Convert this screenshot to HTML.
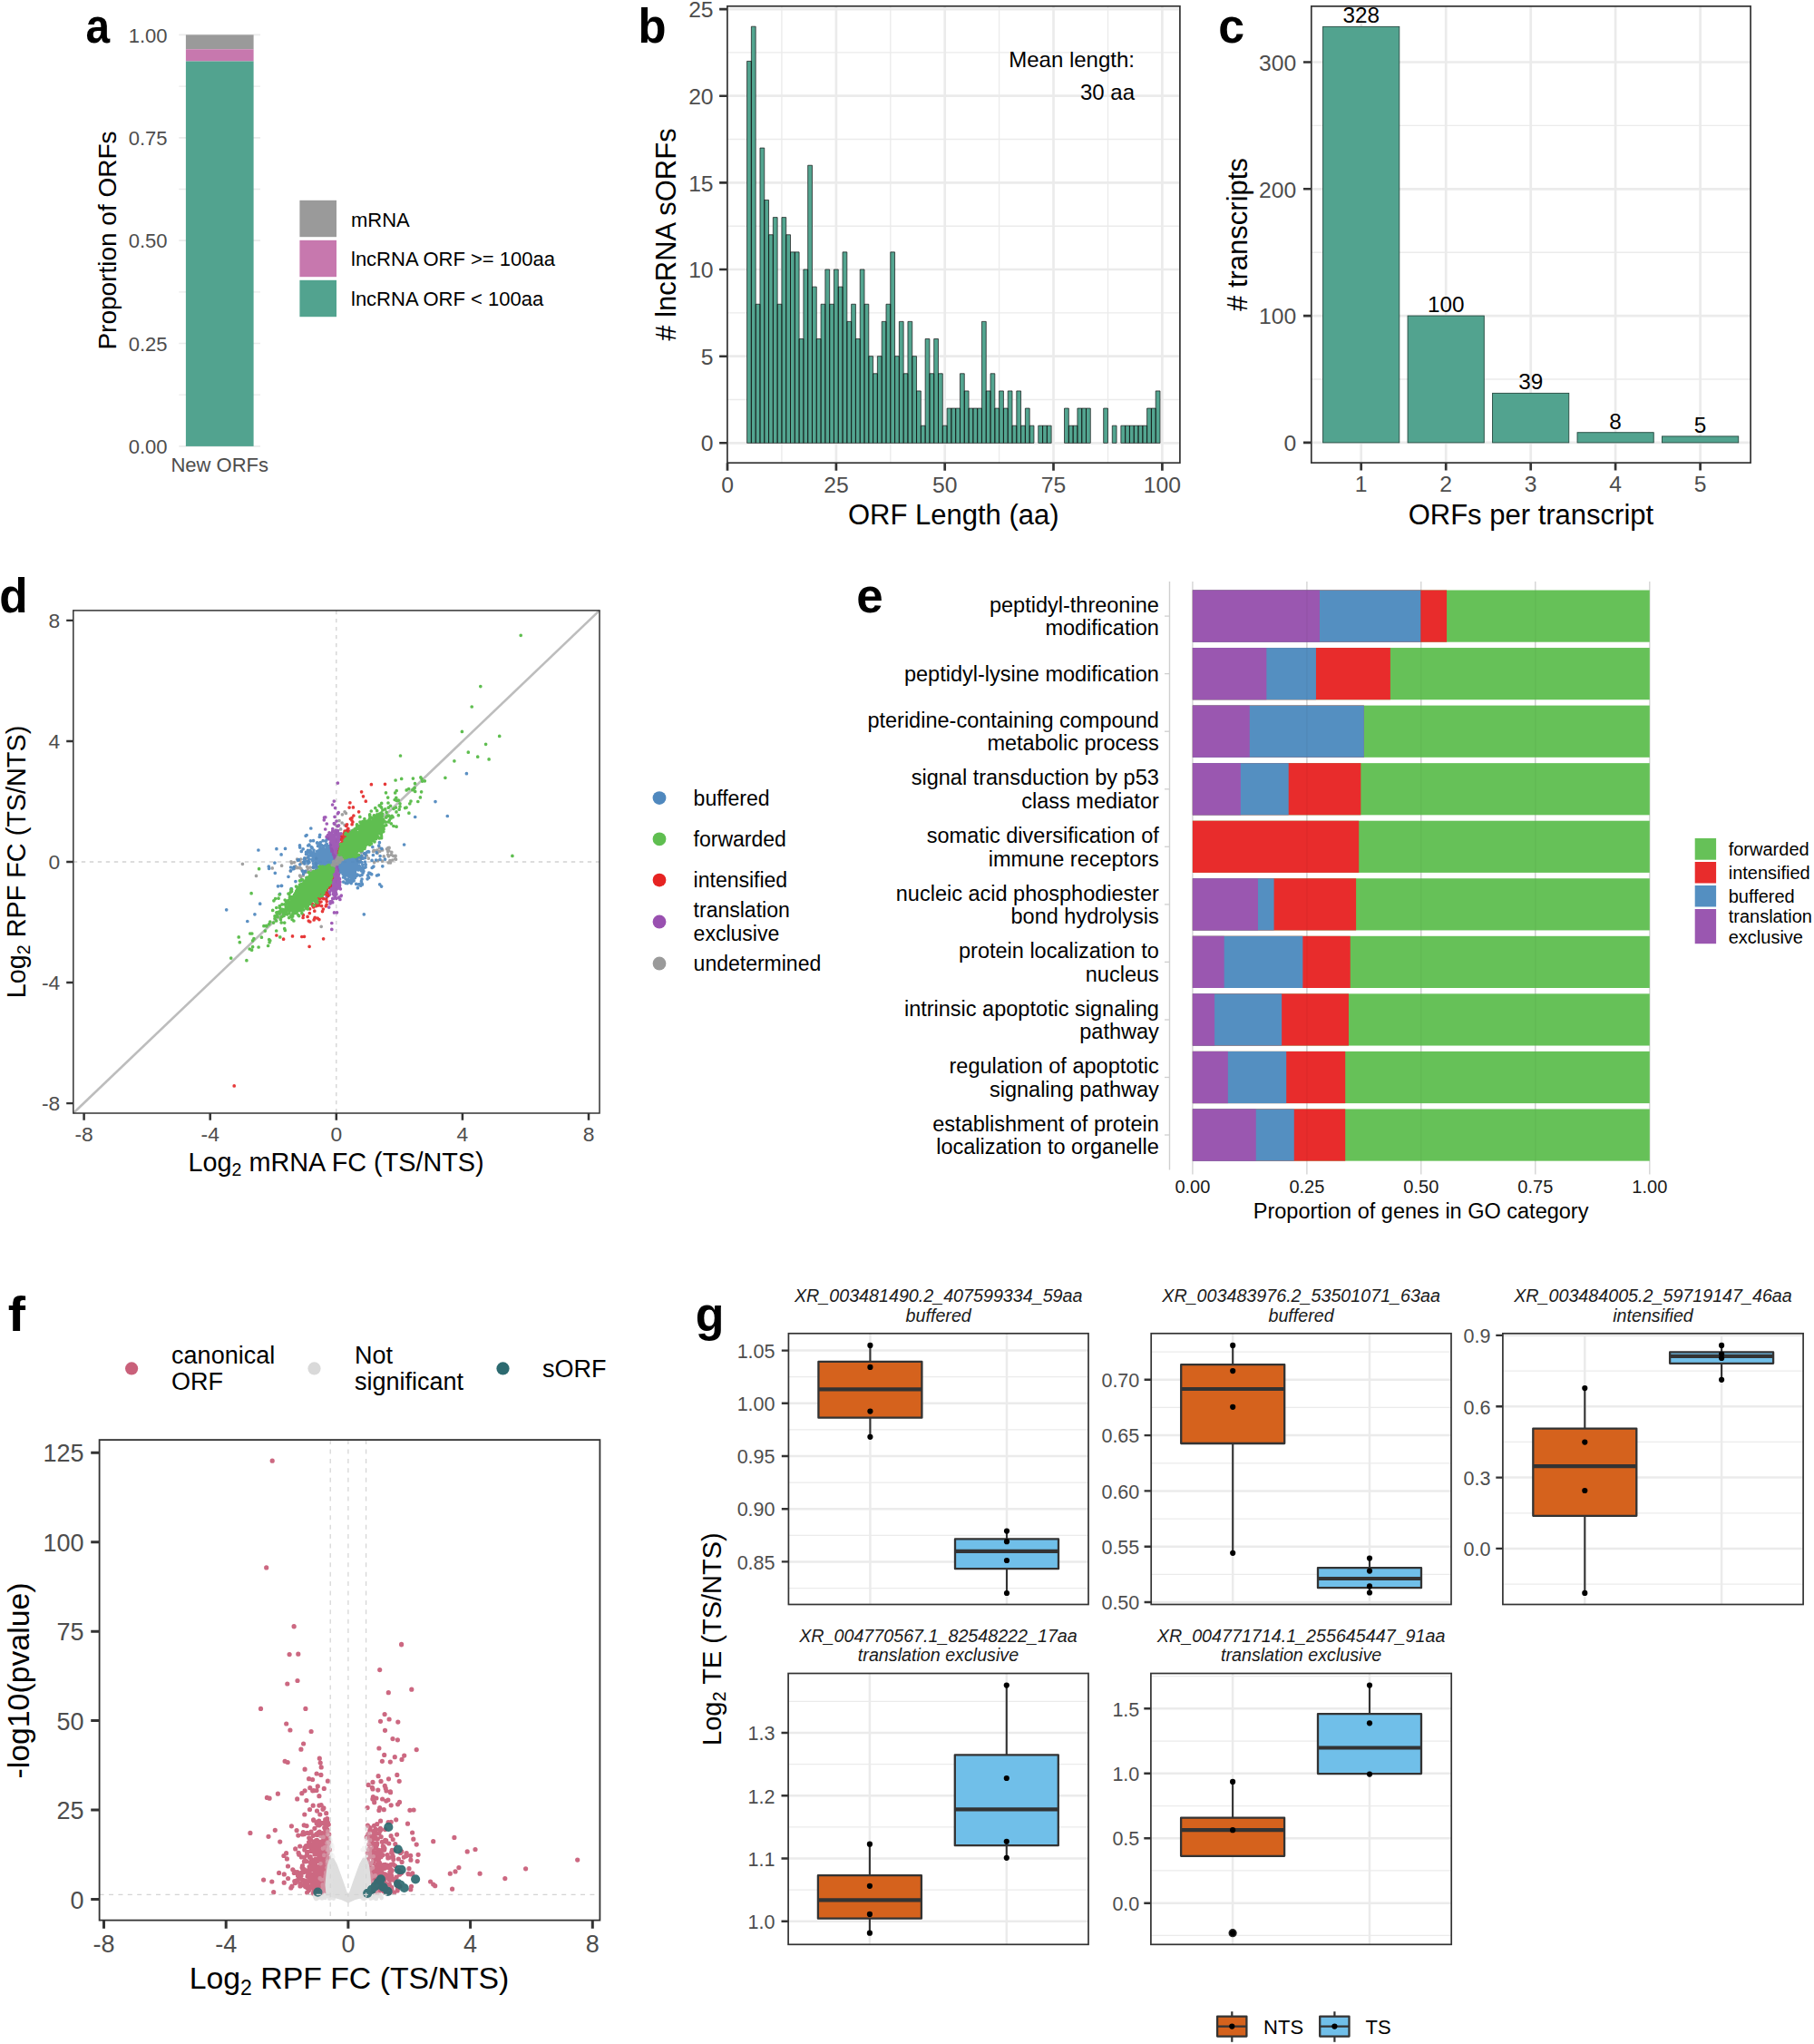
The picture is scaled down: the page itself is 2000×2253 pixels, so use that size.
<!DOCTYPE html>
<html><head><meta charset="utf-8"><title>figure</title>
<style>html,body{margin:0;padding:0;background:#fff}svg{display:block}text{font-family:"Liberation Sans",sans-serif;white-space:pre}</style></head>
<body>
<svg width="2000" height="2253" viewBox="0 0 2000 2253">
<rect width="2000" height="2253" fill="#fff"/>
<path d="M197.3 435.2H287M197.3 321.8H287M197.3 208.5H287M197.3 95.1H287" stroke="#ebebeb" stroke-width="1.3" fill="none"/>
<path d="M197.3 491.9H287M197.3 378.5H287M197.3 265.1H287M197.3 151.8H287M197.3 38.4H287" stroke="#ebebeb" stroke-width="1.7" fill="none"/>
<rect x="204.90" y="38.40" width="74.70" height="15.87" fill="#9a9a9a"/>
<rect x="204.90" y="54.27" width="74.70" height="13.24" fill="#c778ae"/>
<rect x="204.90" y="67.51" width="74.70" height="424.39" fill="#52a38f"/>
<text x="184.5" y="500.1" font-size="22" text-anchor="end" fill="#4d4d4d">0.00</text>
<text x="184.5" y="386.7" font-size="22" text-anchor="end" fill="#4d4d4d">0.25</text>
<text x="184.5" y="273.3" font-size="22" text-anchor="end" fill="#4d4d4d">0.50</text>
<text x="184.5" y="160" font-size="22" text-anchor="end" fill="#4d4d4d">0.75</text>
<text x="184.5" y="46.6" font-size="22" text-anchor="end" fill="#4d4d4d">1.00</text>
<text x="242.2" y="519.9" font-size="22" text-anchor="middle" fill="#4d4d4d">New ORFs</text>
<text transform="translate(127.5 265) rotate(-90)" font-size="28" text-anchor="middle" fill="#000">Proportion of ORFs</text>
<rect x="330.40" y="220.80" width="40.60" height="40.40" fill="#9a9a9a"/>
<text x="387" y="249.6" font-size="22" text-anchor="start" fill="#000">mRNA</text>
<rect x="330.40" y="264.80" width="40.60" height="40.40" fill="#c778ae"/>
<text x="387" y="293.2" font-size="22" text-anchor="start" fill="#000">lncRNA ORF &gt;= 100aa</text>
<rect x="330.40" y="308.80" width="40.60" height="40.40" fill="#52a38f"/>
<text x="387" y="336.8" font-size="22" text-anchor="start" fill="#000">lncRNA ORF &lt; 100aa</text>
<text transform="translate(94.4 46.8) scale(0.893 1)" font-size="53.5" font-weight="bold" fill="#000">a</text>
<rect x="801.90" y="6.80" width="499.00" height="503.40" fill="#fff"/>
<path d="M801.9 440.5H1300.9M801.9 344.8H1300.9M801.9 249.2H1300.9M801.9 153.5H1300.9M801.9 57.9H1300.9" stroke="#ebebeb" stroke-width="1.35" fill="none"/>
<path d="M861.9 6.8V510.2M981.8 6.8V510.2M1101.6 6.8V510.2M1221.5 6.8V510.2" stroke="#ebebeb" stroke-width="1.35" fill="none"/>
<path d="M801.9 488.3H1300.9M801.9 392.7H1300.9M801.9 297H1300.9M801.9 201.4H1300.9M801.9 105.7H1300.9M801.9 10.1H1300.9" stroke="#ebebeb" stroke-width="2.7" fill="none"/>
<path d="M921.9 6.8V510.2M1041.7 6.8V510.2M1161.5 6.8V510.2M1281.4 6.8V510.2" stroke="#ebebeb" stroke-width="2.7" fill="none"/>
<path d="M823.57 488.30h4.79v-420.86h-4.79zM828.37 488.30h4.79v-459.12h-4.79zM833.16 488.30h4.79v-153.04h-4.79zM837.96 488.30h4.79v-325.21h-4.79zM842.75 488.30h4.79v-267.82h-4.79zM847.54 488.30h4.79v-229.56h-4.79zM852.34 488.30h4.79v-248.69h-4.79zM857.13 488.30h4.79v-153.04h-4.79zM861.92 488.30h4.79v-248.69h-4.79zM866.72 488.30h4.79v-229.56h-4.79zM871.51 488.30h4.79v-210.43h-4.79zM876.31 488.30h4.79v-210.43h-4.79zM881.10 488.30h4.79v-114.78h-4.79zM885.89 488.30h4.79v-191.30h-4.79zM890.69 488.30h4.79v-306.08h-4.79zM895.48 488.30h4.79v-172.17h-4.79zM900.28 488.30h4.79v-114.78h-4.79zM905.07 488.30h4.79v-153.04h-4.79zM909.87 488.30h4.79v-191.30h-4.79zM914.66 488.30h4.79v-153.04h-4.79zM919.45 488.30h4.79v-191.30h-4.79zM924.25 488.30h4.79v-172.17h-4.79zM929.04 488.30h4.79v-210.43h-4.79zM933.84 488.30h4.79v-133.91h-4.79zM938.63 488.30h4.79v-153.04h-4.79zM943.42 488.30h4.79v-114.78h-4.79zM948.22 488.30h4.79v-191.30h-4.79zM953.01 488.30h4.79v-153.04h-4.79zM957.80 488.30h4.79v-95.65h-4.79zM962.60 488.30h4.79v-76.52h-4.79zM967.39 488.30h4.79v-95.65h-4.79zM972.19 488.30h4.79v-133.91h-4.79zM976.98 488.30h4.79v-153.04h-4.79zM981.77 488.30h4.79v-210.43h-4.79zM986.57 488.30h4.79v-95.65h-4.79zM991.36 488.30h4.79v-133.91h-4.79zM996.16 488.30h4.79v-76.52h-4.79zM1000.95 488.30h4.79v-133.91h-4.79zM1005.75 488.30h4.79v-95.65h-4.79zM1010.54 488.30h4.79v-57.39h-4.79zM1015.33 488.30h4.79v-19.13h-4.79zM1020.13 488.30h4.79v-114.78h-4.79zM1024.92 488.30h4.79v-76.52h-4.79zM1029.71 488.30h4.79v-114.78h-4.79zM1034.51 488.30h4.79v-76.52h-4.79zM1039.30 488.30h4.79v-19.13h-4.79zM1044.10 488.30h4.79v-38.26h-4.79zM1048.89 488.30h4.79v-38.26h-4.79zM1053.68 488.30h4.79v-38.26h-4.79zM1058.48 488.30h4.79v-76.52h-4.79zM1063.27 488.30h4.79v-57.39h-4.79zM1068.07 488.30h4.79v-38.26h-4.79zM1072.86 488.30h4.79v-38.26h-4.79zM1077.65 488.30h4.79v-38.26h-4.79zM1082.45 488.30h4.79v-133.91h-4.79zM1087.24 488.30h4.79v-57.39h-4.79zM1092.04 488.30h4.79v-76.52h-4.79zM1096.83 488.30h4.79v-38.26h-4.79zM1101.62 488.30h4.79v-57.39h-4.79zM1106.42 488.30h4.79v-38.26h-4.79zM1111.21 488.30h4.79v-57.39h-4.79zM1116.01 488.30h4.79v-19.13h-4.79zM1120.80 488.30h4.79v-57.39h-4.79zM1125.60 488.30h4.79v-19.13h-4.79zM1130.39 488.30h4.79v-38.26h-4.79zM1135.18 488.30h4.79v-19.13h-4.79zM1144.77 488.30h4.79v-19.13h-4.79zM1149.57 488.30h4.79v-19.13h-4.79zM1154.36 488.30h4.79v-19.13h-4.79zM1173.53 488.30h4.79v-38.26h-4.79zM1178.33 488.30h4.79v-19.13h-4.79zM1183.12 488.30h4.79v-19.13h-4.79zM1187.92 488.30h4.79v-38.26h-4.79zM1192.71 488.30h4.79v-38.26h-4.79zM1197.50 488.30h4.79v-38.26h-4.79zM1216.68 488.30h4.79v-38.26h-4.79zM1226.27 488.30h4.79v-19.13h-4.79zM1235.86 488.30h4.79v-19.13h-4.79zM1240.65 488.30h4.79v-19.13h-4.79zM1245.44 488.30h4.79v-19.13h-4.79zM1250.24 488.30h4.79v-19.13h-4.79zM1255.03 488.30h4.79v-19.13h-4.79zM1259.83 488.30h4.79v-19.13h-4.79zM1264.62 488.30h4.79v-38.26h-4.79zM1269.41 488.30h4.79v-38.26h-4.79zM1274.21 488.30h4.79v-57.39h-4.79z" fill="#53a590" stroke="#111" stroke-width="0.7" stroke-linejoin="miter"/>
<rect x="801.90" y="6.80" width="499.00" height="503.40" fill="none" stroke="#333333" stroke-width="1.7"/>
<path d="M793.1 488.3H801.9M793.1 392.7H801.9M793.1 297H801.9M793.1 201.4H801.9M793.1 105.7H801.9M793.1 10.1H801.9" stroke="#333333" stroke-width="2.6" fill="none"/>
<path d="M802 510.2V518.8M921.9 510.2V518.8M1041.7 510.2V518.8M1161.5 510.2V518.8M1281.4 510.2V518.8" stroke="#333333" stroke-width="2.7" fill="none"/>
<text x="786.6" y="497.4" font-size="24.7" text-anchor="end" fill="#4d4d4d">0</text>
<text x="786.6" y="401.8" font-size="24.7" text-anchor="end" fill="#4d4d4d">5</text>
<text x="786.6" y="306.1" font-size="24.7" text-anchor="end" fill="#4d4d4d">10</text>
<text x="786.6" y="210.5" font-size="24.7" text-anchor="end" fill="#4d4d4d">15</text>
<text x="786.6" y="114.8" font-size="24.7" text-anchor="end" fill="#4d4d4d">20</text>
<text x="786.6" y="19.2" font-size="24.7" text-anchor="end" fill="#4d4d4d">25</text>
<text x="802" y="542.7" font-size="24.7" text-anchor="middle" fill="#4d4d4d">0</text>
<text x="921.9" y="542.7" font-size="24.7" text-anchor="middle" fill="#4d4d4d">25</text>
<text x="1041.7" y="542.7" font-size="24.7" text-anchor="middle" fill="#4d4d4d">50</text>
<text x="1161.5" y="542.7" font-size="24.7" text-anchor="middle" fill="#4d4d4d">75</text>
<text x="1281.4" y="542.7" font-size="24.7" text-anchor="middle" fill="#4d4d4d">100</text>
<text x="1051.3" y="577.5" font-size="31" text-anchor="middle" fill="#000">ORF Length (aa)</text>
<text transform="translate(745.3 258.5) rotate(-90)" font-size="31" text-anchor="middle" fill="#000"># lncRNA sORFs</text>
<text x="1251" y="74.1" font-size="24" text-anchor="end" fill="#000">Mean length:</text>
<text x="1251" y="109.6" font-size="24" text-anchor="end" fill="#000">30 aa</text>
<text transform="translate(703.5 46.8) scale(0.95 1)" font-size="53.5" font-weight="bold" fill="#000">b</text>
<rect x="1445.80" y="6.90" width="484.30" height="503.20" fill="#fff"/>
<path d="M1445.8 418H1930.1M1445.8 278.2H1930.1M1445.8 138.4H1930.1" stroke="#ebebeb" stroke-width="1.35" fill="none"/>
<path d="M1445.8 487.9H1930.1M1445.8 348.1H1930.1M1445.8 208.3H1930.1M1445.8 68.5H1930.1" stroke="#ebebeb" stroke-width="2.7" fill="none"/>
<path d="M1500.7 6.9V510.1M1594.2 6.9V510.1M1687.7 6.9V510.1M1781.1 6.9V510.1M1874.6 6.9V510.1" stroke="#ebebeb" stroke-width="2.7" fill="none"/>
<rect x="1458.60" y="29.36" width="84.20" height="458.54" fill="#52a38f" stroke="#24493f" stroke-width="0.9"/>
<text x="1500.7" y="25.4" font-size="24.3" text-anchor="middle" fill="#000">328</text>
<rect x="1552.08" y="348.10" width="84.20" height="139.80" fill="#52a38f" stroke="#24493f" stroke-width="0.9"/>
<text x="1594.2" y="344.1" font-size="24.3" text-anchor="middle" fill="#000">100</text>
<rect x="1645.56" y="433.38" width="84.20" height="54.52" fill="#52a38f" stroke="#24493f" stroke-width="0.9"/>
<text x="1687.7" y="429.4" font-size="24.3" text-anchor="middle" fill="#000">39</text>
<rect x="1739.04" y="476.72" width="84.20" height="11.18" fill="#52a38f" stroke="#24493f" stroke-width="0.9"/>
<text x="1781.1" y="472.7" font-size="24.3" text-anchor="middle" fill="#000">8</text>
<rect x="1832.52" y="480.91" width="84.20" height="6.99" fill="#52a38f" stroke="#24493f" stroke-width="0.9"/>
<text x="1874.6" y="476.9" font-size="24.3" text-anchor="middle" fill="#000">5</text>
<rect x="1445.80" y="6.90" width="484.30" height="503.20" fill="none" stroke="#333333" stroke-width="1.7"/>
<path d="M1437 487.9H1445.8M1437 348.1H1445.8M1437 208.3H1445.8M1437 68.5H1445.8" stroke="#333333" stroke-width="2.6" fill="none"/>
<path d="M1500.7 510.1V518.5M1594.2 510.1V518.5M1687.7 510.1V518.5M1781.1 510.1V518.5M1874.6 510.1V518.5" stroke="#333333" stroke-width="2.7" fill="none"/>
<text x="1429.3" y="497.2" font-size="24.7" text-anchor="end" fill="#4d4d4d">0</text>
<text x="1429.3" y="357.4" font-size="24.7" text-anchor="end" fill="#4d4d4d">100</text>
<text x="1429.3" y="217.6" font-size="24.7" text-anchor="end" fill="#4d4d4d">200</text>
<text x="1429.3" y="77.8" font-size="24.7" text-anchor="end" fill="#4d4d4d">300</text>
<text x="1500.7" y="542.2" font-size="24.7" text-anchor="middle" fill="#4d4d4d">1</text>
<text x="1594.2" y="542.2" font-size="24.7" text-anchor="middle" fill="#4d4d4d">2</text>
<text x="1687.7" y="542.2" font-size="24.7" text-anchor="middle" fill="#4d4d4d">3</text>
<text x="1781.1" y="542.2" font-size="24.7" text-anchor="middle" fill="#4d4d4d">4</text>
<text x="1874.6" y="542.2" font-size="24.7" text-anchor="middle" fill="#4d4d4d">5</text>
<text x="1687.9" y="577.5" font-size="31" text-anchor="middle" fill="#000">ORFs per transcript</text>
<text transform="translate(1374.7 258.5) rotate(-90)" font-size="31" text-anchor="middle" fill="#000"># transcripts</text>
<text transform="translate(1343.3 46.8) scale(0.97 1)" font-size="53.5" font-weight="bold" fill="#000">c</text>
<rect x="80.80" y="672.90" width="580.20" height="554.10" fill="#fff"/>
<line x1="370.8" y1="672.9" x2="370.8" y2="1227" stroke="#d2d2d2" stroke-width="1.3" stroke-dasharray="4.4 4.6"/>
<line x1="80.8" y1="950" x2="661" y2="950" stroke="#d2d2d2" stroke-width="1.3" stroke-dasharray="4.4 4.6"/>
<line x1="80.8" y1="1227" x2="661" y2="672.9" stroke="#bdbdbd" stroke-width="2.6"/>
<path d="M321 949.8h0M332.4 951h0M349.2 955h0M334.3 965.1h0M327 955.8h0M339.9 949.3h0M330.6 965.2h0M327.6 947h0M325.3 956.9h0M347.8 966.1h0M337.4 946.1h0M325.8 954.8h0M347.1 963.8h0M335 950.4h0M339.6 956.5h0M325 956h0M330.3 956.3h0M330.1 948.5h0M342.7 959.8h0M336.6 960.7h0M332.8 959h0M339.2 958.6h0M333 951.1h0M331.6 947h0M324.3 950.6h0M331.9 957.4h0M338.5 955.3h0M331.6 966.6h0M321.5 951.3h0M335 951.6h0M348.5 951.9h0M320.3 960h0M337.2 961.5h0M348.8 946.2h0M345.2 956.4h0M345 963.8h0M328.3 956.6h0M341.9 956.1h0M397.9 945.4h0M406.3 946.2h0M399.2 944.1h0M411.9 937.5h0M427.7 942.1h0M412.5 937.4h0M431.8 939.3h0M427.9 934.5h0M393.5 935.6h0M404.2 943h0M427.7 938.5h0M398.3 939.6h0M394.8 945.1h0M428.4 943.8h0M418.8 938.3h0M428.8 937.8h0M392 944h0M412.6 950.6h0M416.1 940.5h0M429.1 934.4h0M397.5 947.4h0M421.5 949.2h0M401.8 941.1h0M399.3 937.4h0M430.4 951h0M415.8 937.1h0M435.8 946.6h0M399.3 935.6h0M432.8 948h0M411.6 938.5h0M429.9 948.6h0M421.7 936.9h0M416.5 948.6h0M393.3 946.5h0M428.2 950.8h0M392 945h0M394.5 948.9h0M392.7 942.1h0M423.2 943.9h0M397.8 945.6h0M418.4 934.5h0M436.5 947.2h0M392.1 936.5h0M433.6 943.3h0M426.5 935.8h0M381.4 896.4h0M371.2 910.4h0M375.6 913.9h0M386.6 916h0M382.5 915.1h0M377.1 907h0M374 904.6h0M380.1 909.4h0M267.4 952.3h0M282.5 965.4h0M300.2 956.9h0M310.6 954.2h0M436.1 943.4h0M431.4 942.2h0M354.2 1021.3h0M380.1 894.8h0M377.4 897.8h0" stroke="#9a9a9a" stroke-width="3.7" stroke-linecap="round" fill="none" stroke-opacity="0.93"/>
<path d="M358.2 938.7h0M368.5 946.3h0M364.4 946.5h0M353.4 939.1h0M348.4 941.4h0M353.6 944.6h0M348.8 955.3h0M354.5 942.8h0M346.6 946.9h0M365.6 945.9h0M360.9 940h0M365.5 936.1h0M367 946.7h0M355.8 949.5h0M358.9 943.4h0M361.4 949.7h0M363.3 948.2h0M340.2 942.8h0M348.6 948.9h0M363.5 947.8h0M361.3 953.3h0M365.8 950.1h0M365 951.2h0M362.8 945.3h0M362.3 948.4h0M345.2 940.7h0M363.2 942.3h0M359.5 944h0M358.1 936.1h0M362.7 942.5h0M359.9 945.7h0M367.2 947.3h0M362.7 953.8h0M345 944.1h0M365 950h0M357.1 938.3h0M361 945.2h0M360.4 949.7h0M365.5 946.3h0M362.6 945.9h0M367.1 949.2h0M358.1 947.7h0M363.5 944.8h0M351.8 945.9h0M357.5 939.4h0M365.5 945.2h0M368.9 948.2h0M367 950.3h0M367.6 948.1h0M346 937h0M354.4 955h0M351.9 942.4h0M335.8 945.8h0M364.8 947.7h0M366.6 950.5h0M368 949.3h0M363.5 946.2h0M364.2 940h0M367.4 943.4h0M360 947.6h0M352.8 946.9h0M365.9 947.9h0M366.5 940.5h0M365.6 948.7h0M358.2 940.2h0M366.7 941.4h0M368.6 945.9h0M358.5 939.7h0M343.3 933.7h0M368.8 948.2h0M358.8 948.3h0M363.4 947.4h0M354.5 941.3h0M359.3 951.6h0M357.9 946.4h0M367 949.6h0M358.8 943.5h0M364.1 948.3h0M365.5 947.9h0M359.1 947h0M358.5 951.2h0M368.5 948.8h0M360.4 945.5h0M356.9 949.7h0M363.8 942.4h0M353 949.7h0M366.2 948.8h0M366.5 949.3h0M344.7 941.8h0M358.7 939.2h0M363.5 950.1h0M368.4 944.3h0M355.5 942.5h0M363.4 942.4h0M365 942h0M365.8 945.6h0M354.9 935.6h0M364.9 941.7h0M355 948.7h0M355.1 947.7h0M358.7 937.7h0M361.1 944h0M362.4 951.7h0M353.2 928.7h0M339.7 932h0M349.3 943h0M361.1 940.9h0M356.1 934.8h0M359.9 941h0M361.7 949.9h0M365.2 951.3h0M349 957h0M350.7 939.4h0M367.3 947h0M358.8 942.9h0M366.9 946.2h0M362.4 932.9h0M357.7 945.1h0M367.6 951.3h0M352 946.3h0M363.3 937.2h0M357.7 946h0M368.3 947.3h0M367.3 945h0M363 936.5h0M366.1 944.1h0M363.1 942.5h0M345.3 940.6h0M359 941.6h0M364.1 949.1h0M361.9 935.4h0M364.5 942.1h0M360.6 945.5h0M359.6 947.8h0M361.1 947.2h0M365.1 948.4h0M329.3 947.5h0M347.7 955.9h0M350.5 932.5h0M351.9 951.5h0M357.4 946.2h0M345.5 941.4h0M362.5 949.1h0M363.2 947.7h0M367.6 950.9h0M356 954h0M367.3 950.5h0M348.7 941.1h0M366 943.8h0M355.1 948.7h0M359.2 938.7h0M365.1 949.2h0M351.8 955.9h0M347.1 943.8h0M362.7 942.4h0M352.1 948.9h0M366.6 948.8h0M352.9 940.2h0M361.8 932.7h0M365.7 950.8h0M360.1 954h0M353.3 955.3h0M357.3 932.6h0M358.1 942.9h0M345.5 951.9h0M355.4 946.2h0M330.7 934.1h0M342.1 937.4h0M362 947.1h0M342.4 926.8h0M367.2 949.5h0M366.2 947.5h0M367.6 950.9h0M357.7 947.2h0M363.4 940.6h0M354.9 944.2h0M366.2 950.6h0M368.4 948h0M363.9 945.5h0M364.2 945.5h0M356.1 946.7h0M368.6 944.6h0M360.3 930.4h0M344.3 947.7h0M363.3 946h0M352 930.1h0M361.7 947.7h0M368.7 946.2h0M367.7 948.4h0M365.8 946.4h0M364.5 942.9h0M368.5 950.7h0M355.3 937.5h0M365.6 945.2h0M350.5 950.6h0M367 948.9h0M368.2 949.4h0M367.1 947h0M332.3 938.4h0M350 943.8h0M365.1 947.1h0M349.2 958.5h0M365 943.8h0M354.2 949.1h0M339.3 949.4h0M352.4 942.3h0M358.5 942.9h0M364.7 946.6h0M363.7 937.6h0M353.4 951.7h0M363.9 942h0M357.5 940.2h0M363.2 939.9h0M363 945.4h0M360 944.6h0M364.4 935.3h0M361.3 950.6h0M360.3 945.1h0M353 955.3h0M359.1 950.5h0M367.5 946.4h0M350.4 944.5h0M350.1 942h0M360.2 946.3h0M362.3 945.6h0M341.2 939.1h0M356.6 940.5h0M342.3 939.1h0M336 951.9h0M341 947.1h0M360.3 942.5h0M359.5 948.6h0M348.4 952.2h0M356.6 947.5h0M357.6 951.9h0M358.2 949.5h0M362.3 942.9h0M365 946.6h0M365 946.6h0M363.2 945.9h0M345.3 956.1h0M351.1 950.1h0M357.4 956.1h0M361.2 952.7h0M367.5 947.1h0M367.8 945.7h0M367.2 947.4h0M350.8 950.5h0M350.3 943.4h0M348.9 959.1h0M369.5 947h0M365.4 941.5h0M363.6 948.7h0M360.8 953h0M366.4 948.5h0M356.7 947.8h0M359.3 950.8h0M363.9 951.1h0M363.9 942.3h0M362.2 949.2h0M348.7 941.9h0M346.8 954.1h0M358.2 950h0M336.2 947.5h0M361.1 942.7h0M342.4 938.7h0M353.1 949h0M350.5 948.9h0M361.1 952h0M352.1 947.9h0M354 949.6h0M359.9 944.5h0M363.8 939.2h0M347.5 954.9h0M354.2 952.8h0M356.1 926.7h0M363.5 953.4h0M345.7 942.7h0M361.8 945.7h0M361.6 949.2h0M365.6 945.2h0M357.6 952.7h0M362.3 948.2h0M365.3 945.3h0M360.3 939.2h0M362.2 942.1h0M357.2 952.4h0M367.7 951h0M354.5 931.5h0M361.2 948.5h0M350.8 948.7h0M360.2 947.3h0M361.9 937.2h0M363.2 950.2h0M362.1 945.1h0M360.3 942.3h0M364.6 943.6h0M367.1 944h0M362.2 948h0M365.2 950.5h0M365.9 950.5h0M364.4 942.8h0M358.8 948.8h0M344.3 947.2h0M358.4 943.9h0M348.3 960.8h0M361.1 946.4h0M366.9 948.3h0M368.5 947.2h0M365.2 943.8h0M349.9 941.3h0M350.8 940.4h0M350.9 943.8h0M361.2 953.8h0M358.1 942.9h0M349.5 929.1h0M366.6 947.9h0M357.6 950h0M345.5 926.7h0M353.1 952.7h0M358 941.3h0M351.2 949.8h0M359.4 944.8h0M365.5 950.4h0M366.2 951.4h0M364.3 943.2h0M344.6 948.6h0M358.9 941.4h0M356 941.9h0M345.6 955.4h0M364.5 947.4h0M364.2 950.7h0M359.3 938.2h0M358.3 943.9h0M356.9 943.6h0M358.1 943.4h0M363.4 951h0M363.7 946.3h0M360.7 950.7h0M363.1 948.4h0M337.1 921.3h0M366.5 946.6h0M352.7 920.3h0M357.9 948.1h0M349.2 946.8h0M366.8 949h0M355.2 950.4h0M356.7 938h0M365.9 949h0M361.9 943.2h0M340.9 931.2h0M361.6 941.2h0M356.3 953.6h0M361.5 942.3h0M363.2 947.8h0M364.1 949.8h0M364.5 947.6h0M354.5 949.2h0M363.4 946.4h0M348.1 953.2h0M366.6 946.9h0M343 939.9h0M354.8 952.2h0M365.3 935.8h0M357.8 943.1h0M362.6 944.4h0M363.9 945.2h0M367.1 947.6h0M363.5 943.6h0M352.9 945.7h0M353.7 944.8h0M364.8 945.7h0M354.5 938.1h0M366.8 945.2h0M359.8 942.9h0M356.2 949h0M355.7 952.9h0M354.8 950.4h0M367.8 944.5h0M366.4 947.3h0M366.5 949.2h0M367.9 951.1h0M367.4 949h0M363 952.4h0M360.5 943.7h0M350.8 948.9h0M354.1 939.8h0M355.6 947h0M357.3 952.5h0M366.6 947.5h0M356.3 946.1h0M356.6 936.6h0M368.3 943.1h0M364.7 949.2h0M363.5 952h0M349.7 938.3h0M363.1 935.7h0M335.2 947.3h0M362.5 946.3h0M368.2 944.2h0M360.5 950h0M360.6 934.2h0M359.1 944.2h0M365.5 935.9h0M366.2 945.7h0M356.4 950h0M363.8 950.7h0M364.9 947.1h0M365.5 948.4h0M366.3 947.7h0M363.4 945.8h0M347.9 949.4h0M363.8 938.6h0M359.9 953h0M368.7 944.9h0M354.5 947.4h0M355.6 948.6h0M364.9 952.2h0M348 951.1h0M368.7 946.5h0M358.5 949.9h0M366.8 944h0M354.6 944.7h0M342.3 942.9h0M367.7 948.8h0M362.3 940.8h0M366.3 949.9h0M342.8 913h0M366.9 947.2h0M352.9 931.4h0M355.9 942.9h0M357.3 950.4h0M360.6 952.3h0M335.6 947.9h0M346.9 953.4h0M360.4 940h0M359.7 948h0M357.5 947.6h0M365.4 945.6h0M358.7 939.5h0M359.9 951.7h0M354.5 944.1h0M357.8 951.6h0M366.7 947.6h0M367.5 947.5h0M355.1 942.8h0M365.8 948.6h0M357.2 943.2h0M339.6 951.7h0M334.2 935.8h0M358.2 943.4h0M364.4 950.4h0M368.4 946.4h0M363.7 949.5h0M314.5 935.4h0M367.8 949.7h0M368.2 947.3h0M346.2 943.9h0M366.6 943h0M364.4 947.5h0M338.7 940.8h0M366.1 941.7h0M364.8 949.7h0M362.8 944.3h0M357.4 949.4h0M363.7 944.8h0M359.7 942.4h0M361.1 946.5h0M360 945h0M360.7 939.5h0M358.3 940.5h0M356.2 943.6h0M354.1 944.5h0M361.1 946.9h0M349.5 951.9h0M357.9 942.2h0M356.4 947h0M354.9 943.5h0M366.8 950.9h0M359.5 947.3h0M358 944.6h0M365.8 947.1h0M368.8 950.3h0M356.5 939h0M355.5 949.3h0M360.4 943.2h0M355.6 946.5h0M360 951.1h0M359.5 951.2h0M362 950.3h0M367.1 949.9h0M363.6 941.6h0M365.8 941.9h0M356.5 947.9h0M364 943.6h0M361.3 947h0M364.2 950.4h0M365.2 945h0M349.7 928.8h0M355.6 944.9h0M367.1 942.8h0M363.4 952.5h0M363.1 949.5h0M364.3 946.7h0M337.5 941.4h0M358.6 942.9h0M364.3 947.6h0M360.9 953h0M362.1 952.7h0M362.3 948.3h0M365.1 949.4h0M354.5 941.6h0M364.9 948.8h0M341 950.6h0M362.6 942.1h0M351.7 937.5h0M352.8 936.3h0M360.2 953.1h0M354.6 952.3h0M357.5 938.7h0M360.7 949.7h0M365.6 948.7h0M359.9 937h0M362.8 945.8h0M367.9 951h0M366.9 945.9h0M364.5 948.8h0M362.3 948.3h0M355.2 947.3h0M356.6 944.3h0M361.9 951.4h0M359.8 945.9h0M358.6 945.8h0M362.5 943.9h0M364.2 946.5h0M345.9 938.9h0M362.7 941.3h0M365.2 946.7h0M361.6 934.9h0M350.8 932.6h0M353.1 946.2h0M363.2 947.2h0M365.2 950.4h0M359.2 942h0M363.6 948.6h0M355.8 952h0M351.9 942.6h0M361.1 938.1h0M367.6 942.3h0M359.5 951h0M355.1 945.7h0M363.2 949.7h0M359.2 927.1h0M366 951h0M365.3 948h0M360.6 948.5h0M366.9 946.5h0M364.9 941.8h0M352.8 946.8h0M362.2 940.8h0M354.1 942.4h0M342.8 941.3h0M364.8 947.2h0M364.9 943.7h0M339.7 945.1h0M352.3 922.5h0M348.3 959.3h0M360.3 944.4h0M366.1 940.1h0M356.3 949.6h0M361 945.5h0M359 949.7h0M339.5 937.3h0M353.5 937.4h0M358.3 939.5h0M368.2 944.5h0M368.1 947.2h0M358.9 938.3h0M359.2 950.5h0M366.3 944.3h0M350.1 949.5h0M334.8 950.3h0M362.7 944.9h0M338.1 920.5h0M359.5 951.7h0M356.9 942.6h0M353 933.7h0M350.8 947h0M336.6 949.1h0M360 925.9h0M364.3 949h0M356.2 941.8h0M353 935.6h0M362.6 945h0M367.5 948.8h0M360.8 943.2h0M356.2 950.9h0M363.6 946.3h0M358.8 944.4h0M362.3 945.5h0M364.7 944.9h0M361.5 950.4h0M359.6 949.5h0M366.6 946.2h0M364.9 943.1h0M324.1 955.7h0M364 943.8h0M357 935.2h0M360.5 951h0M360.6 945.8h0M344.1 934.3h0M365.9 944.9h0M359.1 946.2h0M360.7 945.6h0M364.6 950.6h0M365.5 945.4h0M361.3 924.3h0M348 951.3h0M362 934.3h0M366.9 946h0M367.6 948.3h0M351.9 946h0M366.8 946.4h0M364.6 949.1h0M337.5 939.3h0M361.1 944.7h0M358.2 940.6h0M363.5 942.8h0M365.6 950.7h0M367 949.4h0M365.8 947h0M354.8 940.7h0M353.2 949.7h0M366.3 937.5h0M367.2 950h0M364.4 931.4h0M357.5 943.7h0M353.7 944h0M356.8 950.9h0M367.9 943.5h0M365.4 950.8h0M360 941.2h0M360.6 936.8h0M330.5 931.9h0M349 953.6h0M357.7 953.6h0M366.7 947.4h0M361 946h0M357 950.7h0M359.3 931.1h0M389.5 950.6h0M384.7 964h0M381.3 951.8h0M372.5 953h0M373.6 950.7h0M379.4 962.5h0M380.5 947.5h0M396.2 954.7h0M382.2 958.9h0M382.1 946.6h0M389.9 945.2h0M391.7 950h0M398.9 950.5h0M376.5 953.5h0M378.2 952.6h0M378.2 952.2h0M394 948.1h0M393.1 949.3h0M377.8 959.9h0M373.8 954.4h0M381.2 949.4h0M396.8 956.5h0M393.4 956h0M386.8 959.6h0M391.2 945h0M389.2 951.6h0M420.6 977.1h0M380.1 946.1h0M372.8 951.4h0M387.3 950.8h0M374.9 954.1h0M388.1 959h0M384 950.6h0M391.6 955.9h0M389.3 961.5h0M392.3 953.5h0M380.6 953.7h0M378.2 954.5h0M389.3 964.9h0M389.4 954.5h0M377.3 953.8h0M375.2 957.6h0M396.6 974.5h0M384.6 952.4h0M380 957.7h0M376.6 959.4h0M382.4 946.3h0M375.1 960.1h0M377.5 960.3h0M378.2 950.3h0M401.6 956.6h0M419.1 943.5h0M377.2 954h0M381.9 951.3h0M383.8 947.3h0M393.6 957.7h0M381.2 952.8h0M391.2 956.8h0M401.7 940.6h0M389 943.8h0M386.6 949.7h0M411.9 955.1h0M388.5 948.5h0M379.3 954.3h0M384.6 949h0M391.6 954.6h0M383.4 955.2h0M381.1 953.2h0M379.1 950.2h0M375.4 953.1h0M375.1 950.5h0M374.9 950.7h0M374.5 955.2h0M374.3 959.8h0M393.5 951.8h0M385.3 951h0M409.7 963.7h0M378.5 954.5h0M391.5 961.9h0M383.7 959.9h0M402.5 950h0M384.8 943.2h0M391.8 963h0M399 964.5h0M378 949.6h0M377.5 958.8h0M378.5 949.1h0M384.3 959.4h0M378.7 952.2h0M388.1 946.2h0M393 944h0M376.9 955.8h0M376.1 959.7h0M375.9 953.1h0M379 953.4h0M381.5 951h0M387.2 958.5h0M390 960.4h0M382.2 954h0M377 961.4h0M375.1 954.3h0M390 952.8h0M375.4 950.9h0M395 955.3h0M375.6 954.2h0M382.6 945.2h0M375.1 958.4h0M384.3 950.6h0M383.5 959.1h0M382.1 959.6h0M381.3 956.9h0M384.2 958.1h0M399.2 974.1h0M377.5 951.3h0M391.4 960.9h0M373.7 950.5h0M392.3 953.2h0M383.5 953.1h0M385 964.1h0M396.1 944.5h0M377.2 953.2h0M374.6 959.9h0M377.5 961.6h0M403 952.6h0M382 948.4h0M383.7 948.2h0M373.3 950.3h0M380.4 954.6h0M398.4 971.3h0M387.1 949.3h0M398.5 938h0M389.2 948.3h0M386.2 959.4h0M388.7 961.6h0M386.8 959.1h0M378.3 959.5h0M376.6 948.3h0M374.4 949.7h0M386.3 949.8h0M376.2 958.8h0M378 959.7h0M395.3 957.9h0M379.8 950.5h0M382.4 952.1h0M373.8 952.5h0M374.3 953.9h0M383.1 960h0M378.9 955.7h0M385.7 960.4h0M418.7 974.8h0M392.7 974.3h0M380.1 954.2h0M379.1 957.1h0M388.4 962.5h0M378.3 952.4h0M400.2 946.2h0M376.1 949.3h0M403.1 955.8h0M385.8 951.4h0M384.9 972.1h0M380.9 958.6h0M376.1 952.6h0M372.7 952.9h0M385.8 944.3h0M387.3 950.7h0M387.8 951.5h0M382.4 945.8h0M388.1 943.5h0M392.5 953.3h0M384.8 953.4h0M393.3 957.8h0M382.1 945.2h0M393.2 953.5h0M377.2 951.8h0M380.1 953.6h0M385.6 954.8h0M381.7 956h0M392.3 943.1h0M387.8 957.8h0M386.1 949.4h0M377.3 950.7h0M393.8 951h0M380.3 948.9h0M387.8 967.3h0M377.6 950h0M377.3 950.8h0M394.3 955h0M384.6 955.8h0M390.4 966.9h0M376.5 952h0M388.9 953h0M375.5 953.3h0M390.9 956.6h0M384.5 959.8h0M394.2 942.6h0M377.6 954.7h0M379.1 947.7h0M374.8 951.6h0M383.6 957.4h0M397 975.2h0M377.2 951.7h0M388.8 968.5h0M383.4 944.3h0M388.8 958.4h0M378.1 956.2h0M385.6 950.7h0M382 950.8h0M380.6 957.6h0M374.3 959.4h0M387.7 957.8h0M392.4 949.3h0M386.7 949h0M421.8 954.8h0M381.7 954.9h0M374.1 952.5h0M376 951.2h0M385.3 957.7h0M375.9 956.7h0M382.7 963.4h0M383.5 958.8h0M387.2 973.6h0M372.5 952.4h0M377.1 958.1h0M386.1 959.3h0M380.3 965.4h0M378.9 954.1h0M378.5 961.2h0M372.8 954.3h0M381.1 955h0M390.8 951.8h0M375.7 954.6h0M381.4 949.9h0M382.6 955.9h0M393.6 950.6h0M373 952.3h0M383.6 948h0M387.8 960.4h0M378.1 954.3h0M391.6 950.3h0M375.2 953.3h0M376 951.5h0M397.2 949.6h0M379.3 948.7h0M383.2 945.9h0M378.4 960.1h0M393.6 964.7h0M376.3 948.4h0M374.6 956.1h0M378.5 949.9h0M386.9 953.1h0M374 953.3h0M392.2 948.1h0M381.2 946.7h0M400.9 960.3h0M377.8 955.5h0M376.2 950.3h0M378.1 951.3h0M373.8 954.2h0M379.1 952.8h0M378.4 949h0M385.3 949.1h0M388.4 963.7h0M377.9 953.2h0M381.9 956h0M385.4 958.6h0M374.2 948.6h0M380.3 947.9h0M378.6 947h0M385.8 955.7h0M376 949.7h0M383.1 950.6h0M385.3 961.9h0M383.9 965.8h0M384.7 955.9h0M381 953.8h0M375.7 951.6h0M379.2 948.9h0M385.9 953h0M380.4 951.4h0M381.8 954.8h0M379.2 966.3h0M383.5 949.2h0M384.9 965.2h0M375 961.5h0M379.7 951.4h0M386.8 951.6h0M382.3 960.1h0M395.1 959h0M379.1 947.7h0M384.3 958.5h0M376.3 951.3h0M374.5 953.7h0M380.7 959h0M383.6 957.3h0M375.2 960.9h0M383.9 948.6h0M376.2 953.9h0M381.1 952.4h0M380.4 956.5h0M379.3 945.9h0M397.7 976.2h0M376.4 954.9h0M388.8 951.4h0M379.5 958.3h0M382.8 952.7h0M391.4 948.8h0M387.6 953.4h0M374.3 951.6h0M391.3 965.2h0M380.9 952.6h0M394.4 978.7h0M384.3 952.6h0M377.8 955.9h0M388.2 945.3h0M376.7 947.2h0M394.1 964h0M373.4 951.2h0M380.8 953.1h0M385 963.7h0M392.8 942.1h0M403.2 953.3h0M388.6 949.8h0M373.4 952.6h0M375.9 952.5h0M377.7 961h0M380.6 959.8h0M383.8 961.1h0M388.9 953.3h0M375.5 950.5h0M383.8 951.2h0M375.5 950.1h0M392.2 957.8h0M381.2 973.5h0M374.7 951.2h0M393.9 946.3h0M375.9 956.4h0M382.7 952.5h0M382.6 950.3h0M388.2 964.7h0M395.8 950.9h0M375 954.4h0M378.9 951.5h0M387.2 949.1h0M374.9 955.3h0M380.2 956.4h0M388 951.2h0M375.6 951.7h0M382.9 960h0M378.5 967h0M379.1 950.1h0M374.5 959.1h0M374.5 958.6h0M381.6 949.1h0M386.8 959h0M396.2 954.6h0M386.4 952.1h0M386.7 954.9h0M383.2 952.3h0M385.1 964.3h0M376 953.5h0M375.7 955.3h0M379.5 951.6h0M372.5 954.3h0M391.4 967.6h0M377.3 950h0M377.3 951.3h0M372 952.2h0M373.7 957.8h0M377.5 949.1h0M384.5 955.9h0M383.8 947.7h0M377.3 950.7h0M381.7 956.3h0M381.5 957.9h0M377.4 950.5h0M373.8 955.3h0M379.1 952h0M378.6 952.6h0M385.5 955.8h0M394.5 954.6h0M386.6 966.2h0M389.7 951.4h0M378.8 957.8h0M382.6 961.5h0M388.5 952.3h0M381.3 945.1h0M378.1 953.5h0M386.7 951.5h0M377.3 955.2h0M386.2 970.7h0M381.6 957.5h0M378 962.4h0M374.5 948.8h0M376.1 954.2h0M382.6 970.1h0M405.1 968.8h0M377.2 949.2h0M376.9 954.2h0M415.5 965h0M376.8 954.3h0M378.3 955.1h0M374.1 949.1h0M400.1 962.2h0M387.4 968.5h0M379.1 954.6h0M382.9 946.9h0M373 950.5h0M372.2 952.8h0M383.2 946.4h0M385.1 954.6h0M375.8 952h0M381 953.5h0M382.3 948.5h0M378 954.6h0M384.3 958.2h0M387.1 960.7h0M382 951.6h0M377.7 948.5h0M382.2 952.5h0M391.6 959.4h0M380.1 956.3h0M380.4 954.7h0M393.7 951.1h0M384.8 946.8h0M380.5 945.8h0M382.1 953.4h0M392.7 953.9h0M374.4 951.2h0M399.4 975h0M384.3 955.1h0M375.1 949.1h0M389.6 960.3h0M375.2 951.8h0M390.6 957.1h0M379.1 956.2h0M375.1 951h0M381.7 962.7h0M381.5 973h0M408.2 962.7h0M377.6 951.8h0M381.1 968.8h0M379.7 946.1h0M374.5 950.3h0M379.6 948.1h0M384 961.9h0M383.4 962.4h0M375.5 949.9h0M381.8 954.8h0M377.1 951h0M385.4 952.8h0M386.2 948.6h0M389.3 959.1h0M378.9 952.7h0M383.4 950.3h0M380.6 945.6h0M411.4 955.5h0M374.7 952.7h0M390.1 970.8h0M384.8 958.1h0M376.1 950.4h0M378.7 972.1h0M374.6 949.6h0M387.1 950.7h0M385.6 954.3h0M384.7 957.4h0M380 961.7h0M377 948.6h0M378.9 956.1h0M374.7 951.2h0M382.6 955.6h0M375.6 952.8h0M375.7 953.7h0M374.8 960.9h0M386.6 950.4h0M381 950h0M386.9 956.1h0M378.5 961.2h0M375 952h0M405.5 964.9h0M383.1 973.6h0M379 962.8h0M391.4 958.3h0M377.9 953.8h0M382.5 957.1h0M387.1 958.7h0M383.7 961.4h0M378.5 954.4h0M381.6 951.9h0M402.5 945.6h0M380 954.3h0M380.3 958.5h0M376.7 959.2h0M383.1 947.5h0M380.6 946.4h0M390.5 942.2h0M378.9 952.4h0M382.1 953h0M400.5 957.5h0M383.5 969.7h0M384.9 955.5h0M380.4 946.1h0M397.1 958.1h0M398.6 943.1h0M377.3 950h0M378.2 963.5h0M379.7 948h0M386.1 961.9h0M385.5 967h0M374.2 949.3h0M376.3 948.4h0M390 961.4h0M382.2 954h0M388.4 950.8h0M377.9 955.2h0M373.7 953.1h0M391.2 947.6h0M381.8 963.1h0M383.2 952.1h0M387.6 957.7h0M374.3 950.7h0M385.8 945h0M376.1 954.1h0M389.2 960.3h0M380.8 959h0M379.2 954.5h0M383.2 955.5h0M377.2 953.2h0M406.8 962.2h0M384.3 952.7h0M380.5 952.4h0M383.2 954.6h0M379.6 948.7h0M403 942.1h0M380.8 952.1h0M377.4 953.8h0M394 945.7h0M389.3 952.4h0M389.4 946h0M379.8 952.4h0M379.6 949.7h0M376.6 956.1h0M377.2 953.2h0M375.7 950.9h0M382.6 961.5h0M385.9 956.2h0M399 969h0M375.5 953.4h0M389.1 969.7h0M391.4 950.4h0M377.8 956.4h0M379.8 954h0M380.8 951.8h0M377.1 959.9h0M373.6 953.6h0M381.6 947.1h0M380.7 955.4h0M377.6 951.5h0M398.4 946.2h0M392.1 954.3h0M374 954.6h0M381.6 953.7h0M384.8 950h0M375.4 959h0M406.6 967.4h0M385.1 955.2h0M390.4 955.1h0M399.1 956.3h0M388.8 964.4h0M395.3 974.8h0M378.3 960.6h0M375.6 955.5h0M381.6 960.2h0M376.9 951h0M386.5 949.4h0M398.1 958.8h0M388.3 962.6h0M377.8 953.7h0M380.1 966.8h0M387.1 947.5h0M391.8 953.9h0M380.4 956h0M373.5 952.4h0M417.3 964.3h0M382.8 945.9h0M379.2 955.2h0M387.9 955.8h0M377.1 950.7h0M389.5 953.5h0M393 965.5h0M384 950.1h0M387.2 949.3h0M391.9 947.8h0M384.3 962.5h0M376.9 952.2h0M381.7 946.2h0M375.4 952h0M383.8 956.5h0M373.3 956.3h0M398.6 959.9h0M390.1 961.8h0M384.6 960.3h0M377.2 950.4h0M376.9 955.2h0M376.5 957.1h0M378.8 950.7h0M377.8 950.4h0M383.9 953h0M379.1 955.8h0M378.9 957h0M377.6 951.5h0M375.9 954.7h0M389.1 957.4h0M383.9 958h0M376.9 953.7h0M375.9 951.3h0M400.2 956.6h0M375.8 952.1h0M387.3 945.7h0M382.9 961.3h0M377.7 953.1h0M388.5 955.8h0M384 959.9h0M380.8 958h0M380 963.9h0M377.1 957.6h0M386.3 952.7h0M379.7 951.3h0M385.2 953.4h0M385.7 956.2h0M386.8 953.2h0M389.3 954.2h0M389.8 952.1h0M379 961.5h0M391.6 965.6h0M378.9 953.9h0M376.3 959.6h0M397 965.1h0M376.6 953.5h0M386.9 945.9h0M383.4 963.3h0M381.6 953h0M378.6 962.3h0M380.1 956.1h0M374.7 952.5h0M375.1 952h0M382.2 953.9h0M381 955.3h0M374.1 957.2h0M377.4 950.7h0M387.9 954.7h0M296.3 955.2h0M331.9 970.3h0M333.6 960.2h0M308.6 985.4h0M334.6 963.2h0M323.5 957.7h0M330.8 952.8h0M310.1 976.3h0M306.5 976.8h0M321.1 979.5h0M320.5 959.8h0M328.5 948.2h0M284.9 937h0M318 966.3h0M336.6 960.4h0M325.9 971.6h0M320.6 956h0M296.6 957.3h0M303.3 962.3h0M310.6 976.3h0M310.1 941.9h0M304.9 935.7h0M414.6 948h0M445.6 931h0M411.4 942.5h0M417.7 932.2h0M399.7 953.3h0M404.7 939.1h0M401.9 929.8h0M493.3 899.5h0M410.1 948.4h0M410.8 933.6h0M415.2 939.7h0M420.8 935.4h0M406.7 938.9h0M419 947.4h0M418.4 928.7h0M406 938.5h0M514.4 852.7h0M480 883.6h0M457.7 900.5h0M401.3 1007.8h0M249.7 1002.8h0M272.8 1015.5h0M280.9 1007.8h0M286.7 996.2h0M302.9 951.1h0M424.5 947.2h0M410.2 956.5h0M389 971.2h0" stroke="#4f88be" stroke-width="3.7" stroke-linecap="round" fill="none" stroke-opacity="0.93"/>
<path d="M373.3 930.2h0M370.6 941.3h0M370.3 915h0M372.8 925h0M369.7 941h0M368.6 942.5h0M372.7 939.8h0M369.7 929.8h0M366.6 936h0M370.4 924.6h0M367 938.5h0M370.5 944.7h0M368.4 932.6h0M368.8 928.5h0M369.8 937h0M368.3 933.4h0M366.8 916.6h0M366.8 913.6h0M370.6 943.6h0M367.2 937.6h0M369.3 939.5h0M369.3 942.5h0M371.2 933h0M369.7 932.9h0M366.8 915.3h0M367.4 935.4h0M371 946.6h0M371 941.8h0M367.2 933.2h0M371.9 943.4h0M363.3 922.1h0M369.6 943.9h0M370.9 943.4h0M369.6 945.6h0M370.8 944.7h0M372.2 933.3h0M367.9 935.2h0M367.9 929.5h0M369.9 937.3h0M367.6 940.3h0M365.3 933.6h0M365.4 925.9h0M370.2 945.4h0M367.7 933h0M370.3 933h0M369 900.3h0M370 930.6h0M368.4 936.7h0M367.9 934.2h0M371.2 939h0M366.3 925.4h0M366.9 928h0M371.2 937.9h0M371.5 940.1h0M366.8 936.7h0M369.2 940.9h0M372 943.3h0M371.2 930h0M370.5 937.9h0M369.6 928.2h0M370.4 944h0M374.3 931.3h0M369.3 939.8h0M373.5 909.9h0M369.7 937.2h0M372.1 931.7h0M364.9 928.1h0M370.4 931.8h0M367.9 940.3h0M372.3 940.3h0M370.2 939.3h0M368.1 938.6h0M364.9 925.1h0M371.6 938.3h0M370.5 939.3h0M369.8 936.3h0M365.1 931.6h0M367.4 940h0M368.6 936.4h0M376.1 918.9h0M372.4 910.7h0M362 923.9h0M369.2 933.9h0M366.7 938.5h0M369.8 942.7h0M372 931.5h0M367.2 939.2h0M370.4 938.5h0M371.3 943.2h0M370.2 938.6h0M366.2 921.3h0M367.1 924.7h0M367.5 935.3h0M369.8 935.7h0M368.2 938.9h0M369.9 918.9h0M371.6 944.9h0M369.7 933.3h0M370.7 932.7h0M360.3 908h0M368.9 943.1h0M366 923.2h0M371.2 933.8h0M368.2 929.7h0M370.8 937.4h0M370.2 936.6h0M369.5 890.6h0M366.3 925h0M370.8 931.2h0M369.9 945.9h0M370.2 942.2h0M360.1 922.4h0M370.1 936.8h0M357.5 901.2h0M368.1 932.3h0M367.7 933.7h0M369.4 917.4h0M367.4 936.7h0M368 936.3h0M371.8 936.4h0M374.2 926.1h0M370.9 920.9h0M368.3 937.7h0M367.7 936.6h0M368.6 941.9h0M369.8 920.8h0M370.3 933.1h0M371.3 946h0M370.6 928.9h0M370.1 931.4h0M368.8 934.3h0M370.1 941.2h0M358.7 914h0M370.1 942h0M365 929.1h0M370.1 939.9h0M366.6 917h0M368.4 942.1h0M368.3 883.1h0M369.7 931.2h0M368.9 937.5h0M368.5 924.1h0M370.9 943.2h0M373.1 918.3h0M365.3 934.8h0M366.4 933.4h0M369.1 927.2h0M370.4 938.5h0M364.4 928.9h0M370.3 936.3h0M370.6 942.6h0M370 934.3h0M369.5 937h0M368.5 938.8h0M368.6 942.6h0M363.3 924.9h0M369 943.9h0M370.9 934.4h0M366.9 925h0M371 937.7h0M363 917.9h0M365.9 938.2h0M369.8 946.7h0M368.2 941.7h0M371.9 941.3h0M366.4 929.4h0M361.5 920.7h0M372.2 934.6h0M369.1 933.1h0M373.2 895.5h0M369.2 935.1h0M373.9 933.4h0M365.9 934.5h0M369.5 945h0M371.9 937.4h0M369.2 940.4h0M370.6 942.6h0M368.8 943.7h0M372.3 938.5h0M364.1 922h0M366.3 935.3h0M366 920.2h0M373.7 921.6h0M369.2 937.4h0M369.6 939.9h0M371.2 932h0M367.8 931.6h0M370.4 939h0M367.9 936.9h0M368.7 928.3h0M371.5 931.3h0M371.1 941.5h0M374.3 925.4h0M372.6 938.7h0M371.5 942.9h0M369.8 940.4h0M368.3 929.8h0M370 944.9h0M369.1 937.5h0M370.6 930.4h0M370.3 940.7h0M368.9 933.5h0M363.8 922.7h0M374 926.1h0M368.7 937.8h0M368 942h0M367.6 939.4h0M369.9 937.3h0M368.2 927.7h0M369.2 938.5h0M371.1 941h0M373.8 921.9h0M370.9 936.7h0M370.4 935.3h0M369.3 942.8h0M370.7 935.2h0M370.5 944.2h0M367.7 938.2h0M366.1 922.1h0M370.3 942.2h0M368.5 937.5h0M371.1 926.6h0M370.6 937.9h0M367.9 930.4h0M370.2 944.8h0M367.3 938.1h0M367.7 941.9h0M370 936.9h0M370.6 936.7h0M369 930.3h0M376.2 922.8h0M368.4 941.3h0M366.8 922.6h0M374.5 921.2h0M367.4 934.6h0M368.1 932h0M368.8 917h0M367.5 934.1h0M371.5 939.5h0M367.6 937.4h0M370.3 937.3h0M370.5 946.8h0M371.7 935h0M368.6 940.9h0M368.1 922.1h0M372.2 936.7h0M371 905.1h0M372.1 929.9h0M368.9 908.3h0M368.4 927.1h0M365.7 931.4h0M371 938.7h0M370.9 942h0M371.1 943.8h0M365.7 936.6h0M368.3 907.7h0M369.4 932h0M372.9 929.7h0M371 918.1h0M367.9 936.8h0M358.8 900.8h0M371 942.6h0M371.9 930.4h0M368.7 932.9h0M369.1 937h0M369.8 936.2h0M368.1 917h0M365.9 918h0M370.5 939.9h0M370.9 942.2h0M371 927.9h0M372.8 932.1h0M369.8 938.1h0M370.3 937.1h0M370.2 940.9h0M368.3 940.4h0M367.4 920.6h0M372.6 924.2h0M369.9 930h0M369.2 921.4h0M370.4 942h0M371.5 927.3h0M365.7 930.3h0M369.4 933h0M367.2 926.3h0M368.7 928.5h0M371 937.9h0M372.6 932.3h0M372 936.5h0M367 927.1h0M370.7 942.6h0M369 945.6h0M370 940.4h0M369 921.9h0M370 944.5h0M374.2 931.5h0M357.3 903.8h0M370.8 919.5h0M370.1 935.3h0M372.2 933.7h0M372.7 936.2h0M373.2 926.8h0M368.9 940.1h0M370.6 945.3h0M368.8 943h0M368.7 926.4h0M369.2 944.5h0M372.8 936.7h0M369 934.6h0M364.7 919.8h0M369.7 929.2h0M370.8 944.3h0M370.1 944.9h0M365.7 928.8h0M371.4 940.1h0M369.5 942.2h0M371.1 932.3h0M366.6 922.2h0M371 945.6h0M373.6 935.6h0M368.5 925.5h0M366.9 926.6h0M366.6 935h0M370.6 932.4h0M367.3 936.5h0M372.6 915.5h0M369.3 941h0M371.6 935h0M369.8 938.6h0M368.3 935.1h0M370.4 979.8h0M370.9 985.7h0M368.9 974.1h0M367.2 990.1h0M373.5 963.9h0M370.5 963.2h0M367.5 960.7h0M371.8 969.1h0M369.4 971.5h0M370.6 955.9h0M370.3 961.3h0M360.6 983h0M368.7 956.6h0M366.6 969.6h0M369.4 961.7h0M367.9 962.8h0M368.9 957.4h0M364.6 965.6h0M372 969.5h0M373 978.1h0M371.3 968.3h0M374.5 968.9h0M368.2 960.2h0M367.9 977.7h0M369.9 955.2h0M371.9 966.7h0M370.9 962.4h0M369.7 954.3h0M368.7 968.1h0M367.5 965.9h0M366 968.5h0M364.7 965.9h0M371 961.3h0M368.4 957.4h0M368.8 960.5h0M369.7 955.4h0M368.1 981.9h0M363.7 968.1h0M370.8 965h0M370.6 959.5h0M369.8 960.5h0M370.8 952.9h0M370.3 962.2h0M371.6 957.7h0M367.3 974.4h0M370.5 963.6h0M368.2 968.7h0M368.9 968.5h0M371.3 965.3h0M368.4 966h0M360.4 988.7h0M371.4 954.2h0M368.7 960.7h0M367.7 967.4h0M365.6 970h0M372.2 958.4h0M369.6 986.9h0M367.8 963.3h0M368.1 965.9h0M366.3 967.7h0M370.8 955h0M367.8 962h0M371.3 960.4h0M370.3 974.7h0M365.7 962.7h0M370.4 957.8h0M367.4 985.4h0M368.2 971.2h0M365.2 968.1h0M367.8 961.7h0M370.5 962.1h0M369.1 956.5h0M368.6 970.1h0M369.1 965.9h0M364.8 978.9h0M369.3 956h0M371.3 960.1h0M368.4 962.2h0M363.7 970.1h0M365.1 968.6h0M371.9 966.5h0M368.2 986.3h0M368 967.4h0M371.2 966.7h0M368.7 958.2h0M369.8 977.1h0M368.8 958.9h0M363.1 984.9h0M369 959.8h0M368.4 964.4h0M368 971.4h0M368.1 962.3h0M363.5 986.1h0M369.1 966.9h0M368.2 970.6h0M369.1 957.8h0M362.2 970.4h0M368.8 962.8h0M369.7 958h0M367.8 969.2h0M368.3 964.5h0M369.4 958.7h0M370.2 960h0M369.4 961.9h0M367.8 983.1h0M369.8 961.6h0M368.2 972.4h0M363.5 972h0M370.3 959.3h0M370.5 972.2h0M374.3 973.8h0M368.2 974h0M369.6 965.1h0M365.7 962.5h0M369.8 982.3h0M370.5 968.3h0M371.4 967.1h0M366.2 966.9h0M371.5 955.7h0M370.3 978.6h0M368.9 960.6h0M366.9 963.2h0M365.4 962.8h0M363.3 976.6h0M370.4 961.5h0M365.4 977.5h0M369 957.3h0M362 983.3h0M369.4 959.4h0M373.7 989.2h0M372.9 965.4h0M367.9 958.7h0M373.2 963.9h0M366.2 973.6h0M366.8 974.6h0M368.7 978.9h0M372.1 959h0M371.2 954h0M366 976.9h0M369.5 965.5h0M370.1 960.8h0M363.4 973h0M368.2 965.2h0M369.5 970.3h0M366.7 994.7h0M368.4 965.2h0M366.7 970.9h0M371.3 960.6h0M370.3 962.1h0M361.1 974.8h0M366.2 969.9h0M373.3 970.4h0M371.7 974.8h0M366.6 977.7h0M363.5 969.1h0M367.4 975.4h0M368.9 971.1h0M368.6 969.6h0M366.8 977h0M373.5 970h0M369.1 970.8h0M367.5 960.4h0M368.1 965.2h0M370.3 972.9h0M368.8 960.3h0M367.4 972.8h0M369.3 962.2h0M371.3 958.3h0M374.6 975.6h0M369.5 957.6h0M362.7 977.5h0M372.1 974.8h0M360.7 981.2h0M371.4 958.1h0M370.1 956.4h0M368.7 980.4h0M367.4 962.6h0M371.9 969.1h0M371.5 958h0M371.1 960.8h0M371.1 972.5h0M369.8 959h0M364.3 975.8h0M371.6 963.5h0M370.1 959.8h0M371 965.4h0M374.1 975.7h0M366.4 967.8h0M365.2 966h0M366.3 967.1h0M368.5 974.2h0M370.7 959.4h0M370.3 958.2h0M366.6 968h0M368.5 958.8h0M369.3 984.3h0M370.9 990.3h0M372.2 959.8h0M368.9 972.6h0M368.6 963.6h0M374.2 973.3h0M368.7 959.3h0M374.9 991.5h0M365.6 994.2h0M367.1 969.4h0M368.8 967.9h0M370.6 985h0M370.3 963.2h0M370.6 967h0M371.3 976.2h0M369.1 958.5h0M369.9 956.3h0M369.6 988.7h0M374.9 972.2h0M364 993.8h0M367.5 961.6h0M371.1 957.5h0M374.4 976.6h0M371 957.1h0M366.8 978.9h0M366.4 968.9h0M371.5 1005.8h0M367.1 981.8h0M367.1 969.1h0M370.9 959.9h0M375.4 979.8h0M369.1 958.3h0M368.9 976.4h0M368.7 959.5h0M367.9 958h0M367.6 976.9h0M371 954.8h0M368.5 972.6h0M365.4 966.3h0M370.5 955.2h0M364.5 978.2h0M365.7 972.4h0M369.7 975.8h0M362.9 983.7h0M372.1 964h0M362.8 977.6h0M367.1 966.8h0M369.3 967.1h0M368.7 956h0M369.6 958h0M371.2 980h0M371.7 962.4h0M367.7 963.9h0M372.6 959.8h0M366 966h0M368.6 972.2h0M370.2 983.4h0M368.3 962.4h0M374 969.5h0M370.3 958.6h0M367.5 960.2h0M366.7 990.4h0M371.1 958.5h0M367.6 964.3h0M371.8 969.6h0M367.7 976.1h0M369.4 966.2h0M371.7 971.6h0M361.9 971.5h0M370.6 954.1h0M372.9 964h0M364 996h0M370 957.7h0M365.2 979h0M371 969.6h0M369.2 961.9h0M376 987.7h0M368.8 961.5h0M370.2 968.6h0M370.5 957.3h0M369.1 966.9h0M370.7 960.9h0M368.8 955.3h0M371.1 965.2h0M368.9 967.7h0M372 962.7h0M373 966h0M371.9 961.6h0M364.3 974.1h0M367.6 990.6h0M366.1 966.5h0M369.2 961.7h0M368.3 961.3h0M372.5 979h0M363.7 983h0M368.8 958.1h0M370.5 971.8h0M370.8 955.7h0M370.3 956.8h0M369.3 955.9h0M364.8 980.3h0M374.1 968.1h0M367.8 968.2h0M374.6 978.6h0M367.7 964.7h0M364.1 970.3h0M369.6 966.6h0M366.2 969.5h0M376.3 987.1h0M366 971.2h0M368.8 965.6h0M368.1 958.2h0M372.5 975.3h0M369 956.9h0M365.6 968.5h0M369.2 961.6h0M370.1 968.7h0M369.9 967.9h0M370.4 955.6h0M369 959.2h0M360.2 988.6h0M370.2 958.4h0M367.1 979.1h0M370.2 973.7h0M370.2 955.8h0M369.8 987.4h0M370 961.9h0M370 956.2h0M371.6 965.1h0M365.5 993.7h0M370.8 972.8h0M367.8 980.9h0M370.6 962.3h0M369 955.8h0M368.1 960.7h0M372.4 863.1h0M366.6 887h0M372.4 896.7h0M365.8 1017.5h0M365.8 1024.4h0M362.7 1000.1h0M368.5 1005.9h0" stroke="#9950b0" stroke-width="3.7" stroke-linecap="round" fill="none" stroke-opacity="0.93"/>
<path d="M377.5 929.9h0M383.1 915.2h0M380.3 924.6h0M376.8 935.1h0M382.6 908.8h0M377.4 933.4h0M379.1 929.6h0M380.7 922h0M376.6 936.2h0M374.5 935.9h0M380.1 916.2h0M380.7 925.1h0M377.1 928.9h0M380.8 922.6h0M389.9 899h0M376.1 934.8h0M381.3 929.4h0M382.2 918.9h0M380.7 918.5h0M395.6 894.8h0M376.6 936.2h0M376.9 933.2h0M378.4 926.5h0M388.1 908.7h0M379.2 925.3h0M373.6 938.4h0M384 915.7h0M377.1 922.2h0M389.4 889.9h0M376.6 925.3h0M375.7 931.2h0M376.6 935.5h0M375.9 935.4h0M377.8 933.1h0M375.6 940.2h0M388 901.5h0M378.7 929.9h0M374.9 938.5h0M379.2 923.7h0M375.2 937.8h0M382 919.8h0M377.3 934.2h0M379.8 926.6h0M387.8 904.1h0M374.9 939.9h0M383 921.4h0M379.4 918.8h0M377.9 930.4h0M384 916h0M388.9 906h0M379.3 921.8h0M374.2 942.6h0M377 931.7h0M375.5 933.9h0M381.2 924.8h0M379.3 926.4h0M382.2 920.3h0M383.7 918.8h0M382.8 916h0M379.9 917.4h0M376.1 933.3h0M381.9 920.2h0M374 938.5h0M381.5 923.9h0M386.4 902.6h0M385.9 884.8h0M380.2 924.9h0M377.2 932.8h0M374.7 936.4h0M382.3 921.3h0M379.1 933.3h0M400.5 877.8h0M375.9 929.8h0M375.1 938h0M380.6 917.1h0M386.3 919.1h0M377.5 926h0M377.7 927.8h0M376.9 930h0M385 918.4h0M384.2 919.3h0M373.5 940.3h0M377.7 932.2h0M387.6 902.5h0M383.9 913.3h0M373.9 941.5h0M376.2 930.9h0M381.8 910.4h0M379.4 919.7h0M376.5 932.3h0M362.4 967.1h0M353.7 977h0M359.3 976.5h0M355.2 978.3h0M357.3 977.2h0M359.2 979h0M356.4 978.7h0M359.3 973.1h0M360.6 976.8h0M349.1 995.3h0M364.8 966.6h0M351.4 979.7h0M352.3 979.1h0M358.8 973.6h0M357 974.7h0M344.9 998.8h0M356.2 985.7h0M357.3 975.9h0M356.7 990.7h0M361.1 970.4h0M346.7 1012.8h0M352.7 989.9h0M322.5 1031.9h0M357.5 980.7h0M352.5 994.8h0M347.2 987h0M360.4 965.7h0M341.1 1043.3h0M354.7 982.2h0M362.5 964.9h0M353.4 986.5h0M360 983.8h0M359.2 980.8h0M362.3 972.5h0M362 965.9h0M358.8 970.1h0M346.8 1004.2h0M343.7 996.6h0M334.1 1011.5h0M363.3 970.5h0M362.9 970.2h0M357.9 978.9h0M356 976.4h0M356.5 978.8h0M362.5 978.2h0M363.2 967.7h0M354.6 985.4h0M352.2 994.5h0M357.1 980.4h0M360.1 985.7h0M350.5 988.1h0M357.3 972.9h0M361.8 987.4h0M359.8 977.6h0M356.4 1002.1h0M348.3 993.3h0M357.1 981.4h0M341.6 1001.8h0M364.7 970.1h0M362.4 972.8h0M360.9 965.9h0M356.4 971.9h0M345.4 988.3h0M346.1 1014h0M354.9 978.8h0M348.5 996.3h0M363.2 967.2h0M355.5 1004.6h0M360.4 980.5h0M351.6 983.7h0M358.9 970.1h0M360.9 967.7h0M348.7 994.2h0M360.7 975.9h0M352.9 978.5h0M355.5 981.6h0M358.7 977.1h0M340.3 1015.1h0M362 972.4h0M363.5 967.7h0M339.1 1010.4h0M362.7 969.8h0M349.7 994.6h0M346.5 998h0M359.6 976.6h0M361 978.4h0M358.3 979.9h0M354.9 979.5h0M356.8 980.3h0M356.1 978.3h0M351 990.3h0M360.1 997h0M354.3 980.6h0M356.7 984.2h0M362.9 971.3h0M354 986.6h0M358.4 977.2h0M359.3 998.8h0M351.2 995.1h0M356.2 982.9h0M351.8 987.4h0M359.9 980.8h0M359 971.6h0M354.4 980.3h0M361.1 968h0M362.3 970h0M348.6 998.7h0M359 973.9h0M361.6 970.4h0M352.7 984.1h0M341.3 1006.6h0M354.9 989.6h0M353 985.2h0M356.3 975.2h0M353.7 986h0M344.1 988.3h0M360.5 969.2h0M361.9 966.6h0M332.8 1032.5h0M362.9 966.2h0M354.6 998.6h0M360.3 993.5h0M359.6 974.3h0M361.9 974.1h0M354 994h0M352.7 986.4h0M357.8 984.4h0M341.8 1016h0M345.7 999.9h0M352.6 990.5h0M355.1 980.1h0M349.1 990.5h0M347.3 984.2h0M360.7 974h0M354.9 977.8h0M360.2 974.5h0M335.5 1032.3h0M334.4 1008.7h0M357.4 973.1h0M359.2 973.2h0M355.1 974.6h0M351.4 987.7h0M356.3 975.1h0M354.7 985.7h0M352 994.1h0M351.6 998h0M356 978.2h0M347.2 1011.3h0M359.4 975.4h0M363.5 966.4h0M356.1 984.2h0M357.1 978.1h0M352.5 988.1h0M359.2 978.3h0M350.1 1012.1h0M347 987.3h0M363.8 976.1h0M366.4 967.3h0M357.6 980.4h0M364.4 976.2h0M359.6 973.4h0M344.6 996.5h0M362.7 969.6h0M359.7 991.2h0M347 989.5h0M361.2 977h0M355.1 978.8h0M360.9 985.6h0M361.1 973.1h0M358.8 985.6h0M258.2 1196.9h0M409.4 864.7h0M424.5 864.3h0M398.6 872.8h0M403.3 883.2h0M385.1 890.1h0M356.6 1034.8h0M312.6 1035.2h0M304.9 1031h0M351.9 1013.6h0" stroke="#e42a2a" stroke-width="3.7" stroke-linecap="round" fill="none" stroke-opacity="0.93"/>
<path d="M376.7 940.1h0M411.2 918.4h0M386.8 942.5h0M377 946.1h0M394 911.6h0M406 905.7h0M401.3 927.9h0M407.9 926.4h0M415 911h0M416.8 914.2h0M404.1 914.7h0M396.2 936.2h0M399.1 929.1h0M390.5 932.6h0M396 935.8h0M385.8 933.5h0M407.7 912.1h0M399.2 919.3h0M391.8 925.5h0M378.2 940.7h0M403.5 928.4h0M394.3 921.3h0M396 929.6h0M385.7 936.9h0M399.7 936h0M413.4 916.5h0M419.1 914.3h0M394.7 936.1h0M389.6 939.6h0M389.4 927.3h0M379.7 939.3h0M382.7 943h0M408.1 925.4h0M397.1 927.2h0M399.7 924h0M395.7 930.1h0M403.1 917.7h0M375.9 946.3h0M409.8 912.3h0M419.9 908.9h0M420.1 906.8h0M417.6 903.6h0M408.7 908.9h0M406.4 911.6h0M388.9 915.3h0M415.3 905.5h0M407.5 915.4h0M379 945.9h0M396.5 930.8h0M373.9 944.4h0M405.8 907.4h0M382.6 937.1h0M375.2 935.2h0M409.6 924.7h0M418 903.8h0M394.8 926.5h0M405.1 914h0M392.4 922.3h0M408.4 915.7h0M393 927.6h0M418.6 902.1h0M380.9 931.5h0M373.6 943.5h0M417.4 913.7h0M394.5 925.3h0M407.1 913.4h0M389 929.8h0M419.4 906.1h0M409.8 913.8h0M393.3 937.5h0M388.6 933.4h0M405.7 919.8h0M404.6 920.2h0M383.4 940.8h0M401 920.5h0M411.5 910.1h0M390.4 935.5h0M407.2 920.6h0M397 916h0M395 927.2h0M410.6 913.3h0M376.7 932.8h0M414.6 913.5h0M378.6 933.7h0M407.7 926.9h0M400.2 926.4h0M384.4 939h0M411.1 921h0M405.9 922.2h0M381.2 931.7h0M378.3 933.6h0M393.2 926h0M379.6 930.6h0M416.2 905.3h0M391.1 932.5h0M393.2 924.3h0M394.3 934.3h0M379 944.8h0M404.1 921.5h0M381.3 939.1h0M382.2 932.6h0M388.2 938.5h0M379.4 942.1h0M395.9 920.8h0M401.8 916.2h0M403.6 914.2h0M391.9 932.6h0M406.5 904.7h0M415 913.2h0M385.5 937.6h0M415.1 913.1h0M376.6 947h0M412.7 917.1h0M414.2 905.5h0M377.7 943.9h0M381.1 942.3h0M376.6 945.9h0M399.8 930.4h0M399.2 917h0M376 932.7h0M409.3 914.4h0M418.9 907.4h0M393.1 935.3h0M387 918.3h0M401.3 927.5h0M398.3 918.8h0M411.6 924.3h0M388.5 925.7h0M381.2 929.6h0M405.5 920.8h0M411.2 910.9h0M401.5 923.6h0M379.9 928.7h0M409 926.8h0M388.1 925h0M390.5 940.3h0M385.6 943.1h0M391.4 922h0M397.2 913.4h0M410.6 921.2h0M380.5 944.5h0M391 937.1h0M404 927.9h0M393.9 927.5h0M404.3 910.7h0M410.2 907.1h0M400.2 929.9h0M392.3 915.6h0M397.5 924.7h0M404.3 914.7h0M405.4 924.1h0M384.2 922.1h0M380 935.1h0M382.9 944.8h0M396.5 916.7h0M373.7 942.4h0M399.8 924.7h0M416.7 908.7h0M392.9 933.2h0M403.8 914.3h0M419.3 918.2h0M389 924.5h0M387.2 938.9h0M379.9 939.4h0M402.5 906.2h0M391.9 923.8h0M407.8 912.7h0M410.6 915.2h0M400.5 914.3h0M400.8 929.5h0M391.2 923.7h0M390.2 919.3h0M422.3 906.6h0M374.6 937.9h0M404.3 925.4h0M404.9 913h0M380.3 938h0M418.3 906.7h0M404.6 925.8h0M416.8 912.1h0M396.9 917.9h0M393.1 935.8h0M421.3 903.1h0M390.2 919.9h0M386.6 938.3h0M405.2 929h0M396.1 920.6h0M394.6 928.2h0M414.8 908.5h0M391.2 936h0M384.7 922.7h0M410.9 910.1h0M390.4 917.5h0M382.1 938.4h0M405.1 923.2h0M404.7 918.6h0M398.9 927.3h0M392.3 926.7h0M390.5 933.4h0M385.1 923.4h0M386 936.8h0M400.3 935.1h0M417.1 907.3h0M398.9 919.4h0M391.1 938h0M409.5 924.1h0M407.3 919.7h0M402.7 932.2h0M403.7 922.6h0M410.7 911.6h0M407.4 917.8h0M401 913.2h0M397.6 929h0M375 945.9h0M391.8 933.1h0M406.5 921.4h0M399.2 922.2h0M391.5 924.2h0M377.5 946.5h0M405.4 909.7h0M413.2 919.6h0M396.8 926.9h0M384.8 925.7h0M388.2 942.3h0M400 914h0M398.1 916h0M404.7 910.4h0M403.7 921.5h0M386.4 938.9h0M380.6 930.8h0M405.7 913.7h0M412.7 917.7h0M382 944.7h0M415.4 906.4h0M390.8 933.6h0M396.5 921h0M405.2 921.8h0M381.9 932.2h0M407.8 924.4h0M402 935.5h0M389.6 936.5h0M402.1 911.5h0M381.1 935.1h0M393 939h0M419.6 912.6h0M399 915.6h0M406.1 911.9h0M408.3 916.8h0M374.1 939h0M400.6 917.3h0M391.9 938.5h0M402.6 915.7h0M378.9 941.9h0M416.2 910.8h0M419.2 907.3h0M410.4 905.9h0M405.3 921.4h0M386.4 935.3h0M393.6 938.3h0M379.5 945.9h0M403.3 919.7h0M413.5 907.7h0M379.8 944.6h0M399.8 928h0M399.8 923h0M401.4 910.3h0M393 924.4h0M402.7 911.9h0M376.2 946.5h0M401.5 925.4h0M386.1 937.9h0M381.1 942.1h0M396 931.3h0M405.7 929h0M403.5 915.7h0M410.2 909.9h0M415.8 909.6h0M380.1 935.5h0M404.7 930.6h0M394.5 934.9h0M399.2 929.1h0M416.1 915.5h0M408.2 910.8h0M405.3 921.2h0M387.8 927.2h0M391.1 925.8h0M399.8 922h0M391.5 940.7h0M389.6 919h0M378.1 945.7h0M407.3 919.4h0M419.8 908.5h0M421 911.6h0M411 926.7h0M379.7 933h0M392.3 927.6h0M402.7 918.3h0M404.6 926.1h0M406.8 919.5h0M393.3 939.3h0M400 908.2h0M395 920.5h0M415.2 904.5h0M386.9 942.6h0M377.9 935.6h0M402 929.5h0M393 914.3h0M405 921.1h0M422.7 903.7h0M390.5 938.8h0M386.1 942h0M405.2 916.2h0M405.4 906.6h0M407.7 908.8h0M379.4 943.6h0M404.4 928.6h0M415.4 911.8h0M395.6 931.9h0M396.4 926.8h0M397.8 923.5h0M408.8 912.1h0M386.6 936.6h0M405.1 917.8h0M385.8 938.2h0M410.3 925.4h0M376.6 945.2h0M413.9 905.3h0M386.3 942.7h0M420.5 908.4h0M405.2 913.3h0M400 923h0M403.1 920.9h0M377.1 934.2h0M417.7 913h0M394.6 928h0M376.4 944.8h0M411.3 911.8h0M402.2 927.4h0M374.7 946h0M398.2 910.1h0M392.6 929.5h0M383 938.3h0M406.3 923.2h0M407.3 909h0M395.8 927.1h0M409.5 926.2h0M405.4 929.2h0M396.2 933.3h0M378.7 936.2h0M388.5 923.8h0M390.2 915.8h0M394 920.5h0M394.9 932.8h0M377.9 935.6h0M378.6 944.2h0M399.1 918.9h0M409.7 924.9h0M377.8 940.9h0M380.4 933.5h0M382.8 931.4h0M398.6 935.6h0M411.9 920h0M404.7 920.7h0M400.8 910.1h0M402 929.4h0M379.9 930h0M404.9 917.1h0M403.3 930.4h0M400.7 924.3h0M420.4 906.1h0M407 927h0M388.6 934.7h0M392.7 923.2h0M388 927.2h0M406.7 922.1h0M420 909.5h0M387.3 940.2h0M387.5 936.6h0M398.8 925.1h0M414.6 914.2h0M415.2 913.3h0M393.7 927.7h0M407.1 909.1h0M402 914.2h0M409.7 923.7h0M405.1 919.2h0M412.4 909.4h0M386.4 917.9h0M376.1 940.4h0M417.9 916.7h0M386.1 929h0M379.8 929.9h0M381.6 933.3h0M396.8 913h0M390 925.4h0M397.4 932.7h0M403.8 924.9h0M415.8 915.5h0M405 905.1h0M393.4 926.8h0M383.4 926.9h0M405.7 918h0M422.1 906.1h0M402.2 927.2h0M401.8 911.5h0M389.8 919.4h0M404.4 927.5h0M401.4 933.5h0M377.4 934.8h0M408 922.8h0M413 908.7h0M388.1 931.6h0M389.5 933.1h0M399.5 922.9h0M402.8 906h0M415.1 911.7h0M415.8 911.3h0M407.7 912.9h0M397.1 924.7h0M375.2 947.7h0M386.6 925.1h0M399 913.9h0M409.2 924.7h0M392.4 935.2h0M401 933.4h0M395 935.5h0M391.9 934.3h0M393.8 937.5h0M384.8 927.2h0M378.8 933.7h0M409.1 907.7h0M396.5 924.3h0M406.4 912.7h0M386.4 923h0M417.1 904.8h0M402.5 915.9h0M383.3 926.1h0M399.8 919.6h0M402.4 918.8h0M404.6 917.6h0M385.3 920.6h0M411.2 904.4h0M410.1 909h0M388 940.1h0M412.4 908.2h0M391.6 932h0M410.7 904.9h0M398.2 913.6h0M403.8 906.7h0M396.9 926.9h0M411.4 907.8h0M407.1 910.4h0M376.6 943.7h0M388.1 919.5h0M378.8 942.1h0M411.5 920.5h0M391 920.1h0M382.7 944h0M380.4 944.8h0M385.6 939.9h0M406.4 924.3h0M408.1 907.5h0M397 922.7h0M386.9 922.3h0M403.2 922h0M407 927.1h0M382.1 937.6h0M414.4 907.8h0M403.7 925.2h0M399.9 921.2h0M381.1 927.6h0M401.7 927h0M389.1 941.4h0M420.1 908.6h0M380.9 945.5h0M403.5 917.5h0M386.1 928.5h0M394.5 922.7h0M385.6 939.2h0M403.2 907h0M416.6 917.4h0M411.7 915.2h0M396.9 920.4h0M384.1 926.1h0M392.8 918.3h0M402.3 913.7h0M406.1 926.3h0M390.6 938.2h0M376.8 941.1h0M400.9 909.7h0M382.4 932.3h0M411.9 920.6h0M408.8 914.3h0M398.7 937.6h0M380.9 929.1h0M418.9 907.3h0M398.8 935.4h0M384.4 936.7h0M393.4 921.6h0M389.3 936.5h0M402.3 918.9h0M412.8 918.4h0M405.2 923.9h0M417 906.3h0M402.9 907.3h0M402.7 913.3h0M405.2 910.1h0M410.6 911.4h0M375.8 943.4h0M394.2 918.9h0M392 940.4h0M389.5 940.2h0M383.1 934.5h0M403.9 927.3h0M375.3 938.9h0M392.5 925.7h0M416.1 914.1h0M417.8 918.8h0M380.3 943.8h0M408.7 925.2h0M387 942.5h0M382.8 929.9h0M403.3 927.4h0M396.6 928.3h0M410.6 920h0M395.6 926.8h0M376.8 947h0M390.5 938.7h0M394.9 931.2h0M383.3 932.2h0M387.9 923.9h0M414.2 909.5h0M406 921.6h0M392.2 916h0M379.7 943.6h0M419.9 911.7h0M373.5 942.6h0M377.8 936.8h0M387 932.1h0M402.4 926.6h0M398.1 924.9h0M383.3 932.1h0M406.7 916.6h0M419.7 903.2h0M413.1 916.7h0M393.6 931.1h0M375.8 941.5h0M381.4 933.7h0M411.5 913.7h0M409.5 912h0M399.3 925.2h0M404.6 927h0M410 912.2h0M412.5 912.5h0M409.6 906.5h0M380.2 934.9h0M398.1 910.9h0M387 934.6h0M418 911.7h0M416.9 911.9h0M406.6 924.8h0M394.5 926.5h0M400.7 908.9h0M390.3 932.1h0M412.8 912.4h0M418.6 904h0M389 930h0M390 922.8h0M408.1 921.6h0M375.8 943.7h0M412 907.2h0M388.5 938.9h0M380.7 937.5h0M415.9 903.4h0M381.3 924.5h0M413.8 910h0M397.6 934.8h0M386.2 934.9h0M410 916.9h0M384.8 936.6h0M417.8 907h0M416.7 904.3h0M375.4 945.4h0M409.2 906.1h0M402 917.7h0M406.9 918.4h0M400.4 910.7h0M407 909.1h0M404.7 922.2h0M403.9 925.4h0M376.3 935.8h0M397.2 920.3h0M404.8 905.8h0M387.2 922.7h0M381.6 943.1h0M385.3 930.1h0M409.5 924.5h0M414.3 912.1h0M393.8 935h0M395.4 936.9h0M405 919.4h0M416 908.9h0M412 904.4h0M390 941.1h0M378.5 946.2h0M393.4 936.2h0M381.4 927.4h0M400.7 917.9h0M384.2 930h0M386.9 925.9h0M397.8 913.2h0M404.1 917.7h0M396.7 928.1h0M405.9 928.1h0M384.2 931.9h0M377.7 934.5h0M412.1 911.3h0M401.5 910.6h0M378.2 930.1h0M404.2 929.6h0M373.5 942h0M405.9 922h0M393.2 920.9h0M379.6 945.9h0M403.9 922.7h0M388.1 935.4h0M387.4 923.5h0M416.7 915.7h0M402.8 929h0M391.4 928h0M407.1 916.6h0M414.2 913.1h0M420.7 905.9h0M400.9 922.4h0M413.2 909.5h0M383.1 935h0M400.4 925.1h0M415.7 913.8h0M379.7 929.6h0M390.6 920.9h0M397.8 934.5h0M417.5 912.4h0M400.8 908.7h0M377.3 938.3h0M413.6 902.7h0M387.4 920h0M399 918.1h0M402.1 932h0M393.6 924h0M394.2 925.7h0M373.5 945.6h0M407.4 923.1h0M383.6 923.1h0M393.3 922.3h0M414.6 902.9h0M390.1 923.7h0M409.9 909.5h0M406.4 913.1h0M381.4 939.9h0M401.2 921.9h0M387.7 935.9h0M380.2 939.9h0M413.1 921.5h0M395.1 932.6h0M399 935h0M387.4 930.1h0M413.1 915.6h0M390.3 925.5h0M392.4 934.2h0M416.8 904.9h0M390.7 938.1h0M388.4 920.6h0M409.9 905.8h0M403.8 929.5h0M388 928h0M408.2 920.9h0M381.8 930.1h0M398.8 934.3h0M377.7 936h0M409.7 905.7h0M398.6 923.2h0M390.5 924.6h0M398.3 911.9h0M390.1 928.9h0M415.6 908.5h0M388.7 937.2h0M416.5 906.4h0M398.9 914.8h0M406.7 924.6h0M402.8 908.2h0M380.3 943.4h0M397 933.4h0M390.4 935.9h0M399.4 934.4h0M381.3 928.9h0M397.8 921h0M387.7 942.4h0M386.7 939.3h0M401.2 917.9h0M405.8 914.9h0M384.2 932.1h0M386.1 923.3h0M413.2 923.8h0M402.5 931h0M382.1 925.7h0M396.6 926.2h0M415.8 910.3h0M384.8 929.3h0M389.6 922.3h0M413.9 903.5h0M387.1 928.5h0M388.2 925.7h0M377.5 942.9h0M400.4 922.2h0M381.1 931h0M396.3 930.5h0M416.6 907.4h0M390 930.7h0M389.4 926.9h0M406.2 911.4h0M394.4 912.8h0M392.4 932.1h0M415.4 916.5h0M376.6 934.5h0M396.5 930.8h0M380.8 933h0M394.8 936.5h0M417.1 918.6h0M407.9 922.2h0M421 911.8h0M404.7 918.6h0M385.9 938.7h0M409.2 922.1h0M412.7 917.5h0M405.7 924.6h0M383.7 933.1h0M412.9 909.7h0M373.7 947h0M387.8 932.5h0M390.7 920.3h0M375.9 945.8h0M415.2 908.3h0M376 940.8h0M408.7 929.2h0M418.6 914.8h0M418.7 901.8h0M390.8 931.2h0M397.7 931.2h0M408.4 926.7h0M385.7 938.8h0M388.1 933h0M392.5 919.2h0M388.9 919.8h0M388 924.6h0M413.7 903.1h0M401.2 931.1h0M383.2 924.3h0M381.1 944.4h0M403.9 923h0M383 925.4h0M400.7 916.5h0M411 921.6h0M414.5 913.6h0M396.2 925.8h0M374.6 945.3h0M411 905.3h0M410.5 908.3h0M386.5 926h0M391.8 937.5h0M389.4 927.7h0M405.9 922.5h0M376.7 930.9h0M384.9 924.6h0M396.4 929.4h0M397.3 913.2h0M379.2 936.8h0M408.1 913.6h0M397.8 913.7h0M391.3 920.5h0M395.6 925.2h0M381.6 934.3h0M387.9 937.6h0M395.2 920.2h0M405.5 914.1h0M406.1 917.9h0M379.3 931.6h0M375.8 941.9h0M417.6 910h0M414.8 916.2h0M406.8 917h0M383.8 940.7h0M384.3 943h0M395.6 919.7h0M388.3 925.6h0M397.9 925.8h0M385.1 927.6h0M380.1 938.6h0M404.6 922.3h0M387.3 941.1h0M398.3 936h0M382.9 937.5h0M388 931.2h0M402.4 925.5h0M410.7 914.8h0M399.9 927h0M402.1 911.6h0M408 915.5h0M386.4 925.9h0M377.8 938.7h0M388.5 925.4h0M395.1 932.3h0M395 928.3h0M411.9 924.2h0M396.2 930.2h0M418 901.5h0M400.4 909.3h0M406.1 915.4h0M393.4 917.4h0M398.4 933.9h0M411.5 924.9h0M377.5 938.2h0M391 930.8h0M377.6 943h0M406.9 911.4h0M406.2 919.5h0M387.9 934.7h0M389.9 925.4h0M407.9 910.9h0M385.7 933.3h0M405.6 909.1h0M385.2 937h0M401.1 929.4h0M419.1 902.4h0M377.1 943.5h0M384.9 937h0M384.1 937.1h0M397.5 932.5h0M405.1 907.7h0M413.3 914.3h0M393.6 930.6h0M387.4 933.5h0M400.7 931.5h0M401.9 907.4h0M416.3 907.3h0M391.7 935.2h0M397.6 920.4h0M382.2 924.3h0M377.6 940.9h0M406.1 928.2h0M387.9 918.9h0M410.1 911.5h0M389.4 925.4h0M384 927.6h0M405.4 926.5h0M415.5 914.1h0M401.8 925.6h0M409.2 912.4h0M383.6 921h0M374.9 937h0M399 914.7h0M391.6 931.4h0M404 921.5h0M419.6 915.1h0M408.5 909.5h0M397.7 920.5h0M393.4 921.8h0M409.6 923.6h0M404.7 926.8h0M400.6 919.5h0M387.3 926.1h0M402.7 927.2h0M397.2 934.9h0M398.1 924.5h0M399.3 928.5h0M409.6 924.8h0M387.7 932.8h0M397.2 931.2h0M388.2 923.6h0M395.3 930.4h0M409.7 911.6h0M376 933.4h0M389.6 934.9h0M400.1 922.4h0M399.2 937.3h0M385.1 939h0M414.4 907.1h0M403.4 924.1h0M390.7 940.2h0M382.8 936.6h0M378.9 940.3h0M410.6 913.7h0M395.7 912.7h0M393.4 919.9h0M401.7 927.4h0M386.3 938.9h0M416.1 908.4h0M414.9 920.9h0M375.5 945.3h0M400.1 910.5h0M410.6 907.6h0M402.6 927.6h0M391.8 936.9h0M400.6 933.6h0M389.2 926.9h0M389.4 918.6h0M419.8 915.2h0M388.4 922.2h0M380.2 934.7h0M410.9 915h0M413.5 920.9h0M404.8 918.4h0M379.7 945.7h0M409 917.9h0M410.7 910.9h0M420.7 904.4h0M397.6 936.1h0M401.6 930.4h0M376.2 944.2h0M398 923h0M420.1 912.4h0M393.7 917.9h0M386.6 934.5h0M413.9 909.9h0M410.5 925.3h0M407.3 927.2h0M376.9 936.8h0M402.4 933.8h0M392.2 926.9h0M415.5 905.4h0M388.6 920.4h0M417.7 912.3h0M409.2 912.8h0M391 938.9h0M390.3 925.3h0M398.1 932.2h0M420.6 913.4h0M391.4 922.1h0M386.4 933.3h0M383 929.1h0M391 927.7h0M391.2 920.1h0M388.4 932.3h0M383.5 934.3h0M402.9 929.6h0M399.4 917.6h0M389 932.7h0M410 919h0M408.4 921.5h0M409.8 913.9h0M400.1 925.2h0M418.4 913.4h0M396.4 922.6h0M397.2 929.3h0M418 912.7h0M387.4 930.7h0M376.3 937.3h0M376.2 935.6h0M405.4 908h0M395.7 937.6h0M410.1 910.9h0M375.4 943.4h0M397.7 907.3h0M380.5 936.5h0M385 926.9h0M376.8 934.4h0M380.3 929.9h0M406.9 905h0M393.1 935.3h0M420.1 904.8h0M406.5 907h0M382.5 937.5h0M408.1 911.7h0M418.6 909.5h0M377.9 941.5h0M397.7 937.7h0M380 926.4h0M413 920.2h0M392.4 921.4h0M406.2 905.6h0M379.5 944h0M394.3 931h0M407 916.9h0M383.5 937.4h0M377.6 941.7h0M384.9 933h0M414.7 920.2h0M413.9 905.8h0M388 931.6h0M397.2 930h0M417 915h0M392.7 925h0M374 944.7h0M404.9 926.1h0M379.7 943h0M393.3 927.9h0M394.2 919.4h0M392.1 914.9h0M373.6 945.4h0M384.1 928.3h0M415.7 902.9h0M394.8 919.4h0M407.8 926.1h0M388.3 935.9h0M404.3 919.9h0M411.2 907h0M405.5 912.2h0M396.1 926.7h0M380.2 941.5h0M405.9 911.3h0M413.4 914.3h0M405 908.7h0M405 924.4h0M412.9 920.7h0M384.2 941.9h0M409.9 906.8h0M406.3 925.8h0M406.6 928.2h0M417.5 906.7h0M386.3 931.5h0M380.2 926.9h0M399.9 933.2h0M393.9 920.1h0M409.7 905h0M393.7 929.8h0M404.1 911.1h0M400.9 915.1h0M395.6 929.6h0M412.6 908.8h0M397.6 922.6h0M416.4 903.5h0M390.4 919.6h0M403.2 909.5h0M398.2 924h0M410.9 913h0M394.9 929.2h0M402.6 912.3h0M418.5 908.4h0M405.3 917.4h0M399 911.8h0M397.2 910.4h0M394.2 933.1h0M382.6 931.9h0M406 925.3h0M389 936.2h0M384.7 937h0M374.8 941.9h0M420.6 909h0M388.1 926h0M406.5 911.6h0M398.5 910.5h0M399.1 919.1h0M409.9 915.9h0M393.4 926.5h0M387.5 930.3h0M399.1 920.2h0M393.9 927.7h0M406.9 912.2h0M381.2 942.2h0M404.8 910.4h0M389.8 920.1h0M422.8 910.4h0M403.7 907.6h0M384.3 931.1h0M376.4 940.4h0M401.8 925.5h0M389.3 916.5h0M418.5 905.1h0M404.7 916.9h0M408.7 921.3h0M419.5 913.9h0M413.7 916.1h0M399.2 917.1h0M408.4 914.3h0M409.3 918.9h0M388 929.5h0M385.9 937.7h0M400.4 920.1h0M402 916.1h0M413 902.4h0M351.2 971.9h0M323 1004h0M338.9 993.2h0M335.4 971.8h0M346.8 976.3h0M363.6 962.4h0M339.6 990.7h0M346.1 965.3h0M335.1 978h0M338.7 980.3h0M329.7 989.7h0M337.9 996.3h0M346.7 966.1h0M347.7 985.2h0M330.1 998.4h0M332.9 995h0M344 970.2h0M362.9 962.8h0M348.8 961.3h0M340.2 995.3h0M331.9 991.6h0M335.2 975.9h0M357.5 961.1h0M348.8 977h0M345 971.4h0M357.3 977.1h0M350.4 982h0M322.5 988.7h0M366 956.9h0M333.5 986.3h0M331.4 995.8h0M329.8 986.1h0M364.7 956.6h0M356.2 962.5h0M331.1 991.4h0M361.4 962.5h0M354.2 975.9h0M363.9 967.4h0M343.5 983.2h0M345.2 989.8h0M348.5 966.9h0M338.1 976.4h0M351.4 964.2h0M321.5 1001.5h0M364.3 956.4h0M359.3 956.6h0M348.4 976.2h0M357.8 974.1h0M348.2 963.5h0M338.8 996.9h0M328.9 997.2h0M357.4 978.1h0M328.1 994.5h0M362.7 970.2h0M327 985.3h0M327.8 989.8h0M330.6 980.6h0M345.3 972.9h0M353.2 967.8h0M354.8 975.3h0M321.7 996.7h0M335.3 982h0M365.5 956.7h0M345.7 965h0M354.6 982.5h0M335.2 981.8h0M341.9 989.9h0M346.9 985h0M357.9 971h0M340.7 988.9h0M324.3 989.4h0M344.5 969.7h0M353.1 959.5h0M342.9 989.4h0M333.7 996.7h0M358.8 977.4h0M343.5 986.3h0M344.6 980.3h0M348.1 971.4h0M342.1 975.3h0M359.2 966h0M321.1 1000.1h0M337.2 996.4h0M339.6 972.1h0M343.5 977.2h0M322.6 1001.7h0M364.7 955.4h0M355.1 968h0M341.3 972.3h0M354.3 979.3h0M359 966h0M362.2 968.9h0M338.9 972.6h0M350 977.8h0M355.5 971.9h0M357.9 969.1h0M361.1 974.9h0M323.6 1001.6h0M322.9 1006.7h0M358.3 958.5h0M362 970.5h0M337.3 971.6h0M346.8 962.9h0M331.4 994.1h0M349 979.3h0M347.8 980.2h0M355.7 965.2h0M342.3 968.7h0M337.1 971.1h0M353.6 976.9h0M355.3 977.4h0M356.9 956h0M360 955h0M338.6 994.8h0M347 989.9h0M367.3 960.4h0M347.3 977.2h0M357 975.7h0M332.5 987.2h0M320.8 1001.3h0M364 964.7h0M347.4 985.1h0M366 954.4h0M354.2 983.6h0M359.1 963.5h0M335.7 991.5h0M330.3 1000.5h0M339.3 978.6h0M350.9 972h0M321.9 995.7h0M336.6 993.9h0M322.2 999.5h0M331.3 985h0M322.1 1002.2h0M329.2 995.8h0M349 986.7h0M328.6 996.6h0M352.1 963.2h0M332.6 982h0M347.9 989.7h0M350.6 967.1h0M358.9 958.9h0M366.5 954.9h0M330.3 997.2h0M359.1 974.2h0M330.7 1003.6h0M354.9 965.7h0M362.5 958.3h0M344.1 989.4h0M361.3 956.8h0M345.9 963.8h0M343.4 974.2h0M350.1 963.3h0M356.9 978.6h0M345.1 978.7h0M356.2 958.7h0M348 985.1h0M330 995.7h0M354.6 959.9h0M364.4 954.5h0M323 1003.4h0M363.9 954.5h0M324.6 995.7h0M362.5 964.1h0M324.1 999.1h0M336.6 998.4h0M347.9 961.1h0M340.7 990.3h0M341.3 971.5h0M350.3 968.1h0M351.4 985.7h0M358.1 964h0M329.9 996.9h0M355.7 963.5h0M346.6 989.4h0M335.8 973h0M344.1 984.1h0M324.8 989.1h0M360.4 964.6h0M357.2 962.2h0M352.2 978.2h0M322.6 992.8h0M334.2 983.1h0M330.4 999.2h0M363.1 960.9h0M348.6 973.8h0M344 988.9h0M339.3 993.4h0M348 973.5h0M359.1 975.7h0M340.1 979.3h0M340.3 987.4h0M344 972.9h0M345 972.6h0M326.2 999.2h0M361.7 965.1h0M346.3 988.2h0M324.4 995.7h0M361.9 958.2h0M364.1 962.5h0M328.6 990.9h0M343.4 991.6h0M349.2 983.3h0M359.2 971.3h0M346.9 987.5h0M338.7 968.1h0M359.7 967.4h0M353.8 966.6h0M355.9 966.1h0M339.8 974.4h0M328.8 997.6h0M348.3 985.5h0M331.6 980.5h0M346.3 974.9h0M350.3 987.3h0M336 980.7h0M350.5 974.4h0M326.3 986.2h0M360.5 970h0M348.6 977.7h0M334 982h0M334 977.5h0M367.9 957.9h0M337.2 991.3h0M333.4 981.3h0M351.8 969.8h0M327.5 1000h0M352.8 964.3h0M365.9 966.6h0M333.9 993.7h0M366.9 958.5h0M350.5 976.5h0M333.2 981.8h0M338.7 981.2h0M356.7 964.4h0M333.4 995h0M344.8 971.8h0M324 1003.9h0M332.2 989.9h0M347.3 978.6h0M360.8 970.2h0M342.9 979.4h0M348.4 960.9h0M350.3 976.7h0M364 956.7h0M322.4 998h0M341.7 996.5h0M353.4 979.2h0M343.2 986.9h0M356.5 956.5h0M340.4 989.5h0M333.2 996.7h0M352.9 968.1h0M349.3 962.5h0M336 993.3h0M341.1 979.9h0M350 963.8h0M352 980.8h0M334.1 988.3h0M359.4 961.5h0M365.1 963.5h0M360.8 962.4h0M365.3 959.5h0M339.3 993.4h0M330.5 999.2h0M340.2 977.5h0M335.2 996h0M348.8 986.1h0M359.8 965.7h0M350.9 963.6h0M342.1 973.2h0M351 979.2h0M347.8 972.9h0M358.2 973.5h0M325.2 991.7h0M358.2 961.5h0M350 966.9h0M350.9 978.3h0M357 973.7h0M361.8 961.3h0M342.4 987.6h0M342.8 965.7h0M354.2 972.8h0M356.6 978.7h0M337.1 971.6h0M337.5 991h0M345.5 979h0M340.7 991.5h0M342.8 978.2h0M344.2 987.7h0M350.5 968.7h0M335 993.2h0M342.2 984.9h0M323.3 998.3h0M351.7 976.4h0M351.5 963.6h0M333 995.8h0M320.9 995h0M324.7 1001.9h0M341.6 989h0M330.9 985.7h0M336.6 982.7h0M349.5 961.5h0M333.1 982.5h0M339.2 985.9h0M354 981.4h0M350.8 961.4h0M351.6 968.1h0M335.3 996.3h0M355 963h0M359.1 956.8h0M347.5 979.4h0M344.7 972.8h0M324.4 998.5h0M357.6 974.8h0M344.2 983h0M349.2 979h0M346 986.7h0M334.9 977.9h0M331.7 988.5h0M341.6 986.5h0M365.4 964.6h0M364.8 969h0M359.7 955.5h0M333.2 981h0M350.2 959.3h0M348.3 982.6h0M352.8 972.6h0M320.7 1001.8h0M347.8 971.8h0M334.4 973.7h0M351.2 960.6h0M358.5 971.4h0M344.1 992.8h0M335.2 987.2h0M327.8 988.4h0M339.6 983.2h0M360 958h0M335.8 981.9h0M330.7 986.5h0M339.4 994.9h0M330.1 986.7h0M324.6 989.7h0M337.8 975.5h0M325.1 992h0M331.5 995.5h0M359.7 959.6h0M333.9 991.8h0M332.2 989.8h0M350.6 982.8h0M342.3 980.6h0M326.6 988h0M357.8 977.9h0M342 988.2h0M349.2 972.5h0M348.5 969.3h0M334 992.4h0M364.1 962.4h0M334.1 987h0M347.9 986.6h0M339.3 992.9h0M337.2 996.2h0M346.5 987h0M345.2 975.1h0M331.8 998.1h0M349.8 982.3h0M334 992.6h0M350.7 973.4h0M338 969h0M341.9 973.3h0M327 1001.3h0M325 998.5h0M339.4 970.3h0M336 988.7h0M328.8 994.9h0M348 974.1h0M362.4 955h0M336.4 988.1h0M348.9 965.1h0M358.3 961.8h0M351.2 979.3h0M349.4 968.7h0M336.9 975.7h0M358.5 958.1h0M357.8 957h0M350.4 983.2h0M364 963.4h0M335.2 981h0M347.7 965.4h0M355.7 965.7h0M362.3 962.8h0M336.1 975.2h0M357.1 969.2h0M349.4 972.9h0M345.5 985.1h0M356.8 956.5h0M362.9 966.8h0M361 960.2h0M346.3 968.2h0M333.7 990.3h0M320.9 997.2h0M352.7 961.1h0M342.4 968.7h0M335.2 995.1h0M342.7 972.4h0M323.7 991.2h0M353 970.2h0M335.3 977.4h0M352.7 962.2h0M336 979.1h0M335.6 985.8h0M334 988.9h0M333.5 996.4h0M367.1 958.3h0M349.2 966.5h0M334.6 978.1h0M323.5 990.5h0M336.6 984.1h0M347.9 968.2h0M353.5 961.2h0M330.9 1002.5h0M347 983.8h0M330.4 982.3h0M335.5 979.4h0M343.6 968.2h0M327 996.9h0M362.7 959.6h0M345.5 969h0M365.8 953.9h0M357.1 956.1h0M339.7 980.7h0M355.3 978.3h0M356 974h0M342.6 985.2h0M326.1 995.1h0M322 994.3h0M361.2 966.5h0M342.5 977.2h0M357.5 956.7h0M337.6 1001.1h0M333.9 985.9h0M329.4 998h0M346.1 990.1h0M346.4 960.9h0M337.1 975.4h0M340.9 974.1h0M359.5 972.6h0M319.6 990.9h0M352.3 959h0M323.5 989.3h0M362.9 971.6h0M362.1 970.6h0M340.2 985.9h0M335.2 987.4h0M332.3 985.1h0M332.2 977.5h0M353.5 957.6h0M334.9 997.9h0M358.3 963.9h0M343.9 987.3h0M336.8 984.1h0M354.1 965.1h0M338.4 983.7h0M322.1 992.1h0M340.5 981.5h0M361.5 973.4h0M340.5 971.6h0M329.5 996.2h0M328.5 999.8h0M355.1 957.5h0M344.4 967.4h0M365 959.6h0M360 973.2h0M347.7 973.5h0M322.7 989.8h0M338 977.2h0M326.9 1000.4h0M346.2 975.2h0M347.8 964.4h0M361.5 969.5h0M363.2 962.5h0M348.8 978.1h0M325.7 984.5h0M333.7 1000.4h0M341.4 981.9h0M324.3 1002.5h0M342.5 973.9h0M362.5 956.5h0M334.9 992.9h0M353.5 961.4h0M348 976.6h0M332.5 983.8h0M347.3 963.8h0M347.2 979.5h0M351.8 970.2h0M329.7 1003.1h0M333.2 980.6h0M328.1 1004h0M328.2 982.2h0M337.5 978.8h0M327.3 997.3h0M328.1 984.6h0M341.4 977h0M326.9 995.5h0M343.2 984.1h0M352.1 977.7h0M331.2 992.2h0M341.7 985.5h0M355.9 957.4h0M334.2 981.3h0M351.9 977.6h0M360.1 965.6h0M353.1 980.6h0M362.6 956.4h0M331.5 995.9h0M337.4 986.5h0M335.5 988.4h0M361.2 970.3h0M352.3 969.4h0M361.9 962.7h0M334.1 1002.5h0M318.3 1001h0M359.1 963.1h0M354.9 981.4h0M356.4 959.5h0M333.9 999h0M350.8 970.9h0M346.5 966.4h0M356.1 964.1h0M335.3 991.3h0M329 1000.1h0M357.2 971.6h0M353.1 971.5h0M321 997.1h0M367.1 955.3h0M345.5 963.7h0M360.7 959.4h0M337.8 975h0M350.8 966.5h0M346.3 988.2h0M327.5 980.8h0M328.1 1000.8h0M340.9 994.8h0M328.6 997.3h0M322.4 988.9h0M336.3 987.7h0M344.5 974.4h0M358.5 975.2h0M360.6 965.6h0M338.8 992.9h0M337.1 996.9h0M333.5 988.6h0M330.2 980.9h0M343.3 992.1h0M327.4 987.1h0M337.5 985.2h0M338.8 991.2h0M333.8 993.7h0M351.9 973.9h0M331.7 988.5h0M331.8 990.6h0M356.2 977.9h0M352.8 970.5h0M343.2 987.5h0M334.3 978.6h0M338.4 971h0M335.3 981.4h0M327.5 987.4h0M325.6 988.5h0M349.8 965.9h0M336.2 976.7h0M342.2 992.6h0M329.8 989.5h0M346 974h0M338 988.7h0M346.1 982.1h0M341.8 964.6h0M343.6 968.8h0M357.3 959h0M338.5 992.5h0M333.1 985.3h0M345.8 969h0M360.7 958.1h0M341.8 979.5h0M330.9 984.4h0M341.9 981h0M335.9 994.2h0M338.2 979.8h0M345.1 978.3h0M361 965h0M330.3 990.3h0M319.5 996.5h0M337.4 997.5h0M349.2 968h0M349 968.1h0M354.2 959.9h0M361.6 954.1h0M340.8 994.6h0M320.9 994.3h0M343 965.4h0M327 1001.2h0M332.5 996.2h0M322.6 1000.9h0M337.1 995.1h0M341.3 983.9h0M350.1 985.3h0M331 981.3h0M323 1003.1h0M336.2 992h0M365 964.1h0M335.7 976h0M359.8 970.6h0M334.9 983.4h0M366.1 957.5h0M367.8 957.9h0M349 967h0M345.8 966.1h0M324.5 997h0M337.5 997.9h0M355.7 961.8h0M330.1 981.5h0M350.4 973.9h0M325 994h0M331.9 986.4h0M352.8 962.1h0M352.9 978.2h0M336.4 992.7h0M341.5 989.7h0M354.4 957.2h0M354.5 973h0M341.3 979.8h0M327 996h0M337.4 986h0M343.9 982.6h0M356.1 981.2h0M333 983.9h0M346.3 970.6h0M359.3 967h0M332.7 986.9h0M331.2 979.8h0M349.1 981.7h0M331.3 988.9h0M350.4 970.9h0M337.9 972.1h0M340.1 996.5h0M344.4 973.2h0M346.8 977.1h0M326.7 991.6h0M331.7 1002.5h0M326.6 991.4h0M326.1 994.1h0M323.5 1000.1h0M340 985.4h0M356.7 981.6h0M343.3 973.4h0M324.7 1005h0M337.2 975.4h0M360 958h0M333.3 987h0M352.3 961.5h0M359.5 967.6h0M335.2 985.3h0M354.6 981.2h0M357.2 965.5h0M348.7 982.5h0M333.3 981.4h0M346.1 963h0M332.1 988.6h0M332.9 987.5h0M345.8 973.4h0M356 958.3h0M336 983.1h0M333.6 993.3h0M334.5 986.7h0M347.1 970.8h0M339.4 985.7h0M332.8 999.8h0M341 973.3h0M347.1 991.2h0M327.6 996.6h0M350.9 976.7h0M324.4 996.1h0M346.2 974.1h0M356.4 972.3h0M333.2 979.1h0M339.2 993.3h0M349.3 971.9h0M332.7 978.7h0M350.7 980.7h0M345.5 974.2h0M349 985.8h0M352.4 968.6h0M343.5 981.4h0M362.8 956.9h0M359 955.6h0M336.4 975.3h0M325.8 997.6h0M342.3 981.7h0M345.5 984h0M333.8 983.9h0M324.6 986.2h0M329.9 987.8h0M358.2 958h0M343.9 966.3h0M341.7 990h0M326.8 1002h0M338.6 979.6h0M328.9 983.5h0M331.4 979.2h0M343.6 982.8h0M352.7 960.5h0M342 966h0M344.2 972.8h0M328.1 1000.8h0M346.4 962.5h0M339.7 977h0M354.4 977.7h0M359.6 957.2h0M323.4 988.6h0M337.4 972.8h0M331.4 984.6h0M360.5 966.9h0M322.3 1002.1h0M344.2 968.8h0M343.9 973.6h0M357.5 966.8h0M356.8 973h0M342.4 975.9h0M357.5 970.2h0M362.7 967.3h0M339.2 983h0M344.2 982.6h0M344.5 982.3h0M357.5 957.2h0M359.8 965.9h0M347.5 968h0M352.1 981.9h0M353.4 965.3h0M352.2 977.4h0M357.3 963.6h0M352.4 967.6h0M344 991.1h0M336.6 983.5h0M335.9 974h0M331.4 999.1h0M338.1 972.3h0M361.4 956.6h0M324.8 996.6h0M360.6 976.8h0M329.6 999h0M338.2 990.7h0M339.5 970.2h0M349.3 967.1h0M324.7 1002.6h0M363.4 964.8h0M364.3 967.5h0M361.1 967.8h0M351.8 971.7h0M329.4 999.4h0M341.9 988.1h0M357.8 968.6h0M348.4 980.5h0M336.6 982h0M349.3 978.5h0M331.8 978.8h0M324 1000.9h0M333.4 996.8h0M336.2 996.5h0M337.8 983.5h0M337.2 984.9h0M364.2 966.3h0M362 971.2h0M324.4 990.2h0M340.9 969h0M352.1 971.8h0M356.4 978.3h0M351.7 985h0M341 989.4h0M327.2 983.2h0M338.5 990.4h0M365.2 967.8h0M359.5 975h0M344.6 968.5h0M321.2 1002.9h0M325.4 987h0M349.6 980.8h0M320.8 1001h0M341.3 984.1h0M343.8 966.9h0M343.5 967.4h0M330.3 984.7h0M346.5 968.3h0M350.7 959.4h0M326.6 999.3h0M348.6 987.5h0M346.1 974.6h0M350.2 968.9h0M362.3 969.7h0M357.9 963h0M328.5 986.4h0M356.1 959.2h0M339.5 983.6h0M338.3 997.4h0M350.5 976.9h0M331.5 986.1h0M330.7 990.9h0M340.8 996.4h0M320.9 996.9h0M352.2 976.7h0M362.3 956.6h0M326.2 992.2h0M330.5 979.2h0M349.1 972.7h0M330.1 988.5h0M325.8 986.7h0M333.8 994.5h0M354 962.9h0M345.8 974h0M360.9 975.7h0M363.4 960.4h0M355.7 957.9h0M320.3 995.5h0M333 995.7h0M351.1 964.5h0M349.7 978h0M356.7 967.5h0M351.3 984.5h0M334 990.6h0M359.4 975.2h0M338.9 973.8h0M333.9 995.6h0M347.2 970.9h0M332.5 989.1h0M354.6 982h0M329.1 984.6h0M366.8 959.7h0M344.9 969.5h0M342.2 971.6h0M365.8 962h0M342.3 966.7h0M325.6 997.4h0M344.5 973.5h0M327.8 997.6h0M337.2 998.5h0M326.5 998.7h0M347 981.1h0M340.2 982.5h0M330.7 999.6h0M353 979.4h0M324.8 988h0M361.3 959.7h0M359.2 959h0M360.9 957h0M341.2 987.7h0M357.2 973.4h0M359.8 957.5h0M352.9 968.2h0M357.7 971.1h0M343.7 987.2h0M354.7 971.8h0M361.4 958.4h0M352.9 979.7h0M355.2 974.4h0M328.5 1000.4h0M343.3 978.8h0M348.1 960.3h0M363.1 972.7h0M339.5 996.3h0M365.7 965.5h0M325.7 997.6h0M339.2 973.4h0M360.9 975.6h0M328.3 1000.6h0M339.9 981h0M362 963.3h0M319.4 999.9h0M325.8 992.3h0M351.1 970.1h0M347.1 964.9h0M329.5 987.9h0M363.9 961.2h0M365.8 959.1h0M359 959.7h0M357.6 978.2h0M333.2 994.7h0M327.1 990.5h0M344.4 972.6h0M342.6 973.3h0M343.9 978h0M331.4 991.3h0M331.7 1001.3h0M332.4 996.8h0M345.1 971.9h0M364.6 962.1h0M326.8 997.3h0M343.4 968.3h0M366.8 953.8h0M361.1 971.9h0M361.4 956.2h0M354.6 959.6h0M348.5 969.5h0M339.8 980.9h0M331.5 985.6h0M323.1 1004.4h0M360.1 958.4h0M356.2 979.6h0M337.9 991.5h0M354.9 967.7h0M320.9 998.7h0M367.2 955.7h0M348 982.5h0M343.3 970.1h0M330.1 985.4h0M358.6 956.5h0M362.8 955.5h0M353.1 962.1h0M345.4 988.2h0M345.5 980.7h0M327.8 986.4h0M339.5 988.5h0M332.6 997.8h0M323.5 1004h0M322.8 998.3h0M365.2 963.3h0M360.2 966.7h0M336.7 984h0M350.3 979.2h0M364.8 960.2h0M345.4 984.9h0M364.6 960.4h0M350.6 971.6h0M336.3 993.8h0M324.5 998h0M339.3 999h0M339.4 974.1h0M348.6 971.2h0M350.9 967.5h0M359.1 970.1h0M329.1 1001.4h0M344.4 971h0M341.4 992.1h0M333.3 997.7h0M347.5 973.1h0M341.2 968.8h0M328 982h0M335.2 979.6h0M345.3 961.2h0M345.5 987.2h0M327 1001.4h0M331.8 989.3h0M328.2 992.1h0M362.2 955.6h0M324.4 994.3h0M330.8 998.4h0M368.1 954.5h0M346.7 970.4h0M349.6 987.2h0M329.2 992h0M363.6 960.6h0M320.5 1002.4h0M364.4 967.2h0M337.1 972.8h0M324.7 1002.8h0M342.3 979.1h0M355.5 977.4h0M323.9 997.3h0M346.5 989.5h0M346.2 967.7h0M335.6 982.1h0M330.1 983.6h0M343 984.4h0M333.3 982.1h0M348.7 986.9h0M357 975.4h0M343.1 989.2h0M360.3 968h0M331.7 987.3h0M360.7 961.9h0M356.2 969.3h0M346.2 973.7h0M333.1 1001.9h0M349.1 974.4h0M355.8 970.6h0M342.1 970.6h0M335.3 988.9h0M332.7 994.3h0M326.4 993.3h0M360.2 965.3h0M350.8 980.8h0M354.6 967.5h0M343.8 978.6h0M339.8 973.9h0M335.1 982.7h0M362.6 953.6h0M366.7 954h0M330.2 992.7h0M346.6 988.4h0M334.8 993.4h0M348.3 960.6h0M336.3 994h0M338.5 996.4h0M332.9 988.3h0M331.9 998h0M346.8 971.5h0M337.9 972.8h0M328.5 991.8h0M356.2 981.9h0M332.7 984.9h0M344.5 979.3h0M336.5 975.9h0M325 997.7h0M340.7 972.6h0M361.7 962.4h0M357.7 967.6h0M329.4 999h0M345 987.2h0M332 997.9h0M321.6 997.4h0M333.5 986.9h0M348.1 961.5h0M334.5 977.1h0M353.3 962.2h0M364.6 955.8h0M339.8 994h0M347.1 990.1h0M356.2 973.9h0M354.1 958.6h0M345.1 987.4h0M348.6 966.8h0M337.3 983.3h0M354.1 979.8h0M334.3 982.8h0M357.7 967.2h0M336.2 998h0M339.2 994.7h0M352.5 962.2h0M327.8 998.9h0M323.9 999.1h0M357.5 976.5h0M328.7 1002.2h0M359.9 969.5h0M355.1 964.3h0M352.1 967.7h0M342.3 977.6h0M364.1 957.9h0M330.2 992.3h0M330.4 993.6h0M344.4 982.9h0M324.3 988.1h0M340 969.6h0M343.3 972.6h0M359.7 959.5h0M331.2 987.2h0M351.8 978.4h0M318.9 1001.1h0M326.4 998h0M354.2 975.6h0M332.3 988.7h0M329.4 990.3h0M327 995.9h0M330.4 993.1h0M330.9 989.1h0M332.7 990h0M332.4 980.6h0M335.4 985.2h0M343.5 979.2h0M357.3 962.5h0M359.1 968.1h0M326.6 992.6h0M323.4 991.7h0M348.5 962.3h0M330.7 988h0M340 995h0M363.8 962.8h0M342.2 989.4h0M337.3 983.3h0M346.5 988.7h0M359 958.3h0M341.3 973.4h0M347.2 976.7h0M344.6 990.6h0M362.7 963.2h0M348.4 988.8h0M332 988.9h0M342.5 980.7h0M362.1 957.7h0M349.3 962.3h0M340 972.3h0M335.1 973.8h0M332.2 998.9h0M339 984.4h0M353.2 982.9h0M320.9 1003.5h0M349.1 981.6h0M347.4 969.3h0M337.3 984.2h0M351.5 961.4h0M329.1 994.6h0M356.5 963.3h0M336.1 972.2h0M386.4 937h0M393.4 923.3h0M403 919.9h0M416.5 907.1h0M463.4 878.9h0M442.7 858.4h0M407.6 922.9h0M391.1 928.5h0M410.3 912.7h0M420.6 923.7h0M398.8 911.8h0M397.3 927.9h0M402.5 912.2h0M411.6 903.5h0M422.5 903.2h0M419.8 889h0M412.9 903.2h0M383.6 933.2h0M450.7 869.6h0M463.9 856.9h0M448.1 890.1h0M389.2 926.6h0M398.8 929.8h0M457.7 872.4h0M391.1 933.8h0M427.7 879.1h0M413.8 890.7h0M434 891.4h0M413.1 913.8h0M397.4 925.7h0M390.6 940h0M390.3 919h0M436.8 879.3h0M394.5 931.1h0M415.9 912.5h0M419.6 916h0M393.4 911.7h0M409.4 901.1h0M425.7 901.1h0M441 889h0M381.6 937.3h0M404.1 928h0M407 910.4h0M425.5 873.8h0M437.2 882.5h0M418.7 901.4h0M406.7 927.1h0M393.5 922.6h0M431.8 900.1h0M386.4 930.3h0M394.1 927.1h0M389.8 940.9h0M405.7 906.2h0M395.3 932.4h0M435.2 881.5h0M413.7 907.3h0M415.8 897.9h0M422.7 910.1h0M431.3 907.8h0M396.4 914.2h0M436.5 890.1h0M409.2 918.9h0M400.1 921.7h0M435.7 873.9h0M457.5 863.7h0M403.5 909.1h0M401.9 902.7h0M437 894.9h0M410.7 923.6h0M455.6 870.3h0M398.2 933.6h0M450.9 896.2h0M394 931.5h0M465.6 861.1h0M451.8 885.8h0M468.3 860.8h0M409.9 908h0M420.7 885.4h0M414.9 913.2h0M448.2 870.9h0M418 915.8h0M437.1 911.2h0M389.3 933.5h0M405.4 907.1h0M453 883.1h0M439.3 898.7h0M402.2 921.9h0M433.9 910.5h0M392.5 916.6h0M460.8 883.5h0M384.9 935h0M392.5 922.2h0M392.3 923.1h0M420.3 896h0M404.5 906.4h0M457.1 868.4h0M388.3 933.4h0M433.1 900.7h0M393.5 908.9h0M428.3 890.2h0M429.2 904.4h0M415.6 909.5h0M400.2 933.3h0M393.9 919.5h0M410.5 915.3h0M390.9 935.8h0M394.5 934.3h0M403.9 920.7h0M403.9 926.5h0M440.2 892.2h0M401.2 919.5h0M428 885h0M389.8 929.1h0M407.4 918.3h0M394 936h0M391.1 934.2h0M424.7 891.9h0M399.4 920h0M403.2 922.2h0M420.6 890.1h0M398 927.9h0M465 858.5h0M408 920.8h0M432.1 899.3h0M454.9 870.7h0M409.3 894h0M377.8 936.8h0M410.3 911.8h0M428.7 899.2h0M394.6 910h0M430.6 888.3h0M412.8 908.2h0M400.1 915.8h0M404.5 921.2h0M419.4 905.9h0M384.6 930.1h0M439.4 882.2h0M398.7 934.9h0M418.2 887.9h0M381.2 940h0M437.2 871.5h0M415.1 920.2h0M387.9 929.4h0M386.9 942.2h0M398.2 914.1h0M446.6 890.6h0M405.5 905.2h0M402.1 916.7h0M427.1 899h0M441 885.8h0M318.6 998.9h0M335.9 998.3h0M295.6 1042.5h0M296.7 1018.7h0M314.7 1003.8h0M303 1009.8h0M337.1 998h0M334.2 979.3h0M339.9 979.2h0M324 998.5h0M303.6 990.6h0M352.4 975.6h0M340.7 978.4h0M338.8 969.7h0M333.4 995.9h0M323.9 1006.8h0M316.9 1007.9h0M336.5 984.6h0M339.9 988.3h0M329.6 1009.6h0M318.4 1003h0M331.5 993.7h0M319 995h0M301.6 1017.1h0M303 1012.4h0M312.4 1007.1h0M330.9 986h0M322.1 1013.5h0M352.1 971.2h0M327.6 993.7h0M348.8 972.9h0M351.8 968h0M304.9 1005.9h0M343 967.7h0M330.2 976.4h0M350.3 959.7h0M346.3 978.1h0M346 968h0M329.8 988.1h0M309.3 1003.5h0M363.3 964.7h0M351 962.8h0M353 964.8h0M343.6 962.3h0M324.8 991.7h0M297.1 1038.7h0M308.1 986h0M290.9 1020.7h0M306.8 1005.4h0M313.7 1023.7h0M347.6 971.6h0M330.8 986.9h0M344.5 978.5h0M309.4 1013.4h0M340.2 989.4h0M311 996.9h0M308.5 1000.4h0M301.9 992.8h0M347.9 984.4h0M343.4 979h0M335.6 986.1h0M356.2 960.4h0M294 1021h0M339.5 989.2h0M337.4 997.3h0M309.2 1012.8h0M314.8 1002.2h0M334.4 986.7h0M315.4 999.1h0M332.8 985.6h0M353.1 960.3h0M275.8 1029h0M311.6 1002.3h0M331.7 985.4h0M318 985.1h0M316 1006.4h0M323.4 991.1h0M333.5 988.4h0M341 989.9h0M333.7 997.6h0M331.1 988.1h0M338 968.3h0M353.1 972.8h0M326.4 1000.7h0M319.6 999h0M358.1 966.8h0M334.9 985.2h0M355.6 968.2h0M355.2 980.7h0M333 987.1h0M348.4 962.9h0M332.7 983.4h0M328.5 994.2h0M293.7 1020.4h0M322.7 1010h0M356 968.1h0M340.4 984.2h0M336.2 984.4h0M314.5 1007.5h0M331.2 977.1h0M320.8 980.8h0M340.1 976.5h0M313.9 996.8h0M347.4 977.8h0M307.1 990.2h0M321.2 994.1h0M350.8 974.4h0M292.3 1026.1h0M343.7 971.1h0M296.7 1035.6h0M358 971.3h0M344.4 980.8h0M304.7 1015h0M305.4 1007.4h0M324.3 996.4h0M332.9 1006.7h0M354.3 973.7h0M350.4 979.1h0M332.4 1003.3h0M325.2 1003.4h0M343.9 967.7h0M349.6 969.1h0M331.7 989.4h0M320.5 983.3h0M314.3 1025.4h0M332.4 980h0M320.3 997.8h0M343.6 966.4h0M343.7 980.2h0M342.7 971.3h0M347.7 967.7h0M308.8 1032.9h0M304.8 1000.5h0M338.3 982.4h0M347.1 978.2h0M323.9 1015h0M342.9 982.8h0M277.6 1047.2h0M297.8 1016.1h0M355.5 971.6h0M353.1 964.1h0M288.4 1033.2h0M321.6 982.4h0M342.3 971.6h0M337.9 987.4h0M336.7 979.8h0M300.7 1003.4h0M279.9 1034.7h0M310.2 1016.9h0M271.9 1058.7h0M351.1 973.1h0M313.7 1017.1h0M324.5 997.4h0M275.2 1046h0M354.6 979.3h0M334.1 983.5h0M350.8 975h0M285.1 1044h0M304.7 1026h0M351.1 977.2h0M297.8 1036.8h0M355.9 975h0M328.1 978.6h0M308.3 998.5h0M342.8 963.3h0M320.9 1009.4h0M333.8 987.3h0M321.9 1010.4h0M322.4 998.2h0M365.6 955.4h0M415.4 904.4h0M398.4 927.5h0M386.2 944.5h0M392.5 941.1h0M402.5 921.7h0M414.7 916.8h0M428.4 906h0M414.6 924.6h0M421.4 899.3h0M421.8 897h0M398.6 925.2h0M417.4 911.6h0M389.3 934h0M402.2 918.4h0M398.9 930.8h0M419 913h0M406.2 909.2h0M412.8 924.2h0M420.7 899.3h0M412.8 921.3h0M384.6 928h0M397 906h0M409 924.5h0M416.2 904.5h0M420.3 901.5h0M423.2 904.7h0M430.4 902.1h0M381 928.2h0M405.9 914.2h0M415 914h0M388.5 916.5h0M384.1 919.7h0M381 936.6h0M399.6 909.3h0M404.9 917.9h0M408.1 929.9h0M395.2 934.5h0M415.6 900.9h0M422.8 916.6h0M401.7 912.2h0M392.4 929.5h0M386.1 937.1h0M398.4 926.5h0M403.5 907.4h0M410.7 922.3h0M397.6 934h0M407.7 931.2h0M397.9 933.8h0M399.6 931.5h0M416.6 916.6h0M399 915h0M393.1 914.2h0M393.3 913.2h0M388.5 934.4h0M391.8 915.8h0M386.2 936.7h0M394.4 934.4h0M422.4 904.2h0M384.9 928.3h0M420.3 919.4h0M403.2 906.7h0M377.5 931.5h0M403.6 931.2h0M409.5 930h0M391 935.3h0M418.2 923.9h0M420 913.1h0M415.1 911.4h0M396.5 928.5h0M419 898.1h0M426.1 895.3h0M375.8 944.7h0M385.3 936h0M413 927.8h0M375.4 930.7h0M400.8 908.2h0M419.5 916.9h0M380.9 919.6h0M397.1 917.3h0M420.8 909.2h0M425.4 906.1h0M408.7 921.8h0M400.6 913.5h0M423.7 910.4h0M407.2 903.9h0M402.1 930h0M418.2 901.2h0M416.6 903.8h0M423.1 913.8h0M395 922.9h0M381.9 936.9h0M392.5 913.3h0M382.7 937.8h0M420.6 918.1h0M408.5 925.5h0M407.4 902.7h0M417 911.5h0M430.6 901.9h0M386.2 939.5h0M392.1 921.4h0M390.1 935.7h0M404.2 930.1h0M425.9 900.9h0M390.5 935.9h0M416.5 919h0M412.6 898.9h0M392.1 925.5h0M425.8 909.5h0M386.9 923.6h0M375.9 938.9h0M417.1 911.7h0M396.9 900.4h0M407.7 897.8h0M389.2 924.1h0M405.1 917.7h0M419.7 914.4h0M412.7 901.4h0M405.7 911.8h0M419.2 915.3h0M392.4 942.7h0M406.4 912.9h0M391.1 913.8h0M413.5 921h0M393 943.6h0M407.5 903.6h0M393.4 921.4h0M411.2 912.5h0M416.8 922.6h0M403.2 909.8h0M395.1 912.8h0M412.7 913.2h0M407.7 899.3h0M377.3 943.9h0M415.7 893.7h0M392.1 928.2h0M412.4 898.8h0M399.4 925.1h0M380.7 926.5h0M399.8 905.5h0M398.7 912.6h0M412.3 924.3h0M391.4 944.3h0M421.9 892.9h0M404.8 926h0M418.6 898.9h0M404.3 929.4h0M401.9 922.7h0M393.2 930.1h0M406.6 907.4h0M409.7 909.2h0M405.7 911.4h0M402.4 905.3h0M382.6 941.8h0M395.6 942.3h0M415.4 919.9h0M388.8 943.7h0M389.9 931.7h0M430.9 901.9h0M413.9 918.9h0M377.5 940.1h0M414 923.7h0M383.7 937.4h0M389 919.8h0M384.5 928.2h0M396.5 912.1h0M416.9 916.9h0M390.6 921.4h0M418.4 897.1h0M420.6 921.7h0M417.3 915.8h0M411.2 925.9h0M421.2 908.4h0M381.3 918.3h0M402.9 932h0M381.2 938.2h0M337.5 976.3h0M360.6 977.9h0M326.7 982.3h0M310.7 1010.4h0M337.9 998.9h0M331.2 990.6h0M357.6 965.3h0M361.8 960.1h0M313 1009.5h0M348.1 971h0M340.5 971h0M355.2 987.4h0M342.1 964.9h0M322.8 1008.1h0M323.3 992.2h0M325.9 1006.4h0M349.9 994.9h0M356.5 959h0M342 978.6h0M341.1 979.1h0M364.8 963h0M328.5 1000.5h0M330 985h0M356.6 975.2h0M352.6 955.2h0M315.6 1003.6h0M352.8 955.8h0M348.9 980.7h0M339.3 969.5h0M330.7 988.2h0M342 995.2h0M326.8 996.1h0M348.8 974.7h0M344 970.6h0M346.2 997.8h0M356.2 965.6h0M364.4 973h0M348 989.8h0M347.4 976.3h0M340.7 996h0M346.7 975.9h0M335.4 978.8h0M355.6 974.3h0M340.5 980.1h0M339.2 1002h0M363.7 972.2h0M332.9 995.9h0M310.1 1010.9h0M351 963.8h0M332.6 974.4h0M343.9 993.2h0M343.1 970.8h0M344 971.1h0M340.9 977.6h0M312.2 1003.9h0M346.7 977.3h0M362.2 964.8h0M319 1006.4h0M327.8 988.7h0M322.7 1003.4h0M363.6 973.1h0M338.3 970h0M362 973.2h0M340.4 961.7h0M330 991.9h0M318.7 1011.6h0M323 993.2h0M350.9 985.5h0M328.3 995.5h0M363.4 972.8h0M354.3 961.1h0M336.7 997.5h0M338.9 994.4h0M338.3 1000.5h0M347.9 971.7h0M341.6 986.2h0M320.7 999.8h0M320.8 988.8h0M331 987.3h0M340.1 966.9h0M315.3 999.9h0M332.1 983.1h0M316.7 1003.3h0M321.1 988.8h0M360.5 964.5h0M357.4 968.4h0M348.6 972.9h0M320.1 995.1h0M358 975.4h0M326.8 989.8h0M337.5 982.9h0M337.1 990h0M355.9 963.7h0M306.1 1010.6h0M316.7 1007.2h0M308.3 1007.1h0M352.1 955.3h0M339.4 996.5h0M355.7 955h0M334.7 1002.9h0M310 1004.8h0M314.2 992h0M344 988.8h0M332.8 969.3h0M349.4 991.9h0M341.4 981.2h0M335.1 986.2h0M358.9 980.9h0M312.6 1004.5h0M318.9 985.8h0M366.6 961.2h0M331.8 988.7h0M339.9 989.7h0M342.3 987.9h0M316.1 994.7h0M358.5 964.7h0M365.1 963.6h0M332.2 979.4h0M315.4 1006.9h0M336 989.4h0M363.1 975.5h0M335.3 998.8h0M330.5 970.8h0M364 958.7h0M347.5 972.4h0M347 980h0M364 965.9h0M338.5 984.6h0M327.3 1005.3h0M318.7 1000.4h0M330.4 985.2h0M329.7 985.9h0M343.5 985.3h0M337.9 967.4h0M351.4 984h0M346.7 967.1h0M352.8 987.9h0M347.9 975.1h0M357.8 977.8h0M354.6 978.7h0M347 972.2h0M340.7 974.1h0M332.2 980.9h0M322.6 990.3h0M330.8 994.9h0M325.9 986.4h0M328.3 979.1h0M347.4 993.7h0M349.6 982.8h0M333.7 983.5h0M345.7 960.4h0M336.3 971.3h0M359.8 975.5h0M357.3 956.1h0M344.5 977.7h0M360.4 964.9h0M356.6 958.1h0M346.4 979h0M330.6 975.1h0M315.3 993.4h0M328.9 1008.7h0M316.8 996h0M310 1002h0M319.4 989h0M339.1 998.9h0M333.8 969.8h0M346.1 970.6h0M364 969.2h0M339.5 975h0M362.7 971.6h0M311.3 1010h0M352.3 971.7h0M334.7 984.7h0M326.5 977.1h0M321.4 1003h0M335.6 990.3h0M321.6 980.2h0M330.3 985.4h0M355.9 985.6h0M346.8 970.5h0M353.1 960.7h0M357 983.9h0M317.7 992.7h0M353 967h0M364.7 972.1h0M346.9 973.2h0M333.2 996.7h0M354.6 956.8h0M574.2 700.3h0M529.8 756.6h0M520.2 779h0M509.4 806.4h0M550.7 811.4h0M535.6 820.3h0M516.3 829.2h0M526.7 834.2h0M539.1 836.9h0M500.9 838.8h0M490.9 857.3h0M441.5 833h0M455.4 858.1h0M436.1 860h0M464.6 872.8h0M564.9 943.4h0M254.7 1056.1h0M263.2 1032.9h0M264.3 1038.7h0M277.8 1029h0M278.6 1036.8h0M278.6 1043.7h0M277.1 984.7h0M285.6 957.7h0" stroke="#5fbe50" stroke-width="3.7" stroke-linecap="round" fill="none"/>
<path d="M376.1 945.4h0M370.6 950.9h0M369.7 951.6h0M373.8 946.1h0M369.8 952.3h0M369.7 950.9h0M372.6 945.6h0M368.8 949.5h0M370.4 951.8h0M368.9 953.1h0M372.8 950.5h0M370.3 951.4h0M370 951.8h0M372.9 950.3h0M368.2 953.6h0M367.6 952.1h0M370.1 950.9h0M367.5 953.3h0M368.3 951.4h0M372.7 948.9h0M372.2 948.3h0M373.4 948.3h0M372.3 945h0M371 949.1h0M371.2 947.1h0M370.8 949.2h0M370.3 951h0M369.7 949.1h0M368.8 952.8h0M369 950.5h0M368.3 950.6h0M370.8 949.5h0M368.9 951.1h0M370.7 950.5h0M371.2 950.4h0M370.1 951.8h0M371.5 952.1h0M370.8 949.2h0M370.2 948.7h0M377.6 947.5h0M370.5 949.1h0M370.8 950.9h0M374.2 948.1h0M374.9 949.5h0M373.1 948.1h0M368.9 950.3h0M369.9 950.8h0M372.3 947.5h0M368.8 954.1h0M370.4 950.3h0M370.2 949.5h0M372 952.5h0M371.9 950.6h0M367.6 949.9h0M376.6 947.3h0M367.3 952.7h0M369.4 949.5h0M369.3 951.3h0M366.3 953.4h0M370.5 952.1h0M373.3 950.6h0M369.6 952.7h0M371.6 949.5h0M367.7 951h0M369 951h0M372.6 945h0M371.7 949.6h0M374.5 950.5h0M374.5 946.7h0M373.3 948.2h0M372.1 947.7h0M369.9 950.4h0M369.6 950.2h0M373.5 948h0M369.2 950.7h0M372.4 948.2h0M369.9 949.9h0M370.7 952.1h0M367.1 952.8h0M372.6 948.7h0M370.4 949.9h0M371.4 947.1h0M369.3 951h0M370.4 952.4h0M371 948.8h0M373.4 948.4h0M371.1 948.3h0M373.8 950.2h0M368.2 950.6h0M370.6 950.4h0" stroke="#9a9a9a" stroke-width="3.7" stroke-linecap="round" fill="none" stroke-opacity="0.93"/>
<rect x="80.80" y="672.90" width="580.20" height="554.10" fill="none" stroke="#333333" stroke-width="1.5"/>
<path d="M73.2 1216.1H80.8M73.2 1083H80.8M73.2 950H80.8M73.2 817H80.8M73.2 683.9H80.8" stroke="#333333" stroke-width="2.4" fill="none"/>
<path d="M92.6 1227V1234.8M231.7 1227V1234.8M370.8 1227V1234.8M509.9 1227V1234.8M649 1227V1234.8" stroke="#333333" stroke-width="2.5" fill="none"/>
<text x="66.3" y="1224.4" font-size="22.8" text-anchor="end" fill="#4d4d4d">-8</text>
<text x="92.6" y="1257.6" font-size="22.8" text-anchor="middle" fill="#4d4d4d">-8</text>
<text x="66.3" y="1091.3" font-size="22.8" text-anchor="end" fill="#4d4d4d">-4</text>
<text x="231.7" y="1257.6" font-size="22.8" text-anchor="middle" fill="#4d4d4d">-4</text>
<text x="66.3" y="958.3" font-size="22.8" text-anchor="end" fill="#4d4d4d">0</text>
<text x="370.8" y="1257.6" font-size="22.8" text-anchor="middle" fill="#4d4d4d">0</text>
<text x="66.3" y="825.3" font-size="22.8" text-anchor="end" fill="#4d4d4d">4</text>
<text x="509.9" y="1257.6" font-size="22.8" text-anchor="middle" fill="#4d4d4d">4</text>
<text x="66.3" y="692.2" font-size="22.8" text-anchor="end" fill="#4d4d4d">8</text>
<text x="649" y="1257.6" font-size="22.8" text-anchor="middle" fill="#4d4d4d">8</text>
<text x="370.6" y="1290.7" font-size="28.8" text-anchor="middle" fill="#000">Log<tspan dy="5.5" font-size="19.5">2</tspan><tspan dy="-5.5"> </tspan>mRNA FC (TS/NTS)</text>
<text transform="translate(27.5 950) rotate(-90)" font-size="28.8" text-anchor="middle" fill="#000">Log<tspan dy="5.5" font-size="19.5">2</tspan><tspan dy="-5.5"> </tspan>RPF FC (TS/NTS)</text>
<circle cx="727" cy="879.6" r="7.4" fill="#4f88be"/>
<circle cx="727" cy="924.8" r="7.4" fill="#5fbe50"/>
<circle cx="727" cy="970.1" r="7.4" fill="#e62322"/>
<circle cx="727" cy="1016" r="7.4" fill="#9950b0"/>
<circle cx="727" cy="1062" r="7.4" fill="#9a9a9a"/>
<text x="764.6" y="888" font-size="23" text-anchor="start" fill="#000">buffered</text>
<text x="764.6" y="933.2" font-size="23" text-anchor="start" fill="#000">forwarded</text>
<text x="764.6" y="978.3" font-size="23" text-anchor="start" fill="#000">intensified</text>
<text x="764.6" y="1011.3" font-size="23" text-anchor="start" fill="#000">translation</text>
<text x="764.6" y="1037" font-size="23" text-anchor="start" fill="#000">exclusive</text>
<text x="764.6" y="1070" font-size="23" text-anchor="start" fill="#000">undetermined</text>
<text transform="translate(-0.8 675.1) scale(0.96 1)" font-size="53.5" font-weight="bold" fill="#000">d</text>
<path d="M1314.9 641V1294.6M1440.9 641V1294.6M1566.8 641V1294.6M1692.8 641V1294.6M1818.8 641V1294.6" stroke="#d2d2d2" stroke-width="1.3" fill="none"/>
<line x1="1289.5" y1="641" x2="1289.5" y2="1289.6" stroke="#cfcfcf" stroke-width="1.4"/>
<line x1="1284" y1="679.1" x2="1289.5" y2="679.1" stroke="#cfcfcf" stroke-width="1.3"/>
<rect x="1314.90" y="650.50" width="503.90" height="57.20" fill="#66c158"/>
<rect x="1314.90" y="650.50" width="280.17" height="57.20" fill="#e82c2c"/>
<rect x="1314.90" y="650.50" width="251.45" height="57.20" fill="#548fc1"/>
<rect x="1314.90" y="650.50" width="140.08" height="57.20" fill="#9a57b0"/>
<text x="1277.8" y="674.7" font-size="23.5" text-anchor="end" fill="#000">peptidyl-threonine</text>
<text x="1277.8" y="700.3" font-size="23.5" text-anchor="end" fill="#000">modification</text>
<line x1="1284" y1="742.6" x2="1289.5" y2="742.6" stroke="#cfcfcf" stroke-width="1.3"/>
<rect x="1314.90" y="714.05" width="503.90" height="57.20" fill="#66c158"/>
<rect x="1314.90" y="714.05" width="217.99" height="57.20" fill="#e82c2c"/>
<rect x="1314.90" y="714.05" width="136.05" height="57.20" fill="#548fc1"/>
<rect x="1314.90" y="714.05" width="81.43" height="57.20" fill="#9a57b0"/>
<text x="1277.8" y="751" font-size="23.5" text-anchor="end" fill="#000">peptidyl-lysine modification</text>
<line x1="1284" y1="806.2" x2="1289.5" y2="806.2" stroke="#cfcfcf" stroke-width="1.3"/>
<rect x="1314.90" y="777.60" width="503.90" height="57.20" fill="#66c158"/>
<rect x="1314.90" y="777.60" width="188.96" height="57.20" fill="#e82c2c"/>
<rect x="1314.90" y="777.60" width="188.96" height="57.20" fill="#548fc1"/>
<rect x="1314.90" y="777.60" width="62.89" height="57.20" fill="#9a57b0"/>
<text x="1277.8" y="801.8" font-size="23.5" text-anchor="end" fill="#000">pteridine-containing compound</text>
<text x="1277.8" y="827.4" font-size="23.5" text-anchor="end" fill="#000">metabolic process</text>
<line x1="1284" y1="869.8" x2="1289.5" y2="869.8" stroke="#cfcfcf" stroke-width="1.3"/>
<rect x="1314.90" y="841.15" width="503.90" height="57.20" fill="#66c158"/>
<rect x="1314.90" y="841.15" width="185.44" height="57.20" fill="#e82c2c"/>
<rect x="1314.90" y="841.15" width="105.82" height="57.20" fill="#548fc1"/>
<rect x="1314.90" y="841.15" width="52.91" height="57.20" fill="#9a57b0"/>
<text x="1277.8" y="865.4" font-size="23.5" text-anchor="end" fill="#000">signal transduction by p53</text>
<text x="1277.8" y="891" font-size="23.5" text-anchor="end" fill="#000">class mediator</text>
<line x1="1284" y1="933.3" x2="1289.5" y2="933.3" stroke="#cfcfcf" stroke-width="1.3"/>
<rect x="1314.90" y="904.70" width="503.90" height="57.20" fill="#66c158"/>
<rect x="1314.90" y="904.70" width="183.27" height="57.20" fill="#e82c2c"/>
<text x="1277.8" y="928.9" font-size="23.5" text-anchor="end" fill="#000">somatic diversification of</text>
<text x="1277.8" y="954.5" font-size="23.5" text-anchor="end" fill="#000">immune receptors</text>
<line x1="1284" y1="996.9" x2="1289.5" y2="996.9" stroke="#cfcfcf" stroke-width="1.3"/>
<rect x="1314.90" y="968.25" width="503.90" height="57.20" fill="#66c158"/>
<rect x="1314.90" y="968.25" width="180.19" height="57.20" fill="#e82c2c"/>
<rect x="1314.90" y="968.25" width="89.69" height="57.20" fill="#548fc1"/>
<rect x="1314.90" y="968.25" width="72.06" height="57.20" fill="#9a57b0"/>
<text x="1277.8" y="992.5" font-size="23.5" text-anchor="end" fill="#000">nucleic acid phosphodiester</text>
<text x="1277.8" y="1018.1" font-size="23.5" text-anchor="end" fill="#000">bond hydrolysis</text>
<line x1="1284" y1="1060.4" x2="1289.5" y2="1060.4" stroke="#cfcfcf" stroke-width="1.3"/>
<rect x="1314.90" y="1031.80" width="503.90" height="57.20" fill="#66c158"/>
<rect x="1314.90" y="1031.80" width="173.85" height="57.20" fill="#e82c2c"/>
<rect x="1314.90" y="1031.80" width="121.44" height="57.20" fill="#548fc1"/>
<rect x="1314.90" y="1031.80" width="34.77" height="57.20" fill="#9a57b0"/>
<text x="1277.8" y="1056" font-size="23.5" text-anchor="end" fill="#000">protein localization to</text>
<text x="1277.8" y="1081.6" font-size="23.5" text-anchor="end" fill="#000">nucleus</text>
<line x1="1284" y1="1124" x2="1289.5" y2="1124" stroke="#cfcfcf" stroke-width="1.3"/>
<rect x="1314.90" y="1095.35" width="503.90" height="57.20" fill="#66c158"/>
<rect x="1314.90" y="1095.35" width="172.08" height="57.20" fill="#e82c2c"/>
<rect x="1314.90" y="1095.35" width="98.26" height="57.20" fill="#548fc1"/>
<rect x="1314.90" y="1095.35" width="24.19" height="57.20" fill="#9a57b0"/>
<text x="1277.8" y="1119.5" font-size="23.5" text-anchor="end" fill="#000">intrinsic apoptotic signaling</text>
<text x="1277.8" y="1145.2" font-size="23.5" text-anchor="end" fill="#000">pathway</text>
<line x1="1284" y1="1187.5" x2="1289.5" y2="1187.5" stroke="#cfcfcf" stroke-width="1.3"/>
<rect x="1314.90" y="1158.90" width="503.90" height="57.20" fill="#66c158"/>
<rect x="1314.90" y="1158.90" width="168.30" height="57.20" fill="#e82c2c"/>
<rect x="1314.90" y="1158.90" width="103.30" height="57.20" fill="#548fc1"/>
<rect x="1314.90" y="1158.90" width="38.95" height="57.20" fill="#9a57b0"/>
<text x="1277.8" y="1183.1" font-size="23.5" text-anchor="end" fill="#000">regulation of apoptotic</text>
<text x="1277.8" y="1208.7" font-size="23.5" text-anchor="end" fill="#000">signaling pathway</text>
<line x1="1284" y1="1251" x2="1289.5" y2="1251" stroke="#cfcfcf" stroke-width="1.3"/>
<rect x="1314.90" y="1222.45" width="503.90" height="57.20" fill="#66c158"/>
<rect x="1314.90" y="1222.45" width="168.30" height="57.20" fill="#e82c2c"/>
<rect x="1314.90" y="1222.45" width="111.87" height="57.20" fill="#548fc1"/>
<rect x="1314.90" y="1222.45" width="69.84" height="57.20" fill="#9a57b0"/>
<text x="1277.8" y="1246.6" font-size="23.5" text-anchor="end" fill="#000">establishment of protein</text>
<text x="1277.8" y="1272.2" font-size="23.5" text-anchor="end" fill="#000">localization to organelle</text>
<path d="M1440.9 650.6V1279.6M1566.8 650.6V1279.6M1692.8 650.6V1279.6" stroke="rgba(0,0,0,0.045)" stroke-width="1.3" fill="none"/>
<text x="1314.9" y="1315.2" font-size="20" text-anchor="middle" fill="#1a1a1a">0.00</text>
<text x="1440.9" y="1315.2" font-size="20" text-anchor="middle" fill="#1a1a1a">0.25</text>
<text x="1566.8" y="1315.2" font-size="20" text-anchor="middle" fill="#1a1a1a">0.50</text>
<text x="1692.8" y="1315.2" font-size="20" text-anchor="middle" fill="#1a1a1a">0.75</text>
<text x="1818.8" y="1315.2" font-size="20" text-anchor="middle" fill="#1a1a1a">1.00</text>
<text x="1566.6" y="1342.6" font-size="23.5" text-anchor="middle" fill="#000">Proportion of genes in GO category</text>
<rect x="1868.70" y="924.00" width="23.40" height="23.70" fill="#66c158"/>
<rect x="1868.70" y="950.00" width="23.40" height="23.50" fill="#e82c2c"/>
<rect x="1868.70" y="976.00" width="23.40" height="23.50" fill="#548fc1"/>
<rect x="1868.70" y="1002.00" width="23.40" height="38.20" fill="#9a57b0"/>
<text x="1905.7" y="942.9" font-size="20" text-anchor="start" fill="#000">forwarded</text>
<text x="1905.7" y="968.6" font-size="20" text-anchor="start" fill="#000">intensified</text>
<text x="1905.7" y="994.8" font-size="20" text-anchor="start" fill="#000">buffered</text>
<text x="1905.7" y="1017.3" font-size="20" text-anchor="start" fill="#000">translation</text>
<text x="1905.7" y="1039.8" font-size="20" text-anchor="start" fill="#000">exclusive</text>
<text transform="translate(944.2 675.1) scale(0.99 1)" font-size="53.5" font-weight="bold" fill="#000">e</text>
<rect x="109.60" y="1587.10" width="551.80" height="529.50" fill="#fff"/>
<path d="M327.9 2063.5h0M353.5 2064.3h0M357.6 2045.9h0M349.1 2077.8h0M359.6 2067.8h0M361.3 2078.4h0M348.5 2028.7h0M360.9 2072.8h0M358.1 2061.2h0M342.3 2071.7h0M321.4 2012.8h0M330 2067.3h0M358.9 2016.6h0M354.8 2032.3h0M345.6 2005.9h0M338 2074.5h0M360.5 2066.9h0M347 2044h0M347 2071.8h0M345.8 2084.6h0M360.4 2071.9h0M359.5 2059.6h0M336.6 2076.4h0M343.5 2080.1h0M343.3 2053.8h0M344.1 2054.9h0M317.5 2057h0M343.4 2038.5h0M354.2 2082.6h0M351.3 2078.6h0M353.3 2066.7h0M354.6 2067.6h0M352 2063h0M332 2067.8h0M354.8 2045h0M352.1 2038.6h0M350.9 2020.2h0M358.4 2078.9h0M344.4 2079.1h0M360.3 2052.4h0M330.7 2075.8h0M356.6 2029.7h0M358.7 2044.8h0M360.1 2072.4h0M358.8 2067.7h0M360.8 2059.4h0M358.3 2031.4h0M354.4 2081.5h0M320.8 2081h0M343 2019.2h0M357.4 2055.5h0M328.8 2023.1h0M357.3 2009.8h0M353.9 1956.4h0M349.8 2086.6h0M350 2033.6h0M360.6 2076.6h0M358.4 2015h0M338.6 2080.7h0M343 2053h0M360.3 2012.7h0M346.6 2067.3h0M355.8 2061.1h0M353.1 2033.3h0M338.7 2073.7h0M362.1 2076h0M357.4 2048.1h0M359.1 2058.6h0M347.7 2054.5h0M325.5 2075.6h0M345.3 2087h0M331 2078.9h0M360 2052.1h0M352.9 2082.4h0M343.4 2036.2h0M338.5 2062.2h0M362.7 2078.8h0M351.9 1990.1h0M362.8 2038.5h0M361.9 2028.4h0M355.9 2074.7h0M357.3 2060.6h0M336.6 2079.4h0M362.3 2011h0M357.3 2009.2h0M354 2061.6h0M344.7 2076.8h0M352.7 2039.6h0M363.4 2059.4h0M350.1 2029.8h0M351.8 2039.1h0M359.4 2081.3h0M339.7 2066h0M332.4 2046.9h0M354.2 2035.5h0M336.2 2063h0M348.1 2040h0M339.3 2035.4h0M350.5 2077.5h0M346.3 2054.2h0M347.6 2068.7h0M339.7 2061.9h0M354 2069.4h0M347.4 2061.6h0M340.9 2020.5h0M361.6 2063.8h0M361.2 2074.1h0M361.5 2083.3h0M355.8 2065.4h0M360.8 2065.2h0M350.6 2074.4h0M341.1 2057.5h0M352.3 2078.3h0M358.9 2007.1h0M341.9 2059.9h0M345.5 2040.5h0M355.4 2063h0M350.4 2075.6h0M355.2 2084.8h0M351.7 2012h0M355.6 2074.4h0M357.9 2044.3h0M350.7 2082.3h0M354.8 2076.4h0M361.9 2079.2h0M354.1 2051.1h0M354.6 2086.5h0M342.2 2046.7h0M341.6 2068.6h0M357.1 2042.3h0M363 2061.7h0M347 2080.2h0M351.3 2034.3h0M333.5 2056.5h0M351.7 2007.2h0M340.5 2083.4h0M360.7 2049.1h0M338.1 2012.6h0M349.5 1996.1h0M340.7 2025.8h0M316.4 2048.9h0M346.9 2015.3h0M357 2029.4h0M347.9 2067.7h0M351.3 2063.2h0M358.3 2036.3h0M322.8 2060.8h0M349.7 2073.3h0M350.7 2059.5h0M346.3 2032.5h0M353.4 2032.7h0M353.6 2030.5h0M349.6 2031.3h0M345.8 2031.8h0M355 2036.9h0M344.1 2072.9h0M345.9 2006.4h0M361.9 2062.3h0M353.7 2052.5h0M361.4 2032.8h0M358.6 2045.6h0M354.3 2083.8h0M358.8 2035.6h0M357.7 2063.4h0M359.1 2027.5h0M344.5 2066.1h0M331.8 2076.9h0M355.8 2072.4h0M346.3 2051.8h0M347.1 2061.8h0M342.7 2027.9h0M355.6 2060.5h0M353.7 2023.5h0M355.7 2062.1h0M301.7 2085.7h0M356.8 2073.3h0M356.5 2080.7h0M356.3 2082h0M360.8 2067h0M349.1 2009.7h0M348.3 2073h0M359.5 2012.5h0M357 2082h0M351.1 2020.5h0M359.4 2042.6h0M351.8 2070.5h0M361.7 2072.8h0M360.7 2049h0M327.1 2017.6h0M313.2 2075.2h0M362.5 2030.4h0M360.5 2083.2h0M348.8 2037.2h0M342.3 2040.5h0M345.3 2023.3h0M352.9 2085.8h0M361 2035.2h0M358.3 2080h0M333 2063.8h0M359.6 2063.9h0M361 2043h0M353.4 2038.2h0M350.6 2068.7h0M335.6 2047h0M348.5 2072.5h0M356.3 2058.2h0M357.1 2053.3h0M360.6 2077.1h0M347.6 2058.8h0M359.4 2073.1h0M329.9 2070.8h0M362.4 2048.3h0M361.3 2077.3h0M362 2073.1h0M353.5 2009.4h0M361.4 1963.2h0M346.7 2059.9h0M359.5 2081.7h0M356.6 2081.9h0M324.3 2064.4h0M363.3 2076.3h0M363.4 2056.9h0M354.5 2044.1h0M359.6 2068.5h0M342.8 2051.9h0M315.6 2042.7h0M346.3 2053.5h0M347.2 2062.1h0M356.4 2022.6h0M349.5 2028.3h0M333.5 2022h0M357.2 2076.4h0M337.7 2051.7h0M332.2 2065h0M353.3 2030.1h0M351.9 1979.7h0M358.4 2024.6h0M352.7 2010.9h0M352.6 2040.4h0M345.2 2066.1h0M349.4 2041.5h0M360.4 2035.5h0M354.3 2057.4h0M359.3 2084.5h0M356.3 2065.8h0M343.9 2073.4h0M361.9 2032.2h0M355 2072.6h0M359.9 2073.9h0M351.5 2078.3h0M338.6 2086h0M328.5 2067.4h0M356.5 2072.1h0M358.3 2015.8h0M347.6 2066.5h0M356 2042h0M331.5 2064.7h0M346.5 2082.7h0M357.7 2014.6h0M358 2030.6h0M335.4 2060.6h0M349 2069.8h0M353.6 2071.6h0M355 2009.6h0M348 2034.7h0M357.7 2066.9h0M356.1 2053.9h0M351.4 2010.5h0M349.5 2068.2h0M357.3 2078.2h0M353.2 2052.5h0M359.2 2046.7h0M333.1 2058.6h0M335.3 2021.7h0M363.2 2070.9h0M356.6 2027.5h0M350.9 2048.3h0M354.3 2040.3h0M333.2 2063.9h0M360.3 2069h0M360.4 2065.2h0M359.5 2022h0M361.5 2058.6h0M348.1 2034.1h0M353.1 2066.6h0M361.2 2085h0M336.6 2075.7h0M354.4 2036.5h0M356.3 2073.5h0M360.1 2078.8h0M350.6 2062.1h0M349.6 2064h0M361 2026.6h0M356.4 2064h0M324.6 2063.2h0M346.7 2029.8h0M345.8 2074.2h0M338.6 2044.8h0M356 2050.3h0M359.8 2017.6h0M361.7 2026.9h0M312.9 2045.5h0M357.6 2023.2h0M358.1 2060.6h0M341 2080.4h0M355.1 2023.9h0M354.4 2048.2h0M357.9 2056.9h0M356 2077.1h0M346.5 2076.1h0M345.8 2038.7h0M358.3 2041.4h0M350.7 2007.8h0M361 2048.5h0M358.8 2010.7h0M360.1 2077.4h0M351.6 2060.8h0M360.6 2041.8h0M338.5 2042h0M353.5 2038.1h0M338.9 2077.3h0M348.8 2021.7h0M359.9 2044h0M358.4 2042.6h0M361.8 2076.2h0M352.4 2084.1h0M353.9 2070h0M358.1 2008.7h0M346.6 2057.3h0M317.6 2070.5h0M344.2 2076.6h0M352 2049.3h0M350.9 2044h0M342.3 2052.9h0M358.4 2044h0M359.5 2073.1h0M350.7 2051.3h0M361.5 2047.8h0M360.3 2073.2h0M352 2057.3h0M358.7 2005.7h0M362 2030.7h0M353.1 2061.8h0M363.3 2038.9h0M334.7 2077.7h0M355.9 2038.3h0M358.7 2073h0M360 2022.4h0M329.7 2044.2h0M343.3 2034h0M345.7 2065.6h0M358.4 2020h0M352.6 2079.8h0M349.6 2022.4h0M347.7 2057.7h0M349.8 2069.6h0M350.9 2039.6h0M350.7 2011.7h0M356.1 2068.7h0M354.1 2063.3h0M335.8 2039h0M354.9 2049.2h0M340.6 2030.6h0M357.8 2054.9h0M363.2 2065.4h0M353.5 2039.8h0M353.7 2054.9h0M356.3 2072.8h0M358.7 2061.5h0M348.6 2079.1h0M357.2 2033.7h0M325.7 2037.9h0M356.9 1992.9h0M352.2 2037.1h0M355.5 2065h0M352.4 2057.7h0M338.8 2020.4h0M341.8 1970.7h0M355.8 2020.5h0M355.9 2036.4h0M356 1994.3h0M339.1 2041.3h0M352.1 2072.2h0M357.8 2055.5h0M347.4 2039.2h0M360.8 2062.5h0M349.7 2057.8h0M348.9 2038.9h0M354.6 2033.1h0M350.8 2078.3h0M333.9 2059.7h0M360.5 2040.5h0M348.2 2050.2h0M344.8 2050.4h0M359.8 2054.9h0M360.1 2080.4h0M359.4 2078.7h0M352.5 2077.4h0M361.7 2069.7h0M341.3 2063.7h0M351.1 2060.8h0M344.9 2060.5h0M353.3 2049.8h0M354.4 2077.7h0M351.9 2074h0M335.4 2051.9h0M357.6 2067.4h0M358.9 2082.4h0M344.4 2070h0M356.2 2075.2h0M359.3 2060.9h0M351.8 2071.3h0M353.5 2042h0M356.1 2050.2h0M324.8 2073.7h0M346.4 2079.4h0M347.7 2049.3h0M357 2072.6h0M344.1 2056.8h0M353.7 2023.5h0M359.7 2048h0M354.9 2021.1h0M337.5 2034.7h0M349.7 2069.9h0M362.6 2082.1h0M361.4 2008.6h0M361.8 2039.1h0M353.2 1943.1h0M359.2 2010h0M335.9 2036.6h0M362.5 2084.9h0M361.8 2064.5h0M355.8 2073.4h0M357.4 2063.5h0M353 2064.2h0M352.2 2019h0M347.3 2050.9h0M353 2057h0M361.3 2042.7h0M361.5 2072.2h0M357.4 2040.2h0M351.3 2067.9h0M349.5 2058.4h0M342.5 2079.3h0M329.1 2042.4h0M346.6 2040.8h0M360.7 2068.6h0M330.7 2035h0M351 2048.8h0M340.8 2073.3h0M344.6 2067.9h0M355.8 2074.8h0M360.9 2038.5h0M353.9 2085.6h0M321.9 2079.2h0M354.3 2063.1h0M362.1 2081.8h0M357.4 2076.7h0M354.3 2054.1h0M349.1 1955h0M340.8 2031.5h0M356.8 2051.6h0M342.7 2040.4h0M354.5 2082.6h0M357 2036.2h0M348.5 2067.3h0M353.5 2070.6h0M361.1 2077h0M361.9 2081.8h0M346.4 2033.8h0M357.5 2063.2h0M355 2080.2h0M360.7 2004.7h0M358 2065.7h0M355.6 2052.9h0M335.2 2011.8h0M359.9 2036.3h0M359.6 2027.8h0M347.2 2035.5h0M333.9 2072.3h0M351.9 2070.4h0M357.5 2058h0M349.9 2034.3h0M336.1 2073.2h0M342.7 2068.2h0M360.6 2063.6h0M334.3 2019.7h0M354.9 2059.5h0M339 2068.3h0M357.5 2053.9h0M359.3 2080.2h0M353.4 2057.5h0M361.3 2037.4h0M327.6 2072.5h0M362.4 2055.2h0M357.6 2078.9h0M357.9 2047.7h0M354.8 2085.7h0M359.5 2059.2h0M360.8 2077.9h0M355.5 2076.4h0M355.8 2079.8h0M335 2063.6h0M351.3 2063.7h0M344.7 2080.8h0M361.6 2084.2h0M358.8 2033.4h0M350.3 2071.7h0M356.2 2082.2h0M347.6 2035.5h0M341.4 2047.3h0M349.9 2031.8h0M348.2 2051.8h0M359.6 2063.9h0M350.5 2033h0M358.2 2074.7h0M357.3 1971.4h0M361.1 2017.2h0M358.9 2079.4h0M362.7 2021.9h0M406.5 2068.8h0M422.7 2078.6h0M431.7 2067.7h0M410.2 2054h0M409.4 2068.7h0M410.7 2047.4h0M431.1 2023.7h0M419.6 2060.8h0M410.9 2080.7h0M409.7 2074.8h0M405.1 1992.6h0M405.8 2069.5h0M410.9 2069.5h0M452.9 2050.2h0M411.6 2063.3h0M456.1 1995h0M429.8 2069.8h0M408 2080.9h0M408.5 2065h0M422.1 2074.2h0M441.6 2042.4h0M413.7 2063.2h0M417.5 2042.7h0M415.8 2032h0M436.7 2005.8h0M449.5 2010.2h0M418 2020.8h0M433.8 2049.6h0M447.8 2045.8h0M413.2 2032.5h0M426.9 2057h0M408.5 2074.1h0M414.5 2035.6h0M417 2039.2h0M404.9 2024.1h0M417.6 2048.7h0M410.4 2059.6h0M412.1 2072.4h0M440.7 2066.1h0M428.8 2032h0M413.8 2060.6h0M414.3 2025.9h0M414 2078.1h0M420.2 2039.5h0M415.2 2033.8h0M433.2 2027.5h0M412.3 2045.1h0M424.6 2055.4h0M413 2073.7h0M421.2 2030.3h0M425.7 2076.7h0M431.7 2041.8h0M413.5 2082.1h0M419 2018.1h0M442.8 2040.9h0M410.2 2028.4h0M405.3 2042.5h0M412.3 2063.1h0M432.3 2061.5h0M421.5 2066.9h0M405.9 2042.5h0M414.8 2080.5h0M405.4 2012.2h0M422.9 2069.8h0M428.4 2066.9h0M430.5 1975.7h0M405.2 2049.9h0M431.8 2080.3h0M405.4 2050.3h0M426.8 2081.5h0M417.8 2061.4h0M408.5 2070.5h0M413.4 2059h0M428.2 2008.8h0M420.2 2071.9h0M411.2 2024.1h0M407.6 2084.3h0M412.2 2079.2h0M435.9 2073.5h0M412.3 2076.6h0M438.5 2079.2h0M412.6 2045h0M418.4 2053.2h0M406.2 2069.5h0M425.1 2086.1h0M417.9 1995.4h0M411.2 2039.4h0M441.1 2079h0M418.6 2072.6h0M438.5 2081.9h0M407.3 2077.5h0M451 2059.7h0M424.7 2028.4h0M440.5 1986.4h0M407.1 2064.3h0M416.7 2039.2h0M411.9 2078h0M404.5 2082.1h0M404.8 2070.4h0M417.1 2042.3h0M420 2045.6h0M415.9 2076.8h0M406.7 2070.5h0M409.9 2079.2h0M408.5 2080.8h0M423 2035.5h0M417.5 2067.2h0M414.3 2020.5h0M414.2 2016.4h0M416.6 2075.7h0M417.6 2069.1h0M437.1 2069.2h0M416.8 2081.7h0M419.8 2073.4h0M432.3 2039.4h0M428.9 2047.6h0M418.1 2046.1h0M448.2 2042.7h0M406 2081.8h0M405.1 2054.1h0M412.1 2061.2h0M407.9 2043.7h0M414.9 2056.9h0M416.6 2066.5h0M405.1 2081.6h0M411.7 2077.4h0M415.2 2068.2h0M417 2063.6h0M408.1 2014.7h0M479.7 2078.7h0M430.4 2059.8h0M419.3 2078.1h0M416.5 2059.4h0M428.1 2008.7h0M407.7 2026.4h0M410.5 2054h0M423.7 2039.1h0M438.9 2075.6h0M407.2 2070h0M410.5 2066.3h0M414.9 2067.1h0M414.7 2042h0M408.8 2072.5h0M413.9 2081.9h0M420.2 2040.4h0M427.1 2056h0M418.2 2044.1h0M409.8 2043.5h0M422.4 2065.3h0M434.7 2086h0M423.6 2073.4h0M437.6 2022.1h0M418.6 2061.5h0M413.4 2067h0M410 2040h0M416.2 2049.4h0M422.9 2067.6h0M409.6 2073.6h0M412.5 2012.3h0M406.1 2079.3h0M417.6 2068.6h0M406.6 2039.1h0M424.2 2075.7h0M410 2080.7h0M411.5 2052.5h0M410.3 2046.1h0M410.9 2080.1h0M416.4 2054.2h0M414.8 2021.3h0M412.8 2062.1h0M406.5 2056.2h0M414.1 2075.4h0M429.4 2077.2h0M450.2 2065.7h0M408.6 2082.2h0M420.9 2063.6h0M407.5 2081.8h0M419.9 2074.7h0M414.2 2036.9h0M415.9 2072.7h0M438.6 1988.8h0M422.5 2055.7h0M433.4 2054.5h0M453.1 2066h0M414.1 2032h0M412.2 2077.1h0M415.7 2010.7h0M410.5 2045.5h0M419.5 2081.1h0M443.1 2052.4h0M415.9 2056.8h0M417.8 2068.7h0M427.8 2047.9h0M412.1 2022h0M411.5 2077.7h0M434.8 2040h0M452.7 2045.4h0M414.8 2049.3h0M413.2 2068.4h0M422.2 2080h0M410.2 2042.7h0M422.3 2034.9h0M442.5 2064.5h0M433.4 2046.6h0M409.9 2060.6h0M405.9 2021.6h0M413.5 2068.3h0M424.7 2065.9h0M407.3 2037.8h0M439.4 2049h0M414.3 2026.6h0M411 2040.8h0M409.2 2060.4h0M414.5 2045.9h0M425.7 2028.6h0M404.2 2060.7h0M423.9 2076.8h0M411 1964.4h0M410.9 1982.9h0M415.6 2079.9h0M406.4 2074.9h0M420.8 2057.5h0M433.9 2072h0M429 2072h0M416.8 1973.1h0M405.3 2062.1h0M406.4 2059.7h0M439.7 2061.8h0M415.1 2079.2h0M417.7 2085.1h0M423 2075.3h0M442.8 2063.9h0M431.9 2082.3h0M406.5 2071.5h0M417 2084.1h0M410.7 2024.6h0M413.9 2071.7h0M419.7 2016.9h0M452.8 2082.7h0M422.6 2084.2h0M407 2032.9h0M405.6 2078.7h0M418.2 2068.9h0M420.2 2024.6h0M425.4 2058.5h0M427.1 2044.6h0M418.7 2056.4h0M407.8 2017.7h0M412 2080.9h0M416.2 2068.6h0M431.2 2008.3h0M429.9 2063.3h0M422.4 2080h0M417.6 2049h0M431.2 2063.9h0M430.9 2065.3h0M419.6 2007.2h0M408.2 2046.4h0M437.6 2077.9h0M432.1 2070.4h0M408.4 2055h0M445.3 2047.1h0M424.6 2016.6h0M423.3 1994.7h0M424.8 2078.5h0M408.9 2053.9h0M408 2060.9h0M404.3 2025.1h0M407.2 2038h0M422.8 2084.6h0M423.2 2059.3h0M419.4 2015.4h0M421.9 2044.7h0M417.6 2076.2h0M415.5 2061.4h0M409.1 2041.9h0M411.6 2018.6h0M411.3 2065.1h0M431 2055.4h0M408 2029.1h0M409.1 2062.7h0M425.5 2085.6h0M460.2 2051.6h0M420.1 2040.4h0M450 2065.3h0M409.7 2059.6h0M432.9 2045.2h0M418.5 2016.9h0M454.8 2064.9h0M416.3 2086.5h0M408.6 2023.8h0M408.9 2054.2h0M411.4 2048.9h0M424 2037.4h0M407.5 2077h0M412.6 2075h0M435.8 2032.7h0M413.3 2048.8h0M413.2 2017.6h0M420 1963.4h0M438.1 2083.9h0M412.7 2070.3h0M425.5 2030.1h0M424.1 2059.3h0M407.3 2071.4h0M416.3 2026.9h0M420 2046.7h0M411.5 2037.1h0M418.7 1992.7h0M455.8 2027.2h0M427.4 2069.7h0M409.3 2061.6h0M410.1 2066.7h0M448 2043.1h0M411.5 2063.4h0M413.9 2083.8h0M417.3 2040.4h0M429.1 2086.5h0M453.5 2079.3h0M435.6 2056.5h0M410.4 1970.4h0M410.8 2085.1h0M428.6 2058.5h0M414.5 2070.7h0M410.6 2032.6h0M430.4 2072.3h0M417.6 2070.5h0M408.1 2079h0M415.4 2033.7h0M411.5 2059.7h0M336.1 1973.8h0M349 1973.5h0M359.7 1998.7h0M337.9 1984.5h0M350.3 1968.9h0M341.5 1994.5h0M354.1 1989.6h0M332.8 1976.7h0M327.7 1982.9h0M340.6 1960.7h0M352.8 2000h0M345.2 1990.2h0M344.6 1961.5h0M335.8 2000h0M345.7 1973.7h0M344.7 1973.8h0M425.2 1971.2h0M428.5 1960.8h0M425.8 1985.1h0M412.7 1986.7h0M417.1 1957.7h0M414.9 1982h0M451.9 1995.3h0M411 1971.9h0M426 1974h0M437.8 1956.4h0M430.4 1974.9h0M424.3 1968.4h0M431.2 1989.8h0M411.4 1980.6h0M421.6 1983h0M440.2 1963.3h0M427.9 1984h0M406.1 1967.4h0M324.1 1792.7h0M319.1 1823.6h0M328.8 1823.2h0M442.6 1812.4h0M418.7 1840.6h0M328 1852.5h0M316.8 1856h0M453.8 1862.2h0M428.3 1865.7h0M287.5 1883.4h0M336.9 1883.4h0M424.1 1889.6h0M429.1 1895h0M419.5 1897.3h0M438.8 1898.1h0M315.7 1900h0M319.9 1907h0M343.1 1908.5h0M424.5 1907.3h0M433 1916.6h0M438.4 1917.8h0M334.6 1922h0M331.9 1928.2h0M417.9 1927h0M459.2 1928.6h0M423.7 1934.4h0M435.3 1936.7h0M445.7 1935.1h0M352.3 1938.2h0M421.4 1941.3h0M430.3 1942.1h0M443 1939.4h0M314.1 1941.3h0M317.2 1942.5h0M354.2 1947.9h0M336.1 1950.2h0M477.7 2029.7h0M500.9 2025.4h0M515.2 2040.9h0M524 2038.5h0M636.7 2050.1h0M579.6 2059.8h0M556.8 2070.6h0M529.1 2065.2h0M505.9 2058.6h0M502 2062.9h0M496.3 2065.2h0M498.6 2082.2h0M474.6 2074h0M477.7 2077.1h0M461.1 2044.3h0M454.6 2020h0M459.2 2033.1h0M275.9 2020.4h0M296 2024.3h0M303.3 2017.3h0M308.7 2030.1h0M294.4 1981.4h0M297.1 1982.2h0M306.4 1977.2h0M290.6 2072.1h0M299.8 2074h0M307.6 2064.4h0M313.3 2065.9h0M300.2 1610.2h0M293.7 1727.9h0M324.2 1792.8h0M442.6 1812.8h0" stroke="#c9607a" stroke-width="5.2" stroke-linecap="round" fill="none" stroke-opacity="0.95"/>
<path d="M383.9 2095.9L377.2 2092.9L361 2088.4L360 2077.7L361 2065.9L362.3 2056.1L364.4 2050.2L367.1 2049.4L370.4 2055.7L373.8 2065.1L377.2 2074.6L380.5 2084L382.9 2091.1L383.9 2093.1ZM383.9 2095.9L390.6 2092.9L406.8 2088.4L407.8 2077.7L406.8 2065.9L405.5 2056.1L403.4 2050.2L400.7 2049.4L397.4 2055.7L394 2065.1L390.6 2074.6L387.3 2084L384.9 2091.1L383.9 2093.1Z" fill="#dedede" stroke="#dedede" stroke-width="3" stroke-linejoin="round"/>
<path d="M402.9 2078h0M361.8 2047.9h0M409.7 2052.7h0M403.7 2064h0M407 2069h0M409.4 2052.1h0M404.8 2088.8h0M407 2068.3h0M407 2086.7h0M410.8 2090h0M403.9 2041.4h0M364.3 2084.3h0M361.7 2069.5h0M363.1 2065.6h0M403.4 2086.5h0M406.1 2079.1h0M364.6 2080.7h0M404.6 2059.2h0M407.1 2054.6h0M406 2075.6h0M410.3 2074.5h0M364.7 2088.4h0M355.7 2077.4h0M403 2062.3h0M360.2 2076.9h0M405.2 2082.6h0M405.2 2088.8h0M404.8 2069.4h0M360.1 2076.7h0M405.8 2081.2h0M362.9 2047h0M362.5 2066.1h0M408.4 2046h0M362.4 2082h0M361.1 2085.6h0M363.2 2067.9h0M408.9 2082h0M406.1 2081.4h0M356.6 2024.9h0M403.9 2088.5h0M403.4 2087.3h0M363.1 2039.9h0M359.1 2036.1h0M404.3 2073.2h0M410.9 2078.9h0M364.9 2089.5h0M408.9 2078.5h0M408.1 2066.3h0M405.4 2043.1h0M406.8 2061.6h0M403.1 2060.9h0M361.7 2089.6h0M358.1 2079.6h0M360.2 2084.6h0M361.5 2081.3h0M361.6 2088.8h0M362 2078.4h0M364.5 2085.2h0M363.7 2086.9h0M364.4 2080.5h0M361.1 2088.3h0M362.5 2069h0M404.7 2089.7h0M363.1 2078.5h0M360.9 2054.9h0M364.4 2031.9h0M415.5 2078.6h0M364 2070.2h0M404 2065.3h0M406.3 2039.6h0M405.7 2067.7h0M403.6 2063h0M407.8 2088.8h0M415.9 2086.7h0M403.4 2087.4h0M409.2 2054.7h0M403.2 2085.5h0M362 2053.2h0M363.3 2079h0M405.5 2089.1h0M362.9 2080.2h0M359.1 2064.2h0M364 2041.3h0M364.8 2088.8h0M405.4 2065.1h0M405.3 2058.5h0M407.9 2070h0M407.3 2072.2h0M406.1 2083h0M357.6 2088h0M360.2 2082.6h0M403.3 2059.7h0M364.7 2059.3h0M364.6 2083.8h0M359.6 2063.6h0M414.9 2084.1h0M402.9 2063h0M358.2 2082.9h0M406.7 2079.3h0M360.3 2037.4h0M407 2032.8h0M361.9 2081.1h0M364.3 2071.9h0M361.1 2076.8h0M403 2072.3h0M408.9 2066.1h0M360 2068h0M405.3 2073.2h0M408.3 2080.9h0M363.6 2083.6h0M354.7 2089.1h0M362.4 2082.7h0M363.6 2076.4h0M360.9 2065h0M405.9 2089.3h0M361.6 2060.3h0M404.9 2071.5h0M406.8 2063h0M403.9 2082.1h0M407.8 2083.9h0M363.8 2088h0M362.7 2084h0M406.8 2088.4h0M405.2 2081.8h0M403.1 2048.9h0M360.4 2031.7h0M360.5 2079.8h0M406.1 2065.2h0M405.6 2069.9h0M407.9 2084.1h0M355.4 2084.7h0M408.5 2087.5h0M407 2076.2h0M409.8 2089.1h0M403.4 2087.4h0M408.1 2077.4h0M364.8 2034.7h0M362.8 2067.9h0M361.1 2054.5h0M402.9 2082.5h0M361.1 2084h0M403 2083h0M359.5 2072.9h0M403.6 2077.8h0M363.4 2087.5h0M406.1 2079.5h0M405 2075.1h0M361.2 2070.2h0M361.1 2082.5h0M407.9 2048.9h0M364.2 2062.4h0M406.3 2088.4h0M363.5 2063.9h0M363.3 2070.2h0M363.1 2090.2h0M407.4 2074h0M411.3 2074.6h0M403.1 2089.9h0M406.2 2075.9h0M408 2042.8h0M403.5 2073.7h0M403.5 2088.8h0M408.8 2050.8h0M361.1 2086.6h0M358.8 2083.4h0M404.8 2071.2h0M403.3 2082h0M404.2 2077.8h0M408.8 2075.5h0M364.5 2077.3h0M405.2 2068.3h0M361.9 2043.9h0M354.4 2071.7h0M364.4 2046.3h0M363.1 2063.2h0M360.6 2077h0M404.6 2088.7h0M404.7 2083.8h0M362.6 2065.8h0M358.6 2084.6h0M402.8 2084.9h0M363.5 2081.5h0M359.8 2076.3h0M362.3 2075.3h0M359.6 2084.8h0M403.3 2081.6h0M363.6 2085.7h0M362.5 2084.4h0M363.9 2074.8h0M362.8 2081.1h0M402.8 2062.5h0M358.8 2067.6h0M358 2071.8h0M361.6 2069.7h0M409.6 2079.6h0M406.7 2088.9h0M361.7 2079.8h0M406.9 2084.3h0M403.7 2078.2h0M403.2 2052.9h0M363.8 2045.4h0M359.7 2080.3h0M405.7 2082.4h0M408.4 2073.5h0M360.5 2039h0M403 2068h0M403.2 2051.5h0M405.6 2080h0M407.2 2074.7h0M403.1 2073.8h0M403.5 2088.6h0M363.6 2088.8h0M403.8 2078.5h0M408 2087.2h0M408.5 2070.9h0M411 2075.6h0M361 2030.6h0M407.8 2047.8h0M407 2082.6h0M353.4 2025.4h0M405.2 2070.4h0M407.5 2084.1h0M405.8 2071.2h0M365 2087.9h0M406 2060.7h0M361.7 2072.1h0M355.8 2090h0M411.7 2046.2h0M361.8 2089.2h0M403 2069.4h0M403.9 2084.3h0M364.9 2059.3h0M409.3 2059.8h0M403.3 2075.3h0M357.9 2089.9h0M361.3 2048.4h0M363.9 2089.7h0M361.3 2081.8h0M403.3 2068.5h0M361.5 2054.3h0M354.7 2083.4h0M410.5 2088.6h0M363.6 2084.5h0M363.6 2085.2h0M363.4 2088h0M418.5 2088.2h0M353.5 2090.1h0M405.6 2081.8h0M360.9 2083.8h0M358.1 2036.3h0M362.9 2077.3h0M363.9 2075.8h0M405.8 2075.6h0M406 2054.6h0M362.5 2071.1h0M406.1 2078.1h0M410.1 2051.3h0M403.6 2088.3h0M404.8 2013.8h0M364.4 2073h0M403 2080.3h0M365 2071.8h0M361.5 2080.7h0M406.1 2085.9h0M408.6 2053.1h0M407.8 2080.2h0M406.5 2087h0M358.3 2081.7h0M362 2086.5h0M403.1 2015.7h0M405.6 2082.6h0M407.6 2085.2h0M364 2084.9h0M360.4 2058.8h0M404.9 2042.5h0M358.6 2069.2h0M363.7 2075.4h0M408.7 2080.4h0M404.1 2074.8h0M352.7 2070.4h0M357.3 2044.9h0M363.1 2052.7h0M362.3 2035.1h0M360.2 2087.4h0M364.6 2077.1h0M364.4 2072.8h0M363.3 2060.3h0M362.1 2077.2h0M363.8 2064.9h0M412.6 2067.7h0M364.3 2055.7h0M362.4 2064.5h0M360.9 2049.8h0M362.2 2073.2h0M362.8 2088.9h0M404.2 2057.2h0M359 2074.2h0M408.1 2020.7h0M363.4 2088.6h0M405 2064.3h0M363.3 2061.9h0M406.6 2070.3h0M402.8 2071.4h0M411.8 2080.5h0M359.2 2087.5h0M411.1 2058.7h0M408.1 2028.2h0M403.4 2068.2h0M362.5 2079.1h0M406.3 2078.9h0M364.3 2087.3h0M404.4 2083.2h0M355.9 2037.6h0M405.3 2085.7h0M407.3 2076.1h0M405.8 2079.3h0M364.2 2067.8h0M403.4 2079.7h0M363.3 2069.7h0M407.5 2034h0M355.1 2087.5h0M408.1 2066.1h0M405.4 2081.2h0M363.8 2082.9h0M407.3 2084.5h0M364.5 2080.1h0M363.5 2044.4h0M404.9 2089.6h0M404.7 2090.1h0M407.9 2039.3h0M403.2 2089.6h0M359.8 2089.7h0M362.5 2074.4h0M355.7 2078.8h0M359.8 2072.8h0M363.1 2074.8h0M358.6 2082.2h0M364.8 2044h0M406.7 2073.7h0M361.7 2087.4h0M403.8 2068.9h0M402.8 2027.1h0M361.3 2018.6h0M357.6 2084.6h0M354.6 2082.9h0M358.9 2067.9h0M360.4 2089.1h0M359.5 2076.6h0M361.4 2072.6h0M403.7 2083.6h0M407.6 2082.2h0M410.3 2068.8h0M360.7 2052.6h0M363 2079.8h0M358.2 2080h0M403.5 2088.6h0M406.7 2076h0M363.2 2070.5h0M407.2 2070.9h0M363.1 2077.4h0M406.5 2053.5h0M403.1 2084.4h0M363.6 2078.3h0M405.1 2085h0M409.6 2036.4h0M405.6 2057.8h0M360.9 2022h0M408.1 2085.3h0M364.7 2066.2h0M361.8 2071h0M405.6 2080.5h0M360.4 2084.3h0M402.9 2073.5h0M364.2 2088.7h0M359.3 2070h0M413.8 2067.2h0M362.7 2051.4h0M358.2 2088h0M362.1 2037.6h0M361.2 2086.9h0M405.6 2058.4h0M359.2 2087.9h0M357.1 2082.4h0M362.5 2074.5h0M356.9 2079.1h0M364.5 2063.8h0M405.7 2038.1h0M407.4 2090.2h0M353.5 2054.3h0M362 2087.5h0M403.1 2088.5h0M361.4 2067.7h0M364.4 2067.4h0M364 2026.5h0M405.3 2082.8h0M362.9 2066.5h0M407.5 2063h0M361.5 2088.6h0M404.7 2056.5h0M364 2077.1h0M363.8 2068.9h0M365 2043.2h0M406 2089.4h0M412.6 2082.7h0M360.8 2060h0M408 2065.5h0M360.2 2076.7h0M360.7 2090h0M410.4 2089.1h0M407.7 2087.1h0M403.9 2083.1h0" stroke="#e2e2e2" stroke-width="4.6" stroke-linecap="round" fill="none" stroke-opacity="0.32"/>
<path d="M402.6 2050.3h0M363.9 2056.3h0M363.6 2029.9h0M366.5 2035.2h0M399.7 2055.7h0M363.5 2031.9h0M362.8 2051.6h0M405.2 2052.2h0M402 2054.7h0M365.4 2048.7h0M362.2 2038.2h0M364.7 2028.6h0M401.9 2052.9h0M366.6 2036.3h0M365.3 2047.1h0M367.4 2047h0M362.2 2031.1h0M405.6 2025h0M404.6 2027.5h0M362.7 2035.6h0M402.3 2038.9h0M401.2 2036.7h0M363.2 2039.7h0M401.7 2053h0M363.3 2023.9h0M366.1 2033.5h0M404.2 2052.1h0M362.7 2022.9h0M405.2 2038.9h0M405.6 2021.5h0M362.2 2030.7h0M366.4 2054.8h0M366.6 2045.1h0M361.7 2051.7h0M405.3 2031.5h0M365.9 2054.3h0M364.4 2051.1h0M404.2 2045.3h0M403.7 2031.5h0M401.7 2048.5h0M365.2 2055.9h0M363.4 2039.9h0M399.6 2039h0M362.4 2040.8h0M363.7 2041.8h0M362.5 2038.2h0M361.9 2039.2h0M405 2030.8h0M366.6 2038.6h0M400 2055.7h0" stroke="#dedede" stroke-width="4.6" stroke-linecap="round" fill="none" stroke-opacity="0.3"/>
<path d="M406.1 2090.4h0M350.3 2088.8h0M353.6 2090.4h0M351.4 2088.6h0M365.2 2090.1h0M415.4 2089.7h0M401.5 2091.1h0M415.1 2091.6h0M363.3 2092.8h0M352.6 2091.5h0M358 2088.9h0M413 2091.9h0M354.3 2091.4h0M401.4 2092.2h0M419 2089.4h0M347.4 2091.3h0M348.1 2092.8h0M364.2 2088.6h0M405.9 2091.1h0M364.6 2091.4h0M419.1 2090.2h0M411.5 2090.2h0M398.6 2091.2h0M398.2 2091.1h0M347.2 2090.8h0M401.6 2092.3h0M400.1 2092.6h0M348.4 2093.1h0M412.7 2092.3h0M406.2 2089.5h0M413.2 2091.9h0M349 2093h0M365.5 2090.6h0M418.8 2088.4h0M346.9 2089.6h0M348 2092.5h0M416.3 2088.5h0M420.6 2092.1h0M408.1 2089.8h0M360.8 2089.6h0M362 2089.7h0M400.2 2089.8h0M347.1 2090.6h0M367.9 2092.6h0M358.5 2092h0M364.7 2092.2h0M408.8 2092.8h0M347.4 2091.2h0M402.5 2090.1h0M402.7 2092h0M416.9 2090.3h0M354.4 2090.4h0M353.9 2089.6h0M350.6 2092h0M402.8 2092.1h0M359 2090.8h0M364 2090.6h0M405.5 2090.9h0M350.7 2089.5h0M409.2 2091.5h0M353.8 2091.7h0M364 2091.7h0M414.8 2092.9h0M355 2092.5h0M414.6 2091.9h0M420.7 2091.4h0M400.4 2089.6h0M401.3 2093h0M348.3 2090.5h0M358.6 2089.3h0" stroke="#dedede" stroke-width="4.6" stroke-linecap="round" fill="none" stroke-opacity="0.8"/>
<path d="M428.3 2013.9h0M438.8 2038.5h0M439.9 2060.9h0M442.6 2060.9h0M458.1 2071.3h0M419.9 2071.3h0M416.8 2075.2h0M413.7 2079.1h0M409.8 2082.9h0M405.2 2086.8h0M422.6 2080.2h0M427.6 2084.9h0M439.1 2076.4h0M441.8 2077.9h0M445.7 2081h0M350.4 2085.6h0" stroke="#2c6a70" stroke-width="10.2" stroke-linecap="round" fill="none" stroke-opacity="0.92"/>
<line x1="364.2" y1="1587.1" x2="364.2" y2="2116.6" stroke="#d4d4d4" stroke-width="1.2" stroke-dasharray="5 5.4"/>
<line x1="383.9" y1="1587.1" x2="383.9" y2="2116.6" stroke="#d4d4d4" stroke-width="1.2" stroke-dasharray="5 5.4"/>
<line x1="403.6" y1="1587.1" x2="403.6" y2="2116.6" stroke="#d4d4d4" stroke-width="1.2" stroke-dasharray="5 5.4"/>
<line x1="109.6" y1="2088.4" x2="661.4" y2="2088.4" stroke="#d4d4d4" stroke-width="1.2" stroke-dasharray="5 5.4"/>
<rect x="109.60" y="1587.10" width="551.80" height="529.50" fill="none" stroke="#333333" stroke-width="1.8"/>
<path d="M100.2 2093.5H109.6M100.2 1995H109.6M100.2 1896.6H109.6M100.2 1798.2H109.6M100.2 1699.7H109.6M100.2 1601.2H109.6" stroke="#333333" stroke-width="3.0" fill="none"/>
<path d="M114.5 2116.6V2125.8M249.2 2116.6V2125.8M383.9 2116.6V2125.8M518.6 2116.6V2125.8M653.3 2116.6V2125.8" stroke="#333333" stroke-width="3.0" fill="none"/>
<text x="92.6" y="2103.6" font-size="27" text-anchor="end" fill="#4d4d4d">0</text>
<text x="92.6" y="2005.1" font-size="27" text-anchor="end" fill="#4d4d4d">25</text>
<text x="92.6" y="1906.7" font-size="27" text-anchor="end" fill="#4d4d4d">50</text>
<text x="92.6" y="1808.2" font-size="27" text-anchor="end" fill="#4d4d4d">75</text>
<text x="92.6" y="1709.8" font-size="27" text-anchor="end" fill="#4d4d4d">100</text>
<text x="92.6" y="1611.3" font-size="27" text-anchor="end" fill="#4d4d4d">125</text>
<text x="114.5" y="2152.3" font-size="27" text-anchor="middle" fill="#4d4d4d">-8</text>
<text x="249.2" y="2152.3" font-size="27" text-anchor="middle" fill="#4d4d4d">-4</text>
<text x="383.9" y="2152.3" font-size="27" text-anchor="middle" fill="#4d4d4d">0</text>
<text x="518.6" y="2152.3" font-size="27" text-anchor="middle" fill="#4d4d4d">4</text>
<text x="653.3" y="2152.3" font-size="27" text-anchor="middle" fill="#4d4d4d">8</text>
<text x="385" y="2192" font-size="33.8" text-anchor="middle" fill="#000">Log<tspan dy="6.5" font-size="23">2</tspan><tspan dy="-6.5"> </tspan>RPF FC (TS/NTS)</text>
<text transform="translate(31.9 1852.5) rotate(-90)" font-size="33.8" text-anchor="middle" fill="#000">-log10(pvalue)</text>
<circle cx="145.1" cy="1508.4" r="7.1" fill="#c9607a"/>
<circle cx="346.5" cy="1508.4" r="7.1" fill="#d9d9d9"/>
<circle cx="554.5" cy="1508.4" r="7.1" fill="#2c6a70"/>
<text x="189.1" y="1503" font-size="27" text-anchor="start" fill="#000">canonical</text>
<text x="189.1" y="1531.9" font-size="27" text-anchor="start" fill="#000">ORF</text>
<text x="390.9" y="1503" font-size="27" text-anchor="start" fill="#000">Not</text>
<text x="390.9" y="1531.9" font-size="27" text-anchor="start" fill="#000">significant</text>
<text x="598.1" y="1517.6" font-size="27" text-anchor="start" fill="#000">sORF</text>
<text transform="translate(8.8 1466.8) scale(1.08 1)" font-size="53.5" font-weight="bold" fill="#000">f</text>
<rect x="869.40" y="1469.80" width="330.60" height="298.70" fill="#fff"/>
<path d="M869.4 1517.7H1200M869.4 1575.9H1200M869.4 1634.1H1200M869.4 1692.3H1200M869.4 1750.5H1200" stroke="#ebebeb" stroke-width="1.25" fill="none"/>
<path d="M869.4 1488.6H1200M869.4 1546.8H1200M869.4 1605H1200M869.4 1663.2H1200M869.4 1721.4H1200" stroke="#ebebeb" stroke-width="2.5" fill="none"/>
<path d="M959.4 1469.8V1768.5M1110 1469.8V1768.5" stroke="#ebebeb" stroke-width="2.5" fill="none"/>
<line x1="959.4" y1="1482.9" x2="959.4" y2="1500.9" stroke="#333333" stroke-width="2.1"/>
<line x1="959.4" y1="1562.7" x2="959.4" y2="1583.8" stroke="#333333" stroke-width="2.1"/>
<rect x="902.40" y="1500.90" width="114.00" height="61.80" fill="#d5621d" stroke="#333333" stroke-width="2.3" stroke-linejoin="round"/>
<line x1="902.4" y1="1531.3" x2="1016.4" y2="1531.3" stroke="#333333" stroke-width="4.2"/>
<circle cx="959.4" cy="1482.9" r="3.1" fill="#000"/>
<circle cx="959.4" cy="1506.9" r="3.1" fill="#000"/>
<circle cx="959.4" cy="1555.6" r="3.1" fill="#000"/>
<circle cx="959.4" cy="1583.8" r="3.1" fill="#000"/>
<line x1="1110" y1="1687.6" x2="1110" y2="1696.4" stroke="#333333" stroke-width="2.1"/>
<line x1="1110" y1="1729.2" x2="1110" y2="1756" stroke="#333333" stroke-width="2.1"/>
<rect x="1053.00" y="1696.40" width="114.00" height="32.80" fill="#70bfe9" stroke="#333333" stroke-width="2.3" stroke-linejoin="round"/>
<line x1="1053" y1="1709.8" x2="1167" y2="1709.8" stroke="#333333" stroke-width="4.2"/>
<circle cx="1110" cy="1687.6" r="3.1" fill="#000"/>
<circle cx="1110" cy="1699.2" r="3.1" fill="#000"/>
<circle cx="1110" cy="1720" r="3.1" fill="#000"/>
<circle cx="1110" cy="1756" r="3.1" fill="#000"/>
<rect x="869.40" y="1469.80" width="330.60" height="298.70" fill="none" stroke="#333333" stroke-width="1.7"/>
<path d="M861.8 1488.6H869.4M861.8 1546.8H869.4M861.8 1605H869.4M861.8 1663.2H869.4M861.8 1721.4H869.4" stroke="#333333" stroke-width="2.4" fill="none"/>
<text x="854.5" y="1496.8" font-size="21.5" text-anchor="end" fill="#4d4d4d">1.05</text>
<text x="854.5" y="1555" font-size="21.5" text-anchor="end" fill="#4d4d4d">1.00</text>
<text x="854.5" y="1613.2" font-size="21.5" text-anchor="end" fill="#4d4d4d">0.95</text>
<text x="854.5" y="1671.4" font-size="21.5" text-anchor="end" fill="#4d4d4d">0.90</text>
<text x="854.5" y="1729.6" font-size="21.5" text-anchor="end" fill="#4d4d4d">0.85</text>
<text x="1034.7" y="1435.3" font-size="19.7" text-anchor="middle" fill="#1a1a1a" font-style="italic">XR_003481490.2_407599334_59aa</text>
<text x="1034.7" y="1456.5" font-size="19.7" text-anchor="middle" fill="#1a1a1a" font-style="italic">buffered</text>
<rect x="1269.20" y="1469.80" width="330.80" height="298.70" fill="#fff"/>
<path d="M1269.2 1490.2H1600M1269.2 1551.4H1600M1269.2 1612.8H1600M1269.2 1674.1H1600M1269.2 1735.3H1600" stroke="#ebebeb" stroke-width="1.25" fill="none"/>
<path d="M1269.2 1520.8H1600M1269.2 1582.1H1600M1269.2 1643.4H1600M1269.2 1704.7H1600M1269.2 1766H1600" stroke="#ebebeb" stroke-width="2.5" fill="none"/>
<path d="M1359.2 1469.8V1768.5M1510 1469.8V1768.5" stroke="#ebebeb" stroke-width="2.5" fill="none"/>
<line x1="1359.2" y1="1482.9" x2="1359.2" y2="1504.1" stroke="#333333" stroke-width="2.1"/>
<line x1="1359.2" y1="1591" x2="1359.2" y2="1711.8" stroke="#333333" stroke-width="2.1"/>
<rect x="1302.20" y="1504.10" width="114.00" height="86.90" fill="#d5621d" stroke="#333333" stroke-width="2.3" stroke-linejoin="round"/>
<line x1="1302.2" y1="1531" x2="1416.2" y2="1531" stroke="#333333" stroke-width="4.2"/>
<circle cx="1359.2" cy="1482.9" r="3.1" fill="#000"/>
<circle cx="1359.2" cy="1511.1" r="3.1" fill="#000"/>
<circle cx="1359.2" cy="1550.8" r="3.1" fill="#000"/>
<circle cx="1359.2" cy="1711.8" r="3.1" fill="#000"/>
<line x1="1510" y1="1717.5" x2="1510" y2="1728.1" stroke="#333333" stroke-width="2.1"/>
<line x1="1510" y1="1750.2" x2="1510" y2="1755.5" stroke="#333333" stroke-width="2.1"/>
<rect x="1453.00" y="1728.10" width="114.00" height="22.10" fill="#70bfe9" stroke="#333333" stroke-width="2.3" stroke-linejoin="round"/>
<line x1="1453" y1="1740" x2="1567" y2="1740" stroke="#333333" stroke-width="4.2"/>
<circle cx="1510" cy="1717.5" r="3.1" fill="#000"/>
<circle cx="1510" cy="1731.6" r="3.1" fill="#000"/>
<circle cx="1510" cy="1748.4" r="3.1" fill="#000"/>
<circle cx="1510" cy="1755.5" r="3.1" fill="#000"/>
<rect x="1269.20" y="1469.80" width="330.80" height="298.70" fill="none" stroke="#333333" stroke-width="1.7"/>
<path d="M1261.6 1520.8H1269.2M1261.6 1582.1H1269.2M1261.6 1643.4H1269.2M1261.6 1704.7H1269.2M1261.6 1766H1269.2" stroke="#333333" stroke-width="2.4" fill="none"/>
<text x="1256.3" y="1529" font-size="21.5" text-anchor="end" fill="#4d4d4d">0.70</text>
<text x="1256.3" y="1590.3" font-size="21.5" text-anchor="end" fill="#4d4d4d">0.65</text>
<text x="1256.3" y="1651.6" font-size="21.5" text-anchor="end" fill="#4d4d4d">0.60</text>
<text x="1256.3" y="1712.9" font-size="21.5" text-anchor="end" fill="#4d4d4d">0.55</text>
<text x="1256.3" y="1774.2" font-size="21.5" text-anchor="end" fill="#4d4d4d">0.50</text>
<text x="1434.6" y="1435.3" font-size="19.7" text-anchor="middle" fill="#1a1a1a" font-style="italic">XR_003483976.2_53501071_63aa</text>
<text x="1434.6" y="1456.5" font-size="19.7" text-anchor="middle" fill="#1a1a1a" font-style="italic">buffered</text>
<rect x="1656.90" y="1469.80" width="331.20" height="298.70" fill="#fff"/>
<path d="M1656.9 1511.1H1988.1M1656.9 1589.4H1988.1M1656.9 1667.8H1988.1M1656.9 1746.1H1988.1" stroke="#ebebeb" stroke-width="1.25" fill="none"/>
<path d="M1656.9 1471.9H1988.1M1656.9 1550.3H1988.1M1656.9 1628.6H1988.1M1656.9 1706.9H1988.1" stroke="#ebebeb" stroke-width="2.5" fill="none"/>
<path d="M1747.3 1469.8V1768.5M1898.1 1469.8V1768.5" stroke="#ebebeb" stroke-width="2.5" fill="none"/>
<line x1="1747.3" y1="1530.1" x2="1747.3" y2="1574.6" stroke="#333333" stroke-width="2.1"/>
<line x1="1747.3" y1="1670.8" x2="1747.3" y2="1755.9" stroke="#333333" stroke-width="2.1"/>
<rect x="1690.30" y="1574.60" width="114.00" height="96.20" fill="#d5621d" stroke="#333333" stroke-width="2.3" stroke-linejoin="round"/>
<line x1="1690.3" y1="1616.1" x2="1804.3" y2="1616.1" stroke="#333333" stroke-width="4.2"/>
<circle cx="1747.3" cy="1530.1" r="3.1" fill="#000"/>
<circle cx="1747.3" cy="1589.6" r="3.1" fill="#000"/>
<circle cx="1747.3" cy="1643" r="3.1" fill="#000"/>
<circle cx="1747.3" cy="1755.9" r="3.1" fill="#000"/>
<line x1="1898.1" y1="1482.9" x2="1898.1" y2="1490.4" stroke="#333333" stroke-width="2.1"/>
<line x1="1898.1" y1="1502.8" x2="1898.1" y2="1520.8" stroke="#333333" stroke-width="2.1"/>
<rect x="1841.10" y="1490.40" width="114.00" height="12.40" fill="#70bfe9" stroke="#333333" stroke-width="2.3" stroke-linejoin="round"/>
<line x1="1841.1" y1="1494.8" x2="1955.1" y2="1494.8" stroke="#333333" stroke-width="4.2"/>
<circle cx="1898.1" cy="1482.9" r="3.1" fill="#000"/>
<circle cx="1898.1" cy="1492.6" r="3.1" fill="#000"/>
<circle cx="1898.1" cy="1497" r="3.1" fill="#000"/>
<circle cx="1898.1" cy="1520.8" r="3.1" fill="#000"/>
<rect x="1656.90" y="1469.80" width="331.20" height="298.70" fill="none" stroke="#333333" stroke-width="1.7"/>
<path d="M1649.3 1471.9H1656.9M1649.3 1550.3H1656.9M1649.3 1628.6H1656.9M1649.3 1706.9H1656.9" stroke="#333333" stroke-width="2.4" fill="none"/>
<text x="1643.5" y="1480.1" font-size="21.5" text-anchor="end" fill="#4d4d4d">0.9</text>
<text x="1643.5" y="1558.5" font-size="21.5" text-anchor="end" fill="#4d4d4d">0.6</text>
<text x="1643.5" y="1636.8" font-size="21.5" text-anchor="end" fill="#4d4d4d">0.3</text>
<text x="1643.5" y="1715.1" font-size="21.5" text-anchor="end" fill="#4d4d4d">0.0</text>
<text x="1822.5" y="1435.3" font-size="19.7" text-anchor="middle" fill="#1a1a1a" font-style="italic">XR_003484005.2_59719147_46aa</text>
<text x="1822.5" y="1456.5" font-size="19.7" text-anchor="middle" fill="#1a1a1a" font-style="italic">intensified</text>
<rect x="869.10" y="1844.50" width="330.90" height="298.80" fill="#fff"/>
<path d="M869.1 1875.3H1200M869.1 1944.7H1200M869.1 2013.9H1200M869.1 2083.1H1200" stroke="#ebebeb" stroke-width="1.25" fill="none"/>
<path d="M869.1 1910H1200M869.1 1979.3H1200M869.1 2048.5H1200M869.1 2117.7H1200" stroke="#ebebeb" stroke-width="2.5" fill="none"/>
<path d="M958.9 1844.5V2143.3M1109.8 1844.5V2143.3" stroke="#ebebeb" stroke-width="2.5" fill="none"/>
<line x1="958.9" y1="2032.7" x2="958.9" y2="2067.2" stroke="#333333" stroke-width="2.1"/>
<line x1="958.9" y1="2114.7" x2="958.9" y2="2130.7" stroke="#333333" stroke-width="2.1"/>
<rect x="901.90" y="2067.20" width="114.00" height="47.50" fill="#d5621d" stroke="#333333" stroke-width="2.3" stroke-linejoin="round"/>
<line x1="901.9" y1="2094.3" x2="1015.9" y2="2094.3" stroke="#333333" stroke-width="4.2"/>
<circle cx="958.9" cy="2032.7" r="3.1" fill="#000"/>
<circle cx="958.9" cy="2078.8" r="3.1" fill="#000"/>
<circle cx="958.9" cy="2109.9" r="3.1" fill="#000"/>
<circle cx="958.9" cy="2130.7" r="3.1" fill="#000"/>
<line x1="1109.8" y1="1857.6" x2="1109.8" y2="1934.3" stroke="#333333" stroke-width="2.1"/>
<line x1="1109.8" y1="2034.2" x2="1109.8" y2="2047.8" stroke="#333333" stroke-width="2.1"/>
<rect x="1052.80" y="1934.30" width="114.00" height="99.90" fill="#70bfe9" stroke="#333333" stroke-width="2.3" stroke-linejoin="round"/>
<line x1="1052.8" y1="1994.4" x2="1166.8" y2="1994.4" stroke="#333333" stroke-width="4.2"/>
<circle cx="1109.8" cy="1857.6" r="3.1" fill="#000"/>
<circle cx="1109.8" cy="1960" r="3.1" fill="#000"/>
<circle cx="1109.8" cy="2029.8" r="3.1" fill="#000"/>
<circle cx="1109.8" cy="2047.8" r="3.1" fill="#000"/>
<rect x="869.10" y="1844.50" width="330.90" height="298.80" fill="none" stroke="#333333" stroke-width="1.7"/>
<path d="M861.5 1910H869.1M861.5 1979.3H869.1M861.5 2048.5H869.1M861.5 2117.7H869.1" stroke="#333333" stroke-width="2.4" fill="none"/>
<text x="854.5" y="1918.2" font-size="21.5" text-anchor="end" fill="#4d4d4d">1.3</text>
<text x="854.5" y="1987.5" font-size="21.5" text-anchor="end" fill="#4d4d4d">1.2</text>
<text x="854.5" y="2056.7" font-size="21.5" text-anchor="end" fill="#4d4d4d">1.1</text>
<text x="854.5" y="2125.9" font-size="21.5" text-anchor="end" fill="#4d4d4d">1.0</text>
<text x="1034.5" y="1810" font-size="19.7" text-anchor="middle" fill="#1a1a1a" font-style="italic">XR_004770567.1_82548222_17aa</text>
<text x="1034.5" y="1831.2" font-size="19.7" text-anchor="middle" fill="#1a1a1a" font-style="italic">translation exclusive</text>
<rect x="1268.90" y="1844.50" width="331.30" height="298.80" fill="#fff"/>
<path d="M1268.9 1847.6H1600.2M1268.9 1919H1600.2M1268.9 1990.5H1600.2M1268.9 2061.9H1600.2M1268.9 2133.4H1600.2" stroke="#ebebeb" stroke-width="1.25" fill="none"/>
<path d="M1268.9 1883.3H1600.2M1268.9 1954.7H1600.2M1268.9 2026.2H1600.2M1268.9 2097.7H1600.2" stroke="#ebebeb" stroke-width="2.5" fill="none"/>
<path d="M1359.1 1844.5V2143.3M1510 1844.5V2143.3" stroke="#ebebeb" stroke-width="2.5" fill="none"/>
<line x1="1359.1" y1="1963.9" x2="1359.1" y2="2003.6" stroke="#333333" stroke-width="2.1"/>
<line x1="1359.1" y1="2045.8" x2="1359.1" y2="2045.8" stroke="#333333" stroke-width="2.1"/>
<rect x="1302.10" y="2003.60" width="114.00" height="42.20" fill="#d5621d" stroke="#333333" stroke-width="2.3" stroke-linejoin="round"/>
<line x1="1302.1" y1="2017.2" x2="1416.1" y2="2017.2" stroke="#333333" stroke-width="4.2"/>
<circle cx="1359.1" cy="2130.7" r="4.6" fill="#222"/>
<circle cx="1359.1" cy="1963.9" r="3.1" fill="#000"/>
<circle cx="1359.1" cy="2017.2" r="3.1" fill="#000"/>
<circle cx="1359.1" cy="2130.7" r="3.1" fill="#000"/>
<line x1="1510" y1="1857.6" x2="1510" y2="1889.1" stroke="#333333" stroke-width="2.1"/>
<line x1="1510" y1="1955.1" x2="1510" y2="1955.1" stroke="#333333" stroke-width="2.1"/>
<rect x="1453.00" y="1889.10" width="114.00" height="66.00" fill="#70bfe9" stroke="#333333" stroke-width="2.3" stroke-linejoin="round"/>
<line x1="1453" y1="1926.5" x2="1567" y2="1926.5" stroke="#333333" stroke-width="4.2"/>
<circle cx="1510" cy="1857.6" r="3.1" fill="#000"/>
<circle cx="1510" cy="1899.3" r="3.1" fill="#000"/>
<circle cx="1510" cy="1955.6" r="3.1" fill="#000"/>
<rect x="1268.90" y="1844.50" width="331.30" height="298.80" fill="none" stroke="#333333" stroke-width="1.7"/>
<path d="M1261.3 1883.3H1268.9M1261.3 1954.7H1268.9M1261.3 2026.2H1268.9M1261.3 2097.7H1268.9" stroke="#333333" stroke-width="2.4" fill="none"/>
<text x="1256.3" y="1891.5" font-size="21.5" text-anchor="end" fill="#4d4d4d">1.5</text>
<text x="1256.3" y="1962.9" font-size="21.5" text-anchor="end" fill="#4d4d4d">1.0</text>
<text x="1256.3" y="2034.4" font-size="21.5" text-anchor="end" fill="#4d4d4d">0.5</text>
<text x="1256.3" y="2105.9" font-size="21.5" text-anchor="end" fill="#4d4d4d">0.0</text>
<text x="1434.6" y="1810" font-size="19.7" text-anchor="middle" fill="#1a1a1a" font-style="italic">XR_004771714.1_255645447_91aa</text>
<text x="1434.6" y="1831.2" font-size="19.7" text-anchor="middle" fill="#1a1a1a" font-style="italic">translation exclusive</text>
<text transform="translate(794.9 1806.6) rotate(-90)" font-size="29" text-anchor="middle" fill="#000">Log<tspan dy="5.5" font-size="20">2</tspan><tspan dy="-5.5"> </tspan>TE (TS/NTS)</text>
<line x1="1358.3" y1="2217.2" x2="1358.3" y2="2250.8" stroke="#333333" stroke-width="2.2"/>
<rect x="1342.10" y="2222.60" width="32.30" height="22.00" fill="#d5621d" stroke="#333333" stroke-width="2.3" stroke-linejoin="round"/>
<line x1="1342.1" y1="2233.6" x2="1374.6" y2="2233.6" stroke="#333333" stroke-width="2.1"/>
<circle cx="1358.3" cy="2233.6" r="3.1" fill="#000"/>
<text x="1393.1" y="2241.8" font-size="22" text-anchor="start" fill="#000">NTS</text>
<line x1="1471.4" y1="2217.2" x2="1471.4" y2="2250.8" stroke="#333333" stroke-width="2.2"/>
<rect x="1455.20" y="2222.60" width="32.30" height="22.00" fill="#70bfe9" stroke="#333333" stroke-width="2.3" stroke-linejoin="round"/>
<line x1="1455.2" y1="2233.6" x2="1487.7" y2="2233.6" stroke="#333333" stroke-width="2.1"/>
<circle cx="1471.4" cy="2233.6" r="3.1" fill="#000"/>
<text x="1505.6" y="2241.8" font-size="22" text-anchor="start" fill="#000">TS</text>
<text transform="translate(766.7 1466.8) scale(0.97 1)" font-size="53.5" font-weight="bold" fill="#000">g</text>
</svg>
</body></html>
